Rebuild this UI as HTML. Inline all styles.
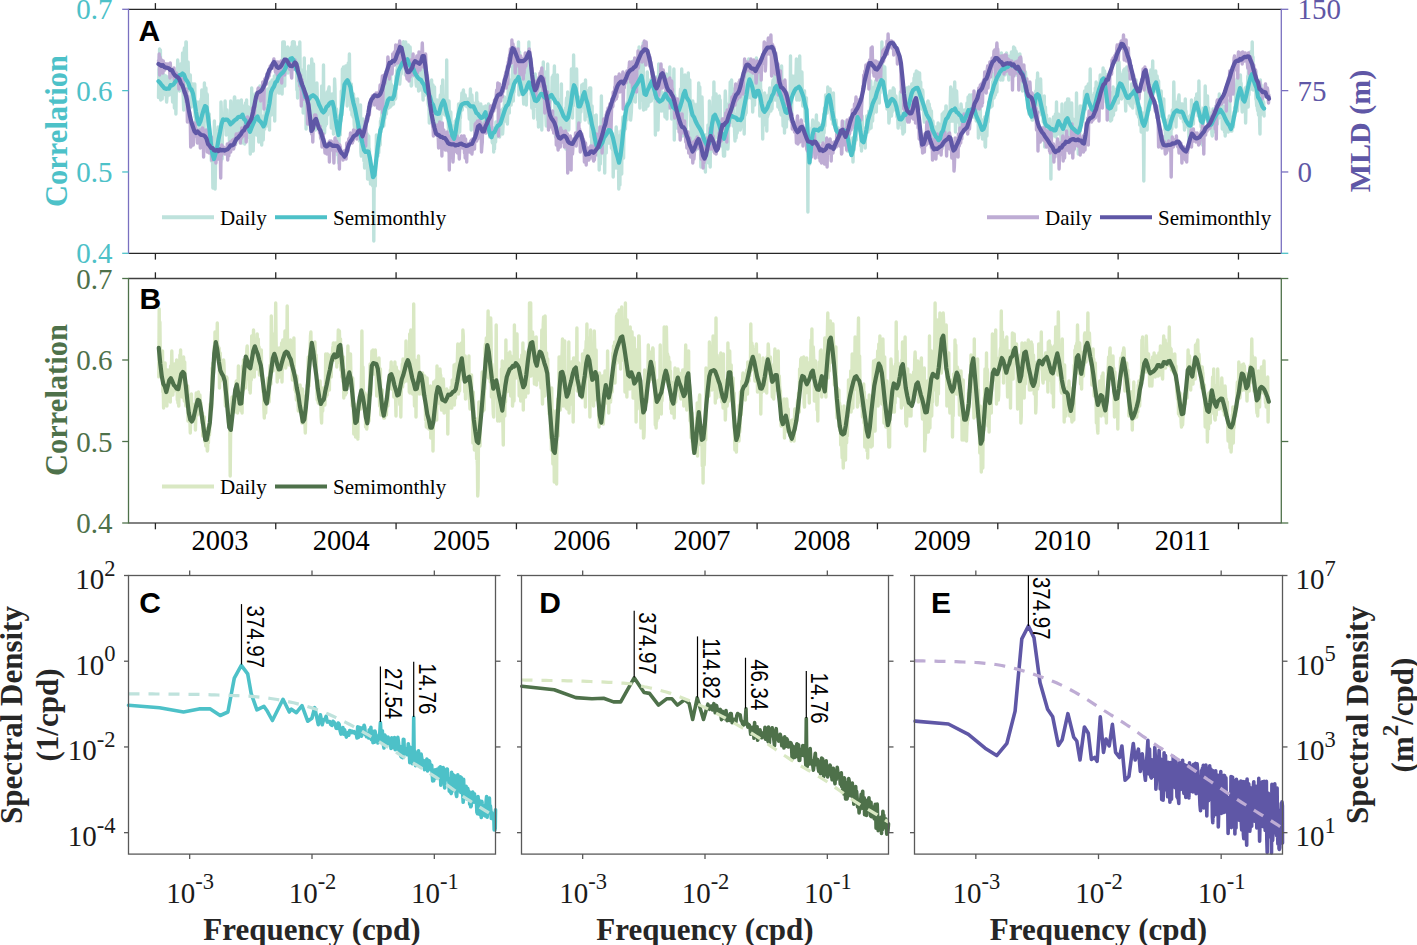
<!DOCTYPE html>
<html><head><meta charset="utf-8"><style>
html,body{margin:0;padding:0;background:#fff;width:1417px;height:945px;overflow:hidden}
svg{display:block}
</style></head><body>
<svg width="1417" height="945" viewBox="0 0 1417 945">
<rect width="1417" height="945" fill="#fff"/>
<path d="M158.5 97.6L158.9 69L159.2 72L159.6 49L160.0 90L160.4 50L160.7 100L161.1 75L161.5 86L161.8 81L162.2 99L162.6 64L162.9 80L163.3 81L163.7 81L164.1 75L164.4 84L164.8 77L165.2 87L165.5 95L165.9 76L166.3 96L166.6 102L167.0 97L167.4 85L167.8 82L168.1 77L168.5 77L168.9 84L169.2 95L169.6 80L170.0 82L170.3 78L170.7 75L171.1 76L171.5 85L171.8 70L172.2 88L172.6 102L172.9 98L173.3 83L173.7 70L174.0 71L174.4 108L174.8 86L175.2 73L175.5 84L175.9 114L176.3 86L176.6 90L177.0 85L177.4 74L177.7 60L178.1 70L178.5 73L178.9 85L179.2 90L179.6 91L180.0 81L180.3 89L180.7 64L181.1 81L181.4 83L181.8 69L182.2 80L182.6 53L182.9 90L183.3 98L183.7 110L184.0 54L184.4 48L184.8 63L185.1 59L185.5 88L185.9 42L186.3 42L186.6 68L187.0 89L187.4 82L187.7 91L188.1 62L188.5 76L188.8 84L189.2 89L189.6 87L190.0 86L190.3 75L190.7 91L191.1 90L191.4 107L191.8 96L192.2 97L192.5 87L192.9 84L193.3 102L193.7 100L194.0 95L194.4 96L194.8 84L195.1 117L195.5 103L195.9 128L196.2 123L196.6 127L197.0 102L197.4 121L197.7 133L198.1 109L198.5 118L198.8 124L199.2 102L199.6 125L199.9 135L200.3 109L200.7 124L201.1 99L201.4 114L201.8 90L202.2 128L202.5 120L202.9 111L203.3 97L203.6 125L204.0 137L204.4 83L204.8 121L205.1 113L205.5 112L205.9 88L206.2 116L206.6 100L207.0 94L207.3 95L207.7 122L208.1 130L208.5 114L208.8 131L209.2 114L209.6 142L209.9 138L210.3 138L210.7 143L211.0 149L211.4 161L211.8 160L212.2 155L212.5 156L212.9 188L213.3 163L213.6 169L214.0 154L214.4 121L214.7 168L215.1 189L215.5 165L215.9 153L216.2 149L216.6 148L217.0 143L217.3 130L217.7 135L218.1 127L218.4 142L218.8 134L219.2 138L219.6 132L219.9 147L220.3 135L220.7 162L221.0 102L221.4 114L221.8 136L222.1 159L222.5 122L222.9 121L223.3 117L223.6 118L224.0 117L224.4 127L224.7 115L225.1 101L225.5 120L225.8 125L226.2 135L226.6 119L227.0 110L227.3 125L227.7 123L228.1 123L228.4 119L228.8 135L229.2 126L229.5 146L229.9 138L230.3 131L230.7 101L231.0 127L231.4 128L231.8 133L232.1 136L232.5 118L232.9 132L233.2 115L233.6 147L234.0 106L234.4 97L234.7 97L235.1 107L235.5 104L235.8 144L236.2 118L236.6 102L236.9 131L237.3 112L237.7 101L238.1 128L238.4 127L238.8 101L239.2 135L239.5 119L239.9 137L240.3 124L240.6 137L241.0 119L241.4 100L241.8 143L242.1 111L242.5 112L242.9 106L243.2 113L243.6 119L244.0 120L244.3 127L244.7 144L245.1 120L245.5 103L245.8 104L246.2 112L246.6 100L246.9 133L247.3 120L247.7 121L248.0 126L248.4 107L248.8 114L249.2 136L249.5 138L249.9 124L250.3 154L250.6 112L251.0 114L251.4 123L251.7 88L252.1 151L252.5 133L252.9 103L253.2 151L253.6 134L254.0 128L254.3 111L254.7 119L255.1 94L255.4 127L255.8 112L256.2 118L256.6 135L256.9 121L257.3 101L257.7 121L258.0 106L258.4 129L258.8 142L259.1 132L259.5 133L259.9 86L260.3 107L260.6 100L261.0 138L261.4 122L261.7 145L262.1 116L262.5 118L262.8 127L263.2 140L263.6 129L264.0 130L264.3 128L264.7 129L265.1 109L265.4 123L265.8 110L266.2 119L266.5 126L266.9 108L267.3 113L267.7 89L268.0 116L268.4 120L268.8 95L269.1 111L269.5 130L269.9 83L270.2 85L270.6 82L271.0 89L271.4 115L271.7 93L272.1 80L272.5 97L272.8 80L273.2 102L273.6 92L273.9 106L274.3 76L274.7 121L275.1 90L275.4 94L275.8 82L276.2 71L276.5 67L276.9 77L277.3 68L277.6 82L278.0 67L278.4 86L278.8 93L279.1 68L279.5 93L279.9 75L280.2 92L280.6 83L281.0 91L281.3 62L281.7 71L282.1 94L282.5 66L282.8 42L283.2 42L283.6 42L283.9 42L284.3 42L284.7 86L285.0 64L285.4 71L285.8 65L286.2 66L286.5 57L286.9 61L287.3 69L287.6 47L288.0 73L288.4 57L288.7 58L289.1 70L289.5 50L289.9 49L290.2 59L290.6 54L291.0 50L291.3 47L291.7 49L292.1 67L292.4 42L292.8 61L293.2 42L293.6 69L293.9 68L294.3 42L294.7 65L295.0 46L295.4 65L295.8 60L296.1 68L296.5 64L296.9 90L297.3 79L297.6 98L298.0 65L298.4 47L298.7 82L299.1 88L299.5 79L299.8 42L300.2 72L300.6 89L301.0 81L301.3 83L301.7 83L302.1 75L302.4 81L302.8 70L303.2 113L303.5 70L303.9 100L304.3 58L304.7 105L305.0 71L305.4 107L305.8 98L306.1 129L306.5 82L306.9 98L307.2 104L307.6 118L308.0 95L308.4 100L308.7 66L309.1 83L309.5 104L309.8 117L310.2 96L310.6 131L310.9 130L311.3 100L311.7 59L312.1 65L312.4 82L312.8 114L313.2 104L313.5 64L313.9 91L314.3 123L314.6 94L315.0 85L315.4 130L315.8 102L316.1 92L316.5 105L316.9 83L317.2 94L317.6 120L318.0 122L318.3 118L318.7 105L319.1 123L319.5 108L319.8 115L320.2 123L320.6 123L320.9 139L321.3 120L321.7 86L322.0 91L322.4 113L322.8 109L323.2 102L323.5 65L323.9 126L324.3 107L324.6 133L325.0 105L325.4 126L325.7 121L326.1 98L326.5 124L326.9 95L327.2 92L327.6 115L328.0 96L328.3 91L328.7 89L329.1 87L329.4 112L329.8 103L330.2 101L330.6 99L330.9 107L331.3 128L331.7 117L332.0 94L332.4 112L332.8 101L333.1 100L333.5 134L333.9 103L334.3 101L334.6 79L335.0 88L335.4 121L335.7 109L336.1 130L336.5 109L336.8 114L337.2 139L337.6 155L338.0 118L338.3 154L338.7 163L339.1 139L339.4 116L339.8 124L340.2 135L340.5 117L340.9 121L341.3 91L341.7 96L342.0 115L342.4 69L342.8 80L343.1 95L343.5 67L343.9 84L344.2 76L344.6 67L345.0 80L345.4 71L345.7 66L346.1 82L346.5 66L346.8 87L347.2 106L347.6 77L347.9 83L348.3 63L348.7 90L349.1 71L349.4 54L349.8 88L350.2 88L350.5 94L350.9 110L351.3 84L351.6 92L352.0 115L352.4 109L352.8 107L353.1 117L353.5 94L353.9 110L354.2 124L354.6 129L355.0 99L355.3 106L355.7 116L356.1 110L356.5 110L356.8 126L357.2 116L357.6 99L357.9 125L358.3 120L358.7 117L359.0 107L359.4 141L359.8 106L360.2 111L360.5 105L360.9 152L361.3 156L361.6 130L362.0 140L362.4 127L362.7 156L363.1 119L363.5 146L363.9 161L364.2 150L364.6 168L365.0 143L365.3 155L365.7 161L366.1 151L366.4 167L366.8 153L367.2 134L367.6 179L367.9 156L368.3 154L368.7 136L369.0 152L369.4 149L369.8 164L370.1 165L370.5 184L370.9 169L371.3 173L371.6 174L372.0 170L372.4 171L372.7 186L373.1 186L373.5 172L373.8 241L374.2 175L374.6 185L375.0 172L375.3 186L375.7 160L376.1 163L376.4 135L376.8 148L377.2 149L377.5 154L377.9 156L378.3 145L378.7 153L379.0 145L379.4 146L379.8 130L380.1 145L380.5 121L380.9 132L381.2 118L381.6 119L382.0 109L382.4 115L382.7 122L383.1 118L383.5 104L383.8 126L384.2 117L384.6 113L384.9 118L385.3 104L385.7 89L386.1 72L386.4 114L386.8 94L387.2 109L387.5 95L387.9 103L388.3 80L388.6 108L389.0 99L389.4 107L389.8 101L390.1 107L390.5 74L390.9 106L391.2 84L391.6 87L392.0 105L392.3 100L392.7 98L393.1 98L393.5 104L393.8 93L394.2 100L394.6 86L394.9 87L395.3 99L395.7 98L396.0 76L396.4 89L396.8 70L397.2 84L397.5 57L397.9 60L398.3 66L398.6 68L399.0 83L399.4 78L399.7 84L400.1 79L400.5 64L400.9 62L401.2 74L401.6 65L402.0 62L402.3 50L402.7 57L403.1 42L403.4 56L403.8 42L404.2 68L404.6 59L404.9 59L405.3 75L405.7 42L406.0 65L406.4 48L406.8 63L407.1 67L407.5 71L407.9 57L408.3 45L408.6 67L409.0 65L409.4 66L409.7 69L410.1 47L410.5 58L410.8 55L411.2 86L411.6 85L412.0 58L412.3 71L412.7 74L413.1 76L413.4 71L413.8 62L414.2 63L414.5 66L414.9 72L415.3 69L415.7 71L416.0 82L416.4 86L416.8 63L417.1 68L417.5 66L417.9 86L418.2 76L418.6 91L419.0 74L419.4 77L419.7 65L420.1 90L420.5 77L420.8 64L421.2 73L421.6 56L421.9 79L422.3 83L422.7 86L423.1 100L423.4 83L423.8 93L424.2 90L424.5 82L424.9 68L425.3 95L425.6 85L426.0 88L426.4 76L426.8 93L427.1 94L427.5 94L427.9 93L428.2 104L428.6 106L429.0 105L429.3 123L429.7 96L430.1 96L430.5 91L430.8 105L431.2 97L431.6 80L431.9 91L432.3 105L432.7 116L433.0 85L433.4 102L433.8 108L434.2 104L434.5 87L434.9 112L435.3 115L435.6 107L436.0 127L436.4 104L436.7 126L437.1 100L437.5 119L437.9 108L438.2 103L438.6 105L439.0 111L439.3 109L439.7 124L440.1 98L440.4 95L440.8 121L441.2 111L441.6 86L441.9 106L442.3 104L442.7 80L443.0 94L443.4 100L443.8 109L444.1 114L444.5 106L444.9 115L445.3 105L445.6 98L446.0 98L446.4 114L446.7 60L447.1 118L447.5 105L447.8 112L448.2 122L448.6 131L449.0 101L449.3 113L449.7 124L450.1 121L450.4 136L450.8 112L451.2 134L451.5 138L451.9 136L452.3 146L452.7 126L453.0 146L453.4 131L453.8 145L454.1 129L454.5 145L454.9 144L455.2 121L455.6 130L456.0 130L456.4 124L456.7 119L457.1 141L457.5 126L457.8 135L458.2 113L458.6 104L458.9 113L459.3 106L459.7 132L460.1 113L460.4 118L460.8 104L461.2 101L461.5 102L461.9 93L462.3 110L462.6 101L463.0 95L463.4 90L463.8 99L464.1 104L464.5 105L464.9 101L465.2 95L465.6 102L466.0 106L466.3 101L466.7 102L467.1 100L467.5 107L467.8 99L468.2 104L468.6 107L468.9 111L469.3 119L469.7 113L470.0 111L470.4 89L470.8 110L471.2 130L471.5 100L471.9 95L472.3 103L472.6 117L473.0 114L473.4 103L473.7 107L474.1 119L474.5 115L474.9 135L475.2 123L475.6 115L476.0 117L476.3 109L476.7 93L477.1 113L477.4 118L477.8 102L478.2 109L478.6 111L478.9 117L479.3 114L479.7 115L480.0 118L480.4 126L480.8 104L481.1 129L481.5 129L481.9 118L482.3 121L482.6 117L483.0 109L483.4 107L483.7 121L484.1 117L484.5 123L484.8 115L485.2 114L485.6 106L486.0 110L486.3 112L486.7 115L487.1 124L487.4 114L487.8 128L488.2 125L488.5 104L488.9 132L489.3 118L489.7 137L490.0 126L490.4 123L490.8 124L491.1 124L491.5 131L491.9 131L492.2 142L492.6 143L493.0 136L493.4 128L493.7 152L494.1 130L494.5 149L494.8 130L495.2 142L495.6 142L495.9 122L496.3 132L496.7 137L497.1 136L497.4 127L497.8 130L498.2 123L498.5 114L498.9 134L499.3 113L499.6 137L500.0 131L500.4 113L500.8 119L501.1 117L501.5 110L501.9 123L502.2 114L502.6 134L503.0 127L503.3 108L503.7 114L504.1 112L504.5 97L504.8 121L505.2 112L505.6 121L505.9 106L506.3 119L506.7 107L507.0 116L507.4 124L507.8 108L508.2 88L508.5 74L508.9 98L509.3 113L509.6 89L510.0 80L510.4 99L510.7 101L511.1 105L511.5 85L511.9 87L512.2 101L512.6 66L513.0 71L513.3 101L513.7 89L514.1 92L514.4 81L514.8 67L515.2 64L515.6 75L515.9 78L516.3 71L516.7 82L517.0 68L517.4 79L517.8 78L518.1 68L518.5 42L518.9 95L519.3 86L519.6 52L520.0 75L520.4 88L520.7 83L521.1 94L521.5 76L521.8 90L522.2 89L522.6 79L523.0 89L523.3 95L523.7 104L524.1 87L524.4 67L524.8 93L525.2 88L525.5 95L525.9 98L526.3 105L526.7 87L527.0 58L527.4 82L527.8 89L528.1 83L528.5 82L528.9 42L529.2 87L529.6 80L530.0 66L530.4 73L530.7 75L531.1 94L531.5 96L531.8 108L532.2 101L532.6 79L532.9 77L533.3 108L533.7 118L534.1 98L534.4 107L534.8 82L535.2 74L535.5 84L535.9 96L536.3 85L536.6 97L537.0 94L537.4 101L537.8 120L538.1 101L538.5 127L538.9 88L539.2 87L539.6 99L540.0 89L540.3 93L540.7 79L541.1 100L541.5 96L541.8 130L542.2 89L542.6 89L542.9 95L543.3 62L543.7 100L544.0 102L544.4 98L544.8 75L545.2 72L545.5 92L545.9 117L546.3 126L546.6 89L547.0 83L547.4 94L547.7 64L548.1 87L548.5 111L548.9 113L549.2 98L549.6 124L550.0 104L550.3 101L550.7 94L551.1 99L551.4 92L551.8 93L552.2 77L552.6 98L552.9 96L553.3 75L553.7 91L554.0 84L554.4 66L554.8 102L555.1 122L555.5 137L555.9 109L556.3 90L556.6 113L557.0 120L557.4 75L557.7 114L558.1 115L558.5 100L558.8 110L559.2 108L559.6 133L560.0 100L560.3 105L560.7 109L561.1 115L561.4 84L561.8 132L562.2 119L562.5 124L562.9 119L563.3 114L563.7 111L564.0 114L564.4 121L564.8 137L565.1 120L565.5 108L565.9 149L566.2 103L566.6 98L567.0 123L567.4 116L567.7 92L568.1 109L568.5 104L568.8 130L569.2 104L569.6 106L569.9 113L570.3 105L570.7 104L571.1 108L571.4 69L571.8 99L572.2 90L572.5 118L572.9 85L573.3 106L573.6 55L574.0 86L574.4 91L574.8 84L575.1 87L575.5 87L575.9 85L576.2 93L576.6 69L577.0 92L577.3 133L577.7 106L578.1 110L578.5 101L578.8 111L579.2 115L579.6 108L579.9 122L580.3 97L580.7 104L581.0 112L581.4 101L581.8 85L582.2 107L582.5 86L582.9 91L583.3 84L583.6 93L584.0 88L584.4 86L584.7 103L585.1 120L585.5 80L585.9 103L586.2 93L586.6 100L587.0 116L587.3 104L587.7 91L588.1 93L588.4 96L588.8 107L589.2 123L589.6 88L589.9 90L590.3 98L590.7 88L591.0 137L591.4 122L591.8 152L592.1 106L592.5 146L592.9 120L593.3 124L593.6 118L594.0 120L594.4 116L594.7 141L595.1 122L595.5 137L595.8 144L596.2 115L596.6 149L597.0 152L597.3 155L597.7 144L598.1 153L598.4 132L598.8 132L599.2 170L599.5 147L599.9 133L600.3 164L600.7 142L601.0 125L601.4 96L601.8 136L602.1 124L602.5 129L602.9 148L603.2 134L603.6 137L604.0 133L604.4 154L604.7 173L605.1 130L605.5 143L605.8 152L606.2 153L606.6 124L606.9 125L607.3 122L607.7 117L608.1 120L608.4 133L608.8 121L609.2 143L609.5 122L609.9 125L610.3 143L610.6 137L611.0 135L611.4 148L611.8 144L612.1 134L612.5 150L612.9 143L613.2 177L613.6 161L614.0 162L614.3 166L614.7 149L615.1 168L615.5 151L615.8 137L616.2 127L616.6 161L616.9 131L617.3 158L617.7 147L618.0 169L618.4 149L618.8 189L619.2 176L619.5 142L619.9 185L620.3 135L620.6 143L621.0 131L621.4 159L621.7 174L622.1 138L622.5 124L622.9 117L623.2 155L623.6 158L624.0 123L624.3 131L624.7 121L625.1 116L625.4 129L625.8 120L626.2 108L626.6 104L626.9 120L627.3 102L627.7 105L628.0 107L628.4 83L628.8 94L629.1 94L629.5 100L629.9 80L630.3 76L630.6 120L631.0 116L631.4 111L631.7 101L632.1 102L632.5 91L632.8 99L633.2 61L633.6 69L634.0 99L634.3 89L634.7 67L635.1 95L635.4 102L635.8 73L636.2 85L636.5 70L636.9 83L637.3 89L637.7 76L638.0 88L638.4 86L638.8 86L639.1 47L639.5 93L639.9 108L640.2 75L640.6 55L641.0 86L641.4 72L641.7 64L642.1 100L642.5 63L642.8 95L643.2 43L643.6 110L643.9 101L644.3 89L644.7 96L645.1 105L645.4 109L645.8 109L646.2 104L646.5 87L646.9 103L647.3 72L647.6 104L648.0 106L648.4 98L648.8 82L649.1 91L649.5 102L649.9 93L650.2 80L650.6 91L651.0 87L651.3 101L651.7 77L652.1 89L652.5 90L652.8 98L653.2 87L653.6 90L653.9 87L654.3 90L654.7 91L655.0 87L655.4 135L655.8 86L656.2 77L656.5 83L656.9 86L657.3 99L657.6 123L658.0 130L658.4 109L658.7 64L659.1 104L659.5 82L659.9 92L660.2 82L660.6 106L661.0 91L661.3 111L661.7 108L662.1 96L662.4 99L662.8 105L663.2 93L663.6 111L663.9 98L664.3 101L664.7 109L665.0 117L665.4 106L665.8 97L666.1 107L666.5 74L666.9 119L667.3 79L667.6 109L668.0 87L668.4 105L668.7 98L669.1 103L669.5 89L669.8 67L670.2 103L670.6 91L671.0 92L671.3 91L671.7 119L672.1 98L672.4 108L672.8 89L673.2 105L673.5 100L673.9 69L674.3 140L674.7 95L675.0 126L675.4 121L675.8 120L676.1 107L676.5 112L676.9 128L677.2 107L677.6 106L678.0 125L678.4 112L678.7 102L679.1 129L679.5 114L679.8 105L680.2 94L680.6 89L680.9 116L681.3 118L681.7 69L682.1 87L682.4 112L682.8 136L683.2 134L683.5 114L683.9 119L684.3 88L684.6 105L685.0 75L685.4 83L685.8 85L686.1 129L686.5 110L686.9 89L687.2 95L687.6 78L688.0 105L688.3 73L688.7 103L689.1 89L689.5 103L689.8 80L690.2 110L690.6 126L690.9 123L691.3 141L691.7 118L692.0 119L692.4 121L692.8 101L693.2 147L693.5 134L693.9 115L694.3 104L694.6 127L695.0 134L695.4 124L695.7 125L696.1 120L696.5 123L696.9 145L697.2 149L697.6 104L698.0 126L698.3 108L698.7 83L699.1 135L699.4 116L699.8 87L700.2 137L700.6 153L700.9 167L701.3 131L701.7 157L702.0 97L702.4 116L702.8 144L703.1 147L703.5 161L703.9 158L704.3 142L704.6 164L705.0 156L705.4 172L705.7 135L706.1 149L706.5 139L706.8 158L707.2 144L707.6 141L708.0 125L708.3 149L708.7 163L709.1 161L709.4 101L709.8 109L710.2 167L710.5 135L710.9 130L711.3 147L711.7 132L712.0 114L712.4 118L712.8 151L713.1 97L713.5 137L713.9 82L714.2 110L714.6 144L715.0 108L715.4 129L715.7 107L716.1 94L716.5 113L716.8 137L717.2 119L717.6 130L717.9 126L718.3 125L718.7 118L719.1 128L719.4 96L719.8 118L720.2 100L720.5 132L720.9 136L721.3 121L721.6 146L722.0 143L722.4 142L722.8 132L723.1 145L723.5 156L723.9 130L724.2 125L724.6 156L725.0 101L725.3 91L725.7 101L726.1 133L726.5 134L726.8 138L727.2 129L727.6 149L727.9 149L728.3 142L728.7 104L729.0 123L729.4 105L729.8 108L730.2 82L730.5 113L730.9 122L731.3 117L731.6 80L732.0 91L732.4 102L732.7 103L733.1 126L733.5 89L733.9 113L734.2 114L734.6 132L735.0 141L735.3 126L735.7 116L736.1 138L736.4 127L736.8 115L737.2 133L737.6 106L737.9 87L738.3 127L738.7 125L739.0 88L739.4 89L739.8 119L740.1 130L740.5 129L740.9 103L741.3 103L741.6 127L742.0 86L742.4 115L742.7 117L743.1 125L743.5 81L743.8 109L744.2 134L744.6 100L745.0 99L745.3 115L745.7 90L746.1 113L746.4 105L746.8 73L747.2 91L747.5 69L747.9 98L748.3 65L748.7 59L749.0 66L749.4 69L749.8 97L750.1 84L750.5 81L750.9 98L751.2 77L751.6 78L752.0 61L752.4 97L752.7 112L753.1 97L753.5 85L753.8 87L754.2 81L754.6 105L754.9 83L755.3 90L755.7 79L756.1 67L756.4 58L756.8 76L757.2 90L757.5 84L757.9 83L758.3 74L758.6 76L759.0 76L759.4 84L759.8 116L760.1 95L760.5 80L760.9 112L761.2 90L761.6 108L762.0 100L762.3 106L762.7 139L763.1 103L763.5 102L763.8 112L764.2 113L764.6 93L764.9 104L765.3 118L765.7 125L766.0 103L766.4 98L766.8 131L767.2 96L767.5 117L767.9 115L768.3 96L768.6 114L769.0 95L769.4 93L769.7 88L770.1 110L770.5 96L770.9 111L771.2 92L771.6 103L772.0 109L772.3 95L772.7 83L773.1 80L773.4 100L773.8 95L774.2 84L774.6 70L774.9 90L775.3 100L775.7 100L776.0 89L776.4 82L776.8 77L777.1 69L777.5 69L777.9 107L778.3 89L778.6 98L779.0 92L779.4 75L779.7 110L780.1 87L780.5 90L780.8 113L781.2 115L781.6 66L782.0 99L782.3 91L782.7 109L783.1 126L783.4 103L783.8 125L784.2 99L784.5 133L784.9 104L785.3 106L785.7 113L786.0 98L786.4 127L786.8 102L787.1 117L787.5 98L787.9 111L788.2 104L788.6 106L789.0 112L789.4 97L789.7 119L790.1 108L790.5 56L790.8 120L791.2 107L791.6 115L791.9 98L792.3 76L792.7 90L793.1 83L793.4 92L793.8 88L794.2 93L794.5 76L794.9 82L795.3 86L795.6 94L796.0 75L796.4 59L796.8 100L797.1 79L797.5 92L797.9 98L798.2 88L798.6 94L799.0 95L799.3 100L799.7 56L800.1 86L800.5 94L800.8 83L801.2 89L801.6 85L801.9 72L802.3 93L802.7 106L803.0 92L803.4 96L803.8 93L804.2 92L804.5 91L804.9 109L805.3 121L805.6 101L806.0 101L806.4 98L806.7 121L807.1 123L807.5 123L807.9 212L808.2 136L808.6 160L809.0 159L809.3 151L809.7 164L810.1 158L810.4 149L810.8 153L811.2 139L811.6 148L811.9 128L812.3 127L812.7 120L813.0 125L813.4 122L813.8 125L814.1 128L814.5 133L814.9 129L815.3 130L815.6 143L816.0 127L816.4 115L816.7 135L817.1 146L817.5 132L817.8 136L818.2 123L818.6 127L819.0 134L819.3 132L819.7 125L820.1 142L820.4 132L820.8 136L821.2 132L821.5 135L821.9 136L822.3 126L822.7 133L823.0 142L823.4 140L823.8 114L824.1 133L824.5 108L824.9 126L825.2 114L825.6 95L826.0 106L826.4 111L826.7 95L827.1 113L827.5 109L827.8 87L828.2 102L828.6 95L828.9 90L829.3 93L829.7 93L830.1 89L830.4 95L830.8 106L831.2 115L831.5 119L831.9 106L832.3 110L832.6 107L833.0 124L833.4 93L833.8 109L834.1 117L834.5 126L834.9 124L835.2 128L835.6 130L836.0 120L836.3 124L836.7 129L837.1 137L837.5 136L837.8 142L838.2 128L838.6 140L838.9 142L839.3 133L839.7 135L840.0 134L840.4 136L840.8 135L841.2 143L841.5 136L841.9 138L842.3 134L842.6 122L843.0 132L843.4 128L843.7 124L844.1 122L844.5 128L844.9 124L845.2 145L845.6 144L846.0 130L846.3 138L846.7 140L847.1 135L847.4 151L847.8 147L848.2 140L848.6 127L848.9 135L849.3 149L849.7 146L850.0 151L850.4 146L850.8 155L851.1 151L851.5 141L851.9 151L852.3 148L852.6 138L853.0 162L853.4 149L853.7 143L854.1 150L854.5 140L854.8 144L855.2 121L855.6 120L856.0 131L856.3 140L856.7 125L857.1 124L857.4 112L857.8 117L858.2 112L858.5 119L858.9 130L859.3 108L859.7 129L860.0 123L860.4 100L860.8 146L861.1 124L861.5 151L861.9 126L862.2 116L862.6 143L863.0 142L863.4 142L863.7 140L864.1 134L864.5 133L864.8 128L865.2 148L865.6 132L865.9 132L866.3 128L866.7 116L867.1 130L867.4 129L867.8 132L868.2 120L868.5 116L868.9 111L869.3 129L869.6 125L870.0 114L870.4 117L870.8 81L871.1 128L871.5 96L871.9 103L872.2 101L872.6 121L873.0 106L873.3 114L873.7 101L874.1 87L874.5 105L874.8 92L875.2 83L875.6 81L875.9 101L876.3 112L876.7 80L877.0 69L877.4 97L877.8 93L878.2 63L878.5 90L878.9 66L879.3 103L879.6 63L880.0 93L880.4 77L880.7 75L881.1 83L881.5 70L881.9 42L882.2 85L882.6 65L883.0 68L883.3 83L883.7 84L884.1 75L884.4 75L884.8 67L885.2 87L885.6 95L885.9 101L886.3 97L886.7 96L887.0 109L887.4 101L887.8 99L888.1 103L888.5 98L888.9 123L889.3 119L889.6 95L890.0 91L890.4 99L890.7 104L891.1 99L891.5 116L891.8 109L892.2 112L892.6 95L893.0 90L893.3 88L893.7 97L894.1 89L894.4 95L894.8 98L895.2 110L895.5 102L895.9 96L896.3 104L896.7 107L897.0 117L897.4 107L897.8 120L898.1 128L898.5 123L898.9 121L899.2 116L899.6 114L900.0 101L900.4 92L900.7 117L901.1 121L901.5 125L901.8 113L902.2 129L902.6 121L902.9 134L903.3 121L903.7 121L904.1 115L904.4 132L904.8 95L905.2 108L905.5 110L905.9 97L906.3 102L906.6 88L907.0 110L907.4 95L907.8 110L908.1 105L908.5 97L908.9 87L909.2 94L909.6 97L910.0 89L910.3 105L910.7 89L911.1 111L911.5 93L911.8 84L912.2 104L912.6 105L912.9 88L913.3 83L913.7 96L914.0 78L914.4 96L914.8 74L915.2 84L915.5 87L915.9 99L916.3 71L916.6 89L917.0 88L917.4 90L917.7 72L918.1 77L918.5 86L918.9 90L919.2 109L919.6 73L920.0 96L920.3 103L920.7 82L921.1 104L921.4 108L921.8 109L922.2 99L922.6 90L922.9 92L923.3 105L923.7 110L924.0 118L924.4 122L924.8 118L925.1 110L925.5 112L925.9 108L926.3 122L926.6 116L927.0 116L927.4 102L927.7 102L928.1 101L928.5 130L928.8 130L929.2 104L929.6 119L930.0 108L930.3 120L930.7 130L931.1 116L931.4 111L931.8 129L932.2 132L932.5 130L932.9 121L933.3 127L933.7 135L934.0 132L934.4 153L934.8 139L935.1 134L935.5 140L935.9 127L936.2 139L936.6 151L937.0 131L937.4 134L937.7 144L938.1 123L938.5 150L938.8 130L939.2 134L939.6 141L939.9 135L940.3 145L940.7 139L941.1 124L941.4 136L941.8 148L942.2 114L942.5 133L942.9 127L943.3 118L943.6 117L944.0 112L944.4 130L944.8 113L945.1 119L945.5 123L945.9 106L946.2 106L946.6 146L947.0 112L947.3 126L947.7 113L948.1 121L948.5 113L948.8 137L949.2 112L949.6 122L949.9 120L950.3 100L950.7 87L951.0 115L951.4 121L951.8 105L952.2 102L952.5 120L952.9 121L953.3 121L953.6 113L954.0 89L954.4 93L954.7 82L955.1 106L955.5 132L955.9 117L956.2 110L956.6 91L957.0 101L957.3 111L957.7 109L958.1 122L958.4 113L958.8 122L959.2 115L959.6 114L959.9 130L960.3 111L960.7 114L961.0 104L961.4 108L961.8 130L962.1 127L962.5 117L962.9 130L963.3 126L963.6 127L964.0 123L964.4 110L964.7 122L965.1 126L965.5 110L965.8 117L966.2 125L966.6 113L967.0 103L967.3 113L967.7 126L968.1 97L968.4 110L968.8 104L969.2 107L969.5 95L969.9 120L970.3 97L970.7 103L971.0 101L971.4 98L971.8 95L972.1 100L972.5 106L972.9 108L973.2 117L973.6 102L974.0 101L974.4 102L974.7 111L975.1 110L975.5 118L975.8 106L976.2 121L976.6 119L976.9 115L977.3 112L977.7 120L978.1 113L978.4 138L978.8 126L979.2 131L979.5 115L979.9 111L980.3 104L980.6 134L981.0 123L981.4 125L981.8 124L982.1 132L982.5 139L982.9 120L983.2 134L983.6 124L984.0 125L984.3 127L984.7 117L985.1 146L985.5 147L985.8 132L986.2 128L986.6 113L986.9 136L987.3 118L987.7 114L988.0 122L988.4 113L988.8 102L989.2 104L989.5 101L989.9 102L990.3 104L990.6 103L991.0 107L991.4 96L991.7 100L992.1 106L992.5 82L992.9 94L993.2 80L993.6 74L994.0 98L994.3 96L994.7 90L995.1 80L995.4 95L995.8 72L996.2 81L996.6 85L996.9 92L997.3 67L997.7 56L998.0 76L998.4 79L998.8 78L999.1 68L999.5 73L999.9 61L1000.3 75L1000.6 80L1001.0 66L1001.4 53L1001.7 67L1002.1 68L1002.5 68L1002.8 80L1003.2 70L1003.6 61L1004.0 72L1004.3 59L1004.7 75L1005.1 66L1005.4 62L1005.8 68L1006.2 67L1006.5 53L1006.9 57L1007.3 74L1007.7 67L1008.0 70L1008.4 73L1008.8 80L1009.1 61L1009.5 58L1009.9 56L1010.2 59L1010.6 56L1011.0 63L1011.4 52L1011.7 69L1012.1 55L1012.5 58L1012.8 66L1013.2 70L1013.6 47L1013.9 58L1014.3 62L1014.7 48L1015.1 67L1015.4 74L1015.8 51L1016.2 52L1016.5 71L1016.9 75L1017.3 54L1017.6 57L1018.0 71L1018.4 65L1018.8 62L1019.1 79L1019.5 71L1019.9 54L1020.2 69L1020.6 58L1021.0 75L1021.3 79L1021.7 76L1022.1 81L1022.5 91L1022.8 83L1023.2 73L1023.6 68L1023.9 81L1024.3 73L1024.7 71L1025.0 81L1025.4 72L1025.8 77L1026.2 96L1026.5 92L1026.9 95L1027.3 100L1027.6 86L1028.0 106L1028.4 108L1028.7 109L1029.1 114L1029.5 92L1029.9 112L1030.2 115L1030.6 105L1031.0 116L1031.3 103L1031.7 114L1032.1 120L1032.4 100L1032.8 120L1033.2 113L1033.6 113L1033.9 112L1034.3 111L1034.7 116L1035.0 112L1035.4 106L1035.8 91L1036.1 100L1036.5 91L1036.9 80L1037.3 93L1037.6 73L1038.0 105L1038.4 95L1038.7 96L1039.1 85L1039.5 94L1039.8 95L1040.2 112L1040.6 79L1041.0 93L1041.3 103L1041.7 115L1042.1 113L1042.4 100L1042.8 103L1043.2 122L1043.5 121L1043.9 112L1044.3 96L1044.7 147L1045.0 138L1045.4 107L1045.8 117L1046.1 130L1046.5 115L1046.9 135L1047.2 143L1047.6 128L1048.0 124L1048.4 125L1048.7 135L1049.1 142L1049.5 137L1049.8 119L1050.2 134L1050.6 124L1050.9 179L1051.3 134L1051.7 138L1052.1 130L1052.4 129L1052.8 133L1053.2 129L1053.5 117L1053.9 120L1054.3 134L1054.6 125L1055.0 136L1055.4 114L1055.8 137L1056.1 126L1056.5 102L1056.9 131L1057.2 124L1057.6 127L1058.0 134L1058.3 114L1058.7 115L1059.1 123L1059.5 129L1059.8 118L1060.2 117L1060.6 132L1060.9 136L1061.3 141L1061.7 126L1062.0 104L1062.4 131L1062.8 136L1063.2 115L1063.5 128L1063.9 130L1064.3 129L1064.6 120L1065.0 119L1065.4 127L1065.7 103L1066.1 126L1066.5 115L1066.9 124L1067.2 110L1067.6 99L1068.0 127L1068.3 135L1068.7 99L1069.1 104L1069.4 119L1069.8 110L1070.2 128L1070.6 115L1070.9 117L1071.3 125L1071.7 103L1072.0 120L1072.4 145L1072.8 135L1073.1 119L1073.5 138L1073.9 150L1074.3 144L1074.6 126L1075.0 124L1075.4 127L1075.7 121L1076.1 131L1076.5 93L1076.8 123L1077.2 135L1077.6 127L1078.0 130L1078.3 154L1078.7 137L1079.1 140L1079.4 135L1079.8 135L1080.2 106L1080.5 119L1080.9 121L1081.3 117L1081.7 118L1082.0 120L1082.4 106L1082.8 121L1083.1 110L1083.5 119L1083.9 108L1084.2 99L1084.6 91L1085.0 93L1085.4 97L1085.7 109L1086.1 87L1086.5 103L1086.8 96L1087.2 90L1087.6 86L1087.9 102L1088.3 84L1088.7 96L1089.1 97L1089.4 103L1089.8 99L1090.2 69L1090.5 110L1090.9 100L1091.3 110L1091.6 116L1092.0 109L1092.4 96L1092.8 113L1093.1 109L1093.5 109L1093.9 108L1094.2 93L1094.6 94L1095.0 108L1095.3 88L1095.7 111L1096.1 82L1096.5 99L1096.8 102L1097.2 93L1097.6 104L1097.9 84L1098.3 99L1098.7 93L1099.0 88L1099.4 96L1099.8 92L1100.2 75L1100.5 95L1100.9 92L1101.3 83L1101.6 81L1102.0 90L1102.4 94L1102.7 84L1103.1 68L1103.5 76L1103.9 85L1104.2 74L1104.6 71L1105.0 83L1105.3 87L1105.7 92L1106.1 102L1106.4 75L1106.8 96L1107.2 98L1107.6 103L1107.9 108L1108.3 119L1108.7 111L1109.0 110L1109.4 102L1109.8 111L1110.1 109L1110.5 121L1110.9 93L1111.3 94L1111.6 120L1112.0 113L1112.4 112L1112.7 116L1113.1 87L1113.5 115L1113.8 92L1114.2 91L1114.6 109L1115.0 90L1115.3 103L1115.7 110L1116.1 92L1116.4 89L1116.8 100L1117.2 102L1117.5 95L1117.9 48L1118.3 103L1118.7 96L1119.0 62L1119.4 74L1119.8 72L1120.1 74L1120.5 85L1120.9 75L1121.2 97L1121.6 99L1122.0 88L1122.4 75L1122.7 85L1123.1 91L1123.5 97L1123.8 70L1124.2 91L1124.6 69L1124.9 87L1125.3 97L1125.7 111L1126.1 93L1126.4 92L1126.8 67L1127.2 72L1127.5 91L1127.9 102L1128.3 96L1128.6 98L1129.0 102L1129.4 99L1129.8 104L1130.1 101L1130.5 104L1130.9 106L1131.2 99L1131.6 84L1132.0 97L1132.3 96L1132.7 108L1133.1 100L1133.5 84L1133.8 86L1134.2 100L1134.6 92L1134.9 83L1135.3 96L1135.7 99L1136.0 80L1136.4 104L1136.8 98L1137.2 114L1137.5 94L1137.9 109L1138.3 113L1138.6 117L1139.0 109L1139.4 107L1139.7 125L1140.1 120L1140.5 108L1140.9 118L1141.2 132L1141.6 122L1142.0 117L1142.3 130L1142.7 113L1143.1 130L1143.4 134L1143.8 181L1144.2 128L1144.6 127L1144.9 121L1145.3 117L1145.7 92L1146.0 88L1146.4 116L1146.8 109L1147.1 130L1147.5 114L1147.9 107L1148.3 106L1148.6 100L1149.0 90L1149.4 110L1149.7 102L1150.1 94L1150.5 88L1150.8 70L1151.2 85L1151.6 95L1152.0 77L1152.3 80L1152.7 61L1153.1 88L1153.4 86L1153.8 82L1154.2 81L1154.5 85L1154.9 75L1155.3 85L1155.7 71L1156.0 84L1156.4 79L1156.8 92L1157.1 76L1157.5 82L1157.9 80L1158.2 96L1158.6 81L1159.0 99L1159.4 99L1159.7 101L1160.1 94L1160.5 104L1160.8 116L1161.2 91L1161.6 108L1161.9 101L1162.3 102L1162.7 105L1163.1 118L1163.4 116L1163.8 99L1164.2 122L1164.5 119L1164.9 130L1165.3 120L1165.6 143L1166.0 121L1166.4 134L1166.8 122L1167.1 130L1167.5 120L1167.9 138L1168.2 130L1168.6 140L1169.0 129L1169.3 116L1169.7 120L1170.1 122L1170.5 135L1170.8 145L1171.2 123L1171.6 123L1171.9 129L1172.3 110L1172.7 114L1173.0 121L1173.4 118L1173.8 82L1174.2 105L1174.5 112L1174.9 117L1175.3 105L1175.6 111L1176.0 127L1176.4 110L1176.7 115L1177.1 102L1177.5 104L1177.9 106L1178.2 102L1178.6 98L1179.0 95L1179.3 106L1179.7 116L1180.1 115L1180.4 116L1180.8 118L1181.2 104L1181.6 104L1181.9 108L1182.3 104L1182.7 114L1183.0 108L1183.4 122L1183.8 108L1184.1 119L1184.5 130L1184.9 109L1185.3 99L1185.6 113L1186.0 111L1186.4 122L1186.7 126L1187.1 117L1187.5 119L1187.8 126L1188.2 128L1188.6 117L1189.0 144L1189.3 126L1189.7 127L1190.1 122L1190.4 115L1190.8 117L1191.2 135L1191.5 100L1191.9 118L1192.3 108L1192.7 106L1193.0 118L1193.4 124L1193.8 105L1194.1 109L1194.5 107L1194.9 104L1195.2 110L1195.6 98L1196.0 105L1196.4 101L1196.7 94L1197.1 96L1197.5 111L1197.8 103L1198.2 116L1198.6 111L1198.9 81L1199.3 105L1199.7 107L1200.1 121L1200.4 119L1200.8 121L1201.2 127L1201.5 127L1201.9 122L1202.3 144L1202.6 145L1203.0 126L1203.4 108L1203.8 109L1204.1 120L1204.5 110L1204.9 111L1205.2 86L1205.6 110L1206.0 118L1206.3 102L1206.7 108L1207.1 111L1207.5 96L1207.8 111L1208.2 110L1208.6 108L1208.9 113L1209.3 124L1209.7 127L1210.0 128L1210.4 122L1210.8 120L1211.2 127L1211.5 113L1211.9 134L1212.3 136L1212.6 122L1213.0 109L1213.4 123L1213.7 116L1214.1 128L1214.5 127L1214.9 110L1215.2 127L1215.6 132L1216.0 122L1216.3 122L1216.7 103L1217.1 106L1217.4 124L1217.8 116L1218.2 112L1218.6 111L1218.9 118L1219.3 94L1219.7 106L1220.0 107L1220.4 108L1220.8 106L1221.1 111L1221.5 107L1221.9 107L1222.3 129L1222.6 114L1223.0 129L1223.4 106L1223.7 121L1224.1 116L1224.5 132L1224.8 114L1225.2 136L1225.6 115L1226.0 119L1226.3 109L1226.7 120L1227.1 120L1227.4 111L1227.8 101L1228.2 132L1228.5 131L1228.9 119L1229.3 125L1229.7 101L1230.0 124L1230.4 129L1230.8 131L1231.1 122L1231.5 124L1231.9 131L1232.2 118L1232.6 117L1233.0 123L1233.4 127L1233.7 116L1234.1 112L1234.5 117L1234.8 107L1235.2 113L1235.6 96L1235.9 88L1236.3 109L1236.7 85L1237.1 79L1237.4 111L1237.8 104L1238.2 87L1238.5 94L1238.9 76L1239.3 77L1239.6 88L1240.0 98L1240.4 75L1240.8 91L1241.1 83L1241.5 93L1241.9 105L1242.2 112L1242.6 102L1243.0 99L1243.3 103L1243.7 106L1244.1 93L1244.5 94L1244.8 90L1245.2 88L1245.6 123L1245.9 110L1246.3 87L1246.7 94L1247.0 97L1247.4 90L1247.8 76L1248.2 107L1248.5 61L1248.9 95L1249.3 85L1249.6 65L1250.0 77L1250.4 52L1250.7 80L1251.1 89L1251.5 70L1251.9 80L1252.2 42L1252.6 66L1253.0 57L1253.3 90L1253.7 84L1254.1 80L1254.4 78L1254.8 79L1255.2 83L1255.6 71L1255.9 99L1256.3 100L1256.7 106L1257.0 88L1257.4 109L1257.8 111L1258.1 104L1258.5 115L1258.9 83L1259.3 99L1259.6 121L1260.0 134L1260.4 80L1260.7 115L1261.1 85L1261.5 105L1261.8 95L1262.2 103L1262.6 96L1263.0 111L1263.3 104L1263.7 102L1264.1 116" fill="none" stroke="#bee2dc" stroke-width="3.4" stroke-linejoin="round" stroke-linecap="round"/><path d="M158.5 60.6L158.9 64L159.2 54L159.6 75L160.0 57L160.4 60L160.7 65L161.1 60L161.5 60L161.8 61L162.2 66L162.6 73L162.9 73L163.3 61L163.7 67L164.1 64L164.4 65L164.8 70L165.2 64L165.5 66L165.9 64L166.3 66L166.6 68L167.0 64L167.4 66L167.8 67L168.1 66L168.5 67L168.9 64L169.2 68L169.6 69L170.0 78L170.3 63L170.7 70L171.1 72L171.5 76L171.8 74L172.2 70L172.6 76L172.9 75L173.3 73L173.7 77L174.0 68L174.4 80L174.8 81L175.2 75L175.5 78L175.9 82L176.3 73L176.6 77L177.0 81L177.4 77L177.7 77L178.1 78L178.5 81L178.9 89L179.2 78L179.6 86L180.0 82L180.3 76L180.7 81L181.1 83L181.4 84L181.8 86L182.2 79L182.6 86L182.9 85L183.3 82L183.7 91L184.0 93L184.4 89L184.8 95L185.1 92L185.5 95L185.9 92L186.3 102L186.6 89L187.0 99L187.4 122L187.7 96L188.1 104L188.5 107L188.8 112L189.2 116L189.6 112L190.0 117L190.3 121L190.7 147L191.1 146L191.4 135L191.8 125L192.2 128L192.5 128L192.9 134L193.3 145L193.7 133L194.0 132L194.4 130L194.8 136L195.1 123L195.5 136L195.9 134L196.2 129L196.6 134L197.0 132L197.4 143L197.7 142L198.1 136L198.5 131L198.8 131L199.2 132L199.6 131L199.9 130L200.3 148L200.7 133L201.1 132L201.4 131L201.8 130L202.2 147L202.5 128L202.9 129L203.3 137L203.6 157L204.0 137L204.4 140L204.8 142L205.1 141L205.5 132L205.9 141L206.2 130L206.6 137L207.0 136L207.3 152L207.7 142L208.1 140L208.5 146L208.8 136L209.2 153L209.6 147L209.9 146L210.3 152L210.7 145L211.0 140L211.4 137L211.8 160L212.2 155L212.5 158L212.9 148L213.3 153L213.6 153L214.0 153L214.4 150L214.7 158L215.1 151L215.5 152L215.9 163L216.2 155L216.6 150L217.0 157L217.3 150L217.7 158L218.1 154L218.4 159L218.8 150L219.2 151L219.6 153L219.9 152L220.3 153L220.7 178L221.0 154L221.4 156L221.8 145L222.1 151L222.5 153L222.9 149L223.3 147L223.6 151L224.0 149L224.4 149L224.7 153L225.1 154L225.5 151L225.8 148L226.2 150L226.6 151L227.0 151L227.3 144L227.7 160L228.1 149L228.4 154L228.8 156L229.2 150L229.5 143L229.9 144L230.3 142L230.7 152L231.0 147L231.4 147L231.8 149L232.1 144L232.5 140L232.9 142L233.2 143L233.6 149L234.0 147L234.4 139L234.7 144L235.1 145L235.5 138L235.8 140L236.2 134L236.6 140L236.9 138L237.3 134L237.7 139L238.1 139L238.4 135L238.8 138L239.2 139L239.5 133L239.9 134L240.3 143L240.6 136L241.0 139L241.4 133L241.8 128L242.1 137L242.5 134L242.9 136L243.2 135L243.6 132L244.0 134L244.3 131L244.7 127L245.1 125L245.5 126L245.8 118L246.2 142L246.6 121L246.9 131L247.3 120L247.7 117L248.0 123L248.4 123L248.8 123L249.2 125L249.5 120L249.9 123L250.3 124L250.6 119L251.0 118L251.4 121L251.7 119L252.1 118L252.5 108L252.9 114L253.2 114L253.6 111L254.0 111L254.3 115L254.7 108L255.1 107L255.4 100L255.8 98L256.2 97L256.6 94L256.9 95L257.3 92L257.7 94L258.0 89L258.4 88L258.8 91L259.1 98L259.5 90L259.9 90L260.3 91L260.6 101L261.0 99L261.4 94L261.7 90L262.1 95L262.5 85L262.8 82L263.2 88L263.6 87L264.0 109L264.3 85L264.7 79L265.1 80L265.4 85L265.8 84L266.2 77L266.5 84L266.9 74L267.3 74L267.7 76L268.0 78L268.4 73L268.8 71L269.1 76L269.5 73L269.9 72L270.2 66L270.6 66L271.0 68L271.4 66L271.7 68L272.1 67L272.5 68L272.8 63L273.2 67L273.6 60L273.9 59L274.3 65L274.7 62L275.1 62L275.4 72L275.8 64L276.2 67L276.5 62L276.9 65L277.3 75L277.6 69L278.0 62L278.4 72L278.8 70L279.1 73L279.5 69L279.9 66L280.2 71L280.6 69L281.0 61L281.3 68L281.7 83L282.1 68L282.5 63L282.8 66L283.2 63L283.6 64L283.9 62L284.3 60L284.7 75L285.0 62L285.4 67L285.8 64L286.2 61L286.5 61L286.9 66L287.3 61L287.6 63L288.0 60L288.4 64L288.7 68L289.1 65L289.5 69L289.9 62L290.2 61L290.6 67L291.0 63L291.3 75L291.7 78L292.1 63L292.4 65L292.8 63L293.2 66L293.6 64L293.9 67L294.3 69L294.7 63L295.0 60L295.4 64L295.8 62L296.1 67L296.5 64L296.9 68L297.3 68L297.6 67L298.0 67L298.4 73L298.7 81L299.1 77L299.5 75L299.8 86L300.2 79L300.6 75L301.0 82L301.3 106L301.7 82L302.1 80L302.4 86L302.8 92L303.2 91L303.5 94L303.9 99L304.3 96L304.7 94L305.0 92L305.4 94L305.8 94L306.1 98L306.5 94L306.9 102L307.2 100L307.6 124L308.0 104L308.4 105L308.7 104L309.1 113L309.5 115L309.8 115L310.2 125L310.6 121L310.9 127L311.3 126L311.7 134L312.1 131L312.4 130L312.8 142L313.2 122L313.5 123L313.9 126L314.3 119L314.6 115L315.0 118L315.4 120L315.8 115L316.1 117L316.5 120L316.9 120L317.2 122L317.6 126L318.0 124L318.3 124L318.7 128L319.1 127L319.5 133L319.8 126L320.2 127L320.6 138L320.9 134L321.3 136L321.7 142L322.0 147L322.4 140L322.8 144L323.2 134L323.5 141L323.9 139L324.3 143L324.6 146L325.0 153L325.4 146L325.7 146L326.1 148L326.5 148L326.9 154L327.2 144L327.6 144L328.0 147L328.3 144L328.7 144L329.1 142L329.4 162L329.8 141L330.2 151L330.6 144L330.9 142L331.3 141L331.7 147L332.0 149L332.4 143L332.8 146L333.1 145L333.5 146L333.9 163L334.3 148L334.6 149L335.0 138L335.4 146L335.7 146L336.1 148L336.5 141L336.8 143L337.2 151L337.6 143L338.0 148L338.3 146L338.7 147L339.1 145L339.4 169L339.8 145L340.2 147L340.5 148L340.9 155L341.3 154L341.7 156L342.0 154L342.4 155L342.8 156L343.1 160L343.5 157L343.9 151L344.2 159L344.6 157L345.0 152L345.4 153L345.7 150L346.1 159L346.5 151L346.8 143L347.2 150L347.6 145L347.9 151L348.3 146L348.7 139L349.1 141L349.4 138L349.8 138L350.2 138L350.5 133L350.9 139L351.3 136L351.6 135L352.0 140L352.4 143L352.8 135L353.1 141L353.5 130L353.9 136L354.2 133L354.6 134L355.0 131L355.3 131L355.7 132L356.1 131L356.5 133L356.8 139L357.2 130L357.6 130L357.9 125L358.3 122L358.7 133L359.0 128L359.4 127L359.8 131L360.2 135L360.5 134L360.9 140L361.3 135L361.6 130L362.0 136L362.4 137L362.7 134L363.1 145L363.5 132L363.9 138L364.2 130L364.6 126L365.0 129L365.3 121L365.7 146L366.1 124L366.4 119L366.8 117L367.2 116L367.6 121L367.9 116L368.3 112L368.7 107L369.0 108L369.4 115L369.8 104L370.1 106L370.5 103L370.9 106L371.3 103L371.6 100L372.0 100L372.4 96L372.7 101L373.1 99L373.5 96L373.8 97L374.2 95L374.6 105L375.0 103L375.3 98L375.7 98L376.1 93L376.4 96L376.8 95L377.2 97L377.5 108L377.9 98L378.3 98L378.7 93L379.0 92L379.4 109L379.8 90L380.1 85L380.5 93L380.9 90L381.2 88L381.6 86L382.0 81L382.4 76L382.7 113L383.1 86L383.5 85L383.8 81L384.2 75L384.6 77L384.9 83L385.3 78L385.7 77L386.1 72L386.4 71L386.8 73L387.2 71L387.5 67L387.9 57L388.3 61L388.6 68L389.0 70L389.4 79L389.8 62L390.1 63L390.5 66L390.9 66L391.2 64L391.6 67L392.0 74L392.3 69L392.7 54L393.1 63L393.5 59L393.8 59L394.2 52L394.6 65L394.9 55L395.3 58L395.7 45L396.0 52L396.4 54L396.8 49L397.2 56L397.5 63L397.9 47L398.3 45L398.6 57L399.0 52L399.4 47L399.7 41L400.1 50L400.5 48L400.9 56L401.2 67L401.6 49L402.0 49L402.3 51L402.7 59L403.1 60L403.4 54L403.8 58L404.2 59L404.6 66L404.9 63L405.3 59L405.7 64L406.0 67L406.4 74L406.8 77L407.1 79L407.5 75L407.9 71L408.3 76L408.6 72L409.0 81L409.4 74L409.7 75L410.1 77L410.5 67L410.8 60L411.2 72L411.6 63L412.0 73L412.3 61L412.7 62L413.1 54L413.4 75L413.8 62L414.2 63L414.5 59L414.9 70L415.3 66L415.7 63L416.0 62L416.4 69L416.8 56L417.1 69L417.5 73L417.9 57L418.2 65L418.6 69L419.0 52L419.4 59L419.7 68L420.1 70L420.5 63L420.8 58L421.2 58L421.6 56L421.9 54L422.3 43L422.7 54L423.1 55L423.4 67L423.8 60L424.2 56L424.5 59L424.9 65L425.3 65L425.6 54L426.0 64L426.4 71L426.8 76L427.1 75L427.5 77L427.9 83L428.2 88L428.6 94L429.0 93L429.3 99L429.7 94L430.1 106L430.5 105L430.8 110L431.2 108L431.6 113L431.9 109L432.3 121L432.7 127L433.0 124L433.4 136L433.8 128L434.2 132L434.5 126L434.9 128L435.3 127L435.6 133L436.0 132L436.4 135L436.7 133L437.1 125L437.5 125L437.9 130L438.2 136L438.6 148L439.0 141L439.3 131L439.7 122L440.1 137L440.4 135L440.8 128L441.2 140L441.6 136L441.9 156L442.3 123L442.7 140L443.0 137L443.4 135L443.8 130L444.1 134L444.5 144L444.9 141L445.3 150L445.6 146L446.0 142L446.4 145L446.7 141L447.1 132L447.5 137L447.8 143L448.2 151L448.6 139L449.0 136L449.3 170L449.7 137L450.1 138L450.4 139L450.8 151L451.2 153L451.5 153L451.9 150L452.3 142L452.7 155L453.0 162L453.4 154L453.8 147L454.1 139L454.5 144L454.9 138L455.2 132L455.6 148L456.0 150L456.4 147L456.7 152L457.1 136L457.5 153L457.8 139L458.2 147L458.6 153L458.9 151L459.3 159L459.7 148L460.1 143L460.4 138L460.8 145L461.2 139L461.5 136L461.9 142L462.3 148L462.6 143L463.0 139L463.4 145L463.8 138L464.1 136L464.5 153L464.9 148L465.2 158L465.6 139L466.0 152L466.3 146L466.7 162L467.1 147L467.5 144L467.8 149L468.2 148L468.6 144L468.9 151L469.3 151L469.7 152L470.0 149L470.4 142L470.8 141L471.2 149L471.5 140L471.9 154L472.3 150L472.6 139L473.0 149L473.4 143L473.7 149L474.1 143L474.5 149L474.9 137L475.2 124L475.6 125L476.0 123L476.3 135L476.7 141L477.1 132L477.4 121L477.8 139L478.2 128L478.6 123L478.9 127L479.3 126L479.7 120L480.0 130L480.4 126L480.8 123L481.1 127L481.5 152L481.9 146L482.3 142L482.6 129L483.0 126L483.4 133L483.7 130L484.1 131L484.5 124L484.8 124L485.2 122L485.6 132L486.0 133L486.3 123L486.7 128L487.1 128L487.4 120L487.8 122L488.2 126L488.5 115L488.9 126L489.3 118L489.7 118L490.0 115L490.4 106L490.8 116L491.1 114L491.5 137L491.9 118L492.2 113L492.6 109L493.0 105L493.4 109L493.7 111L494.1 106L494.5 100L494.8 108L495.2 101L495.6 104L495.9 100L496.3 94L496.7 90L497.1 96L497.4 95L497.8 83L498.2 96L498.5 136L498.9 100L499.3 88L499.6 84L500.0 95L500.4 96L500.8 101L501.1 97L501.5 89L501.9 90L502.2 97L502.6 90L503.0 92L503.3 91L503.7 86L504.1 80L504.5 79L504.8 88L505.2 75L505.6 79L505.9 72L506.3 88L506.7 72L507.0 76L507.4 66L507.8 84L508.2 62L508.5 68L508.9 58L509.3 67L509.6 55L510.0 57L510.4 49L510.7 60L511.1 55L511.5 63L511.9 40L512.2 52L512.6 49L513.0 44L513.3 51L513.7 51L514.1 50L514.4 51L514.8 48L515.2 73L515.6 57L515.9 50L516.3 52L516.7 62L517.0 59L517.4 60L517.8 58L518.1 49L518.5 63L518.9 66L519.3 67L519.6 63L520.0 75L520.4 61L520.7 56L521.1 60L521.5 60L521.8 67L522.2 67L522.6 60L523.0 59L523.3 79L523.7 62L524.1 73L524.4 59L524.8 68L525.2 53L525.5 54L525.9 66L526.3 60L526.7 56L527.0 58L527.4 53L527.8 54L528.1 54L528.5 54L528.9 57L529.2 49L529.6 54L530.0 52L530.4 62L530.7 62L531.1 67L531.5 70L531.8 68L532.2 71L532.6 76L532.9 83L533.3 88L533.7 86L534.1 85L534.4 91L534.8 90L535.2 93L535.5 95L535.9 99L536.3 81L536.6 84L537.0 91L537.4 89L537.8 88L538.1 83L538.5 86L538.9 78L539.2 77L539.6 80L540.0 73L540.3 86L540.7 75L541.1 71L541.5 78L541.8 68L542.2 76L542.6 79L542.9 88L543.3 98L543.7 86L544.0 78L544.4 88L544.8 113L545.2 86L545.5 94L545.9 103L546.3 100L546.6 94L547.0 96L547.4 92L547.7 110L548.1 102L548.5 130L548.9 101L549.2 101L549.6 113L550.0 117L550.3 127L550.7 117L551.1 120L551.4 122L551.8 120L552.2 122L552.6 111L552.9 130L553.3 121L553.7 133L554.0 118L554.4 119L554.8 128L555.1 122L555.5 122L555.9 118L556.3 145L556.6 134L557.0 144L557.4 133L557.7 144L558.1 150L558.5 147L558.8 145L559.2 144L559.6 138L560.0 140L560.3 147L560.7 128L561.1 141L561.4 130L561.8 131L562.2 140L562.5 142L562.9 136L563.3 142L563.7 132L564.0 137L564.4 147L564.8 138L565.1 136L565.5 131L565.9 140L566.2 147L566.6 137L567.0 139L567.4 134L567.7 173L568.1 136L568.5 142L568.8 150L569.2 146L569.6 140L569.9 147L570.3 136L570.7 149L571.1 170L571.4 140L571.8 143L572.2 140L572.5 154L572.9 148L573.3 139L573.6 139L574.0 143L574.4 139L574.8 142L575.1 142L575.5 133L575.9 141L576.2 146L576.6 139L577.0 139L577.3 133L577.7 132L578.1 135L578.5 128L578.8 123L579.2 135L579.6 129L579.9 132L580.3 152L580.7 133L581.0 136L581.4 137L581.8 134L582.2 142L582.5 137L582.9 142L583.3 139L583.6 144L584.0 141L584.4 162L584.7 153L585.1 148L585.5 143L585.9 149L586.2 165L586.6 151L587.0 160L587.3 154L587.7 153L588.1 148L588.4 155L588.8 160L589.2 159L589.6 157L589.9 148L590.3 153L590.7 146L591.0 147L591.4 154L591.8 146L592.1 154L592.5 150L592.9 159L593.3 151L593.6 161L594.0 157L594.4 160L594.7 155L595.1 143L595.5 155L595.8 141L596.2 144L596.6 134L597.0 145L597.3 143L597.7 145L598.1 140L598.4 143L598.8 147L599.2 141L599.5 146L599.9 127L600.3 137L600.7 136L601.0 127L601.4 131L601.8 141L602.1 153L602.5 128L602.9 134L603.2 131L603.6 119L604.0 123L604.4 137L604.7 123L605.1 124L605.5 121L605.8 120L606.2 115L606.6 114L606.9 112L607.3 117L607.7 113L608.1 108L608.4 128L608.8 125L609.2 109L609.5 115L609.9 104L610.3 106L610.6 110L611.0 132L611.4 115L611.8 99L612.1 100L612.5 107L612.9 106L613.2 92L613.6 95L614.0 100L614.3 101L614.7 87L615.1 93L615.5 77L615.8 98L616.2 99L616.6 82L616.9 97L617.3 77L617.7 81L618.0 87L618.4 87L618.8 86L619.2 74L619.5 76L619.9 92L620.3 84L620.6 79L621.0 82L621.4 78L621.7 82L622.1 77L622.5 77L622.9 72L623.2 109L623.6 87L624.0 86L624.3 88L624.7 81L625.1 74L625.4 82L625.8 83L626.2 82L626.6 75L626.9 71L627.3 79L627.7 77L628.0 74L628.4 71L628.8 71L629.1 68L629.5 62L629.9 69L630.3 67L630.6 82L631.0 68L631.4 71L631.7 62L632.1 71L632.5 88L632.8 76L633.2 72L633.6 73L634.0 70L634.3 69L634.7 58L635.1 61L635.4 88L635.8 68L636.2 67L636.5 92L636.9 58L637.3 68L637.7 66L638.0 51L638.4 68L638.8 61L639.1 55L639.5 53L639.9 59L640.2 54L640.6 55L641.0 52L641.4 53L641.7 53L642.1 62L642.5 53L642.8 46L643.2 50L643.6 50L643.9 61L644.3 41L644.7 56L645.1 48L645.4 59L645.8 65L646.2 42L646.5 50L646.9 54L647.3 53L647.6 54L648.0 53L648.4 59L648.8 57L649.1 55L649.5 66L649.9 57L650.2 60L650.6 62L651.0 66L651.3 69L651.7 69L652.1 75L652.5 73L652.8 72L653.2 86L653.6 88L653.9 88L654.3 85L654.7 88L655.0 95L655.4 78L655.8 94L656.2 90L656.5 94L656.9 86L657.3 98L657.6 101L658.0 81L658.4 85L658.7 95L659.1 91L659.5 90L659.9 79L660.2 88L660.6 75L661.0 64L661.3 73L661.7 70L662.1 78L662.4 88L662.8 78L663.2 70L663.6 72L663.9 84L664.3 80L664.7 85L665.0 78L665.4 87L665.8 81L666.1 94L666.5 93L666.9 82L667.3 80L667.6 96L668.0 95L668.4 88L668.7 91L669.1 99L669.5 90L669.8 78L670.2 108L670.6 86L671.0 91L671.3 81L671.7 81L672.1 97L672.4 89L672.8 101L673.2 98L673.5 103L673.9 107L674.3 107L674.7 118L675.0 98L675.4 101L675.8 111L676.1 114L676.5 108L676.9 105L677.2 113L677.6 99L678.0 105L678.4 124L678.7 112L679.1 132L679.5 124L679.8 125L680.2 140L680.6 132L680.9 124L681.3 129L681.7 122L682.1 114L682.4 128L682.8 128L683.2 124L683.5 133L683.9 125L684.3 128L684.6 121L685.0 128L685.4 132L685.8 142L686.1 131L686.5 140L686.9 148L687.2 140L687.6 139L688.0 132L688.3 137L688.7 153L689.1 144L689.5 144L689.8 138L690.2 147L690.6 157L690.9 145L691.3 143L691.7 148L692.0 147L692.4 147L692.8 163L693.2 156L693.5 142L693.9 159L694.3 154L694.6 147L695.0 151L695.4 140L695.7 147L696.1 143L696.5 145L696.9 141L697.2 137L697.6 143L698.0 142L698.3 143L698.7 148L699.1 144L699.4 140L699.8 141L700.2 141L700.6 145L700.9 154L701.3 159L701.7 158L702.0 155L702.4 138L702.8 149L703.1 168L703.5 151L703.9 163L704.3 154L704.6 159L705.0 160L705.4 157L705.7 146L706.1 151L706.5 147L706.8 144L707.2 138L707.6 151L708.0 138L708.3 146L708.7 140L709.1 142L709.4 138L709.8 136L710.2 128L710.5 149L710.9 142L711.3 142L711.7 123L712.0 131L712.4 149L712.8 139L713.1 136L713.5 145L713.9 144L714.2 150L714.6 153L715.0 144L715.4 144L715.7 144L716.1 154L716.5 151L716.8 149L717.2 142L717.6 150L717.9 147L718.3 146L718.7 141L719.1 133L719.4 146L719.8 138L720.2 137L720.5 129L720.9 138L721.3 141L721.6 134L722.0 121L722.4 119L722.8 128L723.1 122L723.5 119L723.9 128L724.2 122L724.6 123L725.0 120L725.3 123L725.7 113L726.1 116L726.5 125L726.8 142L727.2 110L727.6 120L727.9 117L728.3 123L728.7 110L729.0 126L729.4 118L729.8 105L730.2 106L730.5 115L730.9 108L731.3 112L731.6 107L732.0 97L732.4 104L732.7 107L733.1 99L733.5 106L733.9 94L734.2 98L734.6 102L735.0 105L735.3 90L735.7 84L736.1 101L736.4 93L736.8 91L737.2 92L737.6 99L737.9 89L738.3 92L738.7 95L739.0 82L739.4 89L739.8 80L740.1 97L740.5 82L740.9 82L741.3 87L741.6 84L742.0 86L742.4 87L742.7 77L743.1 94L743.5 73L743.8 72L744.2 77L744.6 59L745.0 72L745.3 67L745.7 72L746.1 64L746.4 70L746.8 62L747.2 70L747.5 70L747.9 63L748.3 63L748.7 64L749.0 63L749.4 62L749.8 71L750.1 68L750.5 68L750.9 59L751.2 66L751.6 72L752.0 69L752.4 66L752.7 68L753.1 73L753.5 69L753.8 60L754.2 67L754.6 71L754.9 64L755.3 71L755.7 74L756.1 83L756.4 79L756.8 73L757.2 61L757.5 70L757.9 62L758.3 62L758.6 72L759.0 63L759.4 68L759.8 66L760.1 68L760.5 62L760.9 61L761.2 80L761.6 63L762.0 64L762.3 57L762.7 58L763.1 54L763.5 57L763.8 52L764.2 42L764.6 43L764.9 45L765.3 71L765.7 64L766.0 47L766.4 44L766.8 45L767.2 51L767.5 54L767.9 44L768.3 38L768.6 43L769.0 39L769.4 54L769.7 46L770.1 47L770.5 46L770.9 35L771.2 46L771.6 76L772.0 44L772.3 73L772.7 45L773.1 47L773.4 53L773.8 47L774.2 53L774.6 53L774.9 54L775.3 74L775.7 53L776.0 59L776.4 69L776.8 68L777.1 75L777.5 71L777.9 64L778.3 95L778.6 78L779.0 87L779.4 87L779.7 90L780.1 89L780.5 71L780.8 91L781.2 90L781.6 93L782.0 95L782.3 92L782.7 94L783.1 82L783.4 90L783.8 94L784.2 94L784.5 99L784.9 80L785.3 87L785.7 92L786.0 95L786.4 104L786.8 104L787.1 93L787.5 102L787.9 98L788.2 106L788.6 99L789.0 112L789.4 104L789.7 106L790.1 104L790.5 116L790.8 114L791.2 118L791.6 122L791.9 114L792.3 129L792.7 127L793.1 125L793.4 125L793.8 124L794.2 123L794.5 132L794.9 130L795.3 129L795.6 126L796.0 131L796.4 143L796.8 135L797.1 120L797.5 116L797.9 144L798.2 124L798.6 132L799.0 135L799.3 135L799.7 142L800.1 128L800.5 130L800.8 125L801.2 120L801.6 122L801.9 135L802.3 137L802.7 125L803.0 146L803.4 130L803.8 136L804.2 128L804.5 135L804.9 135L805.3 131L805.6 133L806.0 134L806.4 138L806.7 149L807.1 150L807.5 151L807.9 146L808.2 148L808.6 137L809.0 142L809.3 149L809.7 145L810.1 156L810.4 145L810.8 144L811.2 145L811.6 157L811.9 145L812.3 141L812.7 137L813.0 141L813.4 145L813.8 150L814.1 149L814.5 134L814.9 148L815.3 158L815.6 146L816.0 151L816.4 154L816.7 150L817.1 145L817.5 143L817.8 148L818.2 149L818.6 144L819.0 158L819.3 158L819.7 155L820.1 161L820.4 156L820.8 149L821.2 156L821.5 163L821.9 151L822.3 145L822.7 157L823.0 143L823.4 145L823.8 153L824.1 149L824.5 164L824.9 152L825.2 154L825.6 156L826.0 150L826.4 151L826.7 138L827.1 167L827.5 149L827.8 154L828.2 143L828.6 147L828.9 143L829.3 147L829.7 152L830.1 139L830.4 143L830.8 142L831.2 161L831.5 148L831.9 145L832.3 150L832.6 144L833.0 153L833.4 146L833.8 149L834.1 142L834.5 145L834.9 145L835.2 147L835.6 143L836.0 143L836.3 147L836.7 135L837.1 132L837.5 130L837.8 139L838.2 135L838.6 131L838.9 137L839.3 145L839.7 146L840.0 142L840.4 140L840.8 140L841.2 133L841.5 154L841.9 153L842.3 121L842.6 130L843.0 132L843.4 145L843.7 130L844.1 137L844.5 133L844.9 135L845.2 129L845.6 141L846.0 143L846.3 142L846.7 150L847.1 120L847.4 129L847.8 136L848.2 134L848.6 126L848.9 121L849.3 134L849.7 133L850.0 118L850.4 120L850.8 119L851.1 130L851.5 123L851.9 123L852.3 110L852.6 120L853.0 118L853.4 113L853.7 114L854.1 111L854.5 104L854.8 128L855.2 104L855.6 104L856.0 97L856.3 109L856.7 109L857.1 104L857.4 102L857.8 107L858.2 105L858.5 100L858.9 117L859.3 110L859.7 107L860.0 108L860.4 104L860.8 110L861.1 120L861.5 110L861.9 102L862.2 97L862.6 90L863.0 86L863.4 86L863.7 75L864.1 79L864.5 79L864.8 71L865.2 72L865.6 70L865.9 65L866.3 72L866.7 73L867.1 72L867.4 75L867.8 67L868.2 63L868.5 65L868.9 89L869.3 74L869.6 60L870.0 64L870.4 61L870.8 65L871.1 48L871.5 59L871.9 51L872.2 47L872.6 65L873.0 60L873.3 73L873.7 73L874.1 76L874.5 74L874.8 66L875.2 71L875.6 61L875.9 62L876.3 72L876.7 80L877.0 71L877.4 62L877.8 67L878.2 72L878.5 74L878.9 69L879.3 77L879.6 73L880.0 68L880.4 63L880.7 78L881.1 62L881.5 62L881.9 57L882.2 62L882.6 51L883.0 62L883.3 50L883.7 61L884.1 50L884.4 49L884.8 50L885.2 55L885.6 52L885.9 47L886.3 50L886.7 54L887.0 41L887.4 54L887.8 48L888.1 34L888.5 45L888.9 44L889.3 44L889.6 42L890.0 41L890.4 46L890.7 43L891.1 45L891.5 41L891.8 48L892.2 42L892.6 45L893.0 42L893.3 42L893.7 55L894.1 48L894.4 46L894.8 46L895.2 45L895.5 50L895.9 49L896.3 52L896.7 49L897.0 48L897.4 64L897.8 49L898.1 53L898.5 56L898.9 60L899.2 55L899.6 57L900.0 60L900.4 58L900.7 63L901.1 81L901.5 92L901.8 80L902.2 77L902.6 82L902.9 85L903.3 85L903.7 109L904.1 102L904.4 98L904.8 98L905.2 113L905.5 105L905.9 116L906.3 113L906.6 104L907.0 110L907.4 120L907.8 122L908.1 112L908.5 117L908.9 117L909.2 122L909.6 115L910.0 115L910.3 118L910.7 115L911.1 113L911.5 116L911.8 108L912.2 105L912.6 107L912.9 111L913.3 119L913.7 100L914.0 101L914.4 104L914.8 104L915.2 98L915.5 123L915.9 111L916.3 99L916.6 99L917.0 109L917.4 112L917.7 109L918.1 128L918.5 121L918.9 123L919.2 139L919.6 130L920.0 127L920.3 130L920.7 134L921.1 141L921.4 147L921.8 136L922.2 144L922.6 153L922.9 147L923.3 146L923.7 151L924.0 139L924.4 152L924.8 134L925.1 140L925.5 145L925.9 143L926.3 145L926.6 126L927.0 122L927.4 132L927.7 123L928.1 141L928.5 140L928.8 143L929.2 133L929.6 135L930.0 138L930.3 132L930.7 133L931.1 143L931.4 148L931.8 145L932.2 139L932.5 160L932.9 156L933.3 152L933.7 152L934.0 154L934.4 155L934.8 151L935.1 145L935.5 138L935.9 159L936.2 153L936.6 147L937.0 144L937.4 134L937.7 153L938.1 148L938.5 149L938.8 146L939.2 146L939.6 149L939.9 138L940.3 141L940.7 148L941.1 155L941.4 148L941.8 149L942.2 139L942.5 142L942.9 145L943.3 144L943.6 142L944.0 143L944.4 133L944.8 132L945.1 145L945.5 142L945.9 137L946.2 142L946.6 156L947.0 138L947.3 142L947.7 139L948.1 136L948.5 134L948.8 145L949.2 137L949.6 133L949.9 149L950.3 136L950.7 146L951.0 145L951.4 144L951.8 158L952.2 144L952.5 151L952.9 154L953.3 143L953.6 147L954.0 171L954.4 166L954.7 157L955.1 138L955.5 156L955.9 140L956.2 142L956.6 147L957.0 147L957.3 144L957.7 142L958.1 157L958.4 134L958.8 142L959.2 146L959.6 143L959.9 128L960.3 143L960.7 143L961.0 129L961.4 128L961.8 139L962.1 132L962.5 124L962.9 131L963.3 124L963.6 121L964.0 114L964.4 128L964.7 122L965.1 120L965.5 123L965.8 130L966.2 125L966.6 131L967.0 125L967.3 131L967.7 134L968.1 124L968.4 122L968.8 111L969.2 116L969.5 129L969.9 123L970.3 120L970.7 109L971.0 115L971.4 114L971.8 113L972.1 112L972.5 113L972.9 110L973.2 105L973.6 109L974.0 91L974.4 99L974.7 103L975.1 107L975.5 107L975.8 110L976.2 109L976.6 102L976.9 100L977.3 102L977.7 101L978.1 103L978.4 97L978.8 88L979.2 94L979.5 109L979.9 101L980.3 85L980.6 86L981.0 97L981.4 86L981.8 106L982.1 83L982.5 103L982.9 85L983.2 82L983.6 80L984.0 91L984.3 85L984.7 72L985.1 91L985.5 73L985.8 81L986.2 93L986.6 76L986.9 73L987.3 69L987.7 66L988.0 88L988.4 81L988.8 80L989.2 68L989.5 67L989.9 62L990.3 72L990.6 77L991.0 64L991.4 65L991.7 72L992.1 58L992.5 66L992.9 59L993.2 65L993.6 58L994.0 51L994.3 59L994.7 50L995.1 60L995.4 68L995.8 77L996.2 51L996.6 48L996.9 43L997.3 50L997.7 49L998.0 52L998.4 69L998.8 62L999.1 61L999.5 56L999.9 61L1000.3 64L1000.6 63L1001.0 67L1001.4 69L1001.7 59L1002.1 56L1002.5 71L1002.8 56L1003.2 65L1003.6 66L1004.0 74L1004.3 61L1004.7 55L1005.1 72L1005.4 60L1005.8 58L1006.2 55L1006.5 63L1006.9 71L1007.3 67L1007.7 64L1008.0 59L1008.4 64L1008.8 68L1009.1 60L1009.5 65L1009.9 74L1010.2 64L1010.6 63L1011.0 63L1011.4 65L1011.7 61L1012.1 69L1012.5 90L1012.8 69L1013.2 63L1013.6 70L1013.9 76L1014.3 66L1014.7 64L1015.1 65L1015.4 62L1015.8 64L1016.2 73L1016.5 69L1016.9 65L1017.3 64L1017.6 61L1018.0 72L1018.4 63L1018.8 90L1019.1 72L1019.5 58L1019.9 66L1020.2 72L1020.6 57L1021.0 61L1021.3 70L1021.7 70L1022.1 75L1022.5 81L1022.8 75L1023.2 77L1023.6 78L1023.9 65L1024.3 77L1024.7 79L1025.0 88L1025.4 82L1025.8 89L1026.2 91L1026.5 81L1026.9 79L1027.3 97L1027.6 89L1028.0 100L1028.4 96L1028.7 100L1029.1 85L1029.5 107L1029.9 82L1030.2 87L1030.6 97L1031.0 105L1031.3 102L1031.7 103L1032.1 93L1032.4 102L1032.8 110L1033.2 95L1033.6 97L1033.9 107L1034.3 117L1034.7 115L1035.0 110L1035.4 110L1035.8 113L1036.1 108L1036.5 130L1036.9 118L1037.3 118L1037.6 112L1038.0 151L1038.4 125L1038.7 134L1039.1 134L1039.5 128L1039.8 133L1040.2 142L1040.6 128L1041.0 129L1041.3 137L1041.7 130L1042.1 136L1042.4 128L1042.8 139L1043.2 140L1043.5 132L1043.9 128L1044.3 137L1044.7 137L1045.0 129L1045.4 142L1045.8 134L1046.1 146L1046.5 147L1046.9 142L1047.2 143L1047.6 131L1048.0 139L1048.4 144L1048.7 134L1049.1 132L1049.5 151L1049.8 146L1050.2 153L1050.6 151L1050.9 130L1051.3 138L1051.7 145L1052.1 147L1052.4 149L1052.8 145L1053.2 148L1053.5 144L1053.9 162L1054.3 146L1054.6 148L1055.0 157L1055.4 149L1055.8 152L1056.1 146L1056.5 150L1056.9 153L1057.2 142L1057.6 139L1058.0 142L1058.3 154L1058.7 153L1059.1 169L1059.5 158L1059.8 147L1060.2 143L1060.6 146L1060.9 149L1061.3 154L1061.7 148L1062.0 150L1062.4 143L1062.8 136L1063.2 161L1063.5 147L1063.9 143L1064.3 145L1064.6 158L1065.0 143L1065.4 146L1065.7 139L1066.1 141L1066.5 131L1066.9 150L1067.2 144L1067.6 137L1068.0 149L1068.3 141L1068.7 151L1069.1 142L1069.4 153L1069.8 143L1070.2 145L1070.6 138L1070.9 137L1071.3 142L1071.7 129L1072.0 124L1072.4 138L1072.8 158L1073.1 147L1073.5 140L1073.9 147L1074.3 149L1074.6 141L1075.0 136L1075.4 134L1075.7 138L1076.1 131L1076.5 140L1076.8 144L1077.2 136L1077.6 146L1078.0 146L1078.3 139L1078.7 140L1079.1 128L1079.4 137L1079.8 145L1080.2 155L1080.5 149L1080.9 138L1081.3 151L1081.7 152L1082.0 145L1082.4 143L1082.8 148L1083.1 136L1083.5 152L1083.9 144L1084.2 135L1084.6 144L1085.0 150L1085.4 138L1085.7 135L1086.1 123L1086.5 127L1086.8 132L1087.2 127L1087.6 122L1087.9 118L1088.3 145L1088.7 119L1089.1 111L1089.4 120L1089.8 117L1090.2 116L1090.5 114L1090.9 113L1091.3 111L1091.6 122L1092.0 112L1092.4 112L1092.8 117L1093.1 120L1093.5 118L1093.9 114L1094.2 111L1094.6 114L1095.0 118L1095.3 118L1095.7 116L1096.1 110L1096.5 113L1096.8 105L1097.2 104L1097.6 104L1097.9 105L1098.3 96L1098.7 95L1099.0 121L1099.4 100L1099.8 93L1100.2 86L1100.5 90L1100.9 97L1101.3 105L1101.6 86L1102.0 90L1102.4 108L1102.7 92L1103.1 89L1103.5 87L1103.9 88L1104.2 83L1104.6 85L1105.0 87L1105.3 82L1105.7 89L1106.1 86L1106.4 79L1106.8 77L1107.2 120L1107.6 80L1107.9 79L1108.3 77L1108.7 75L1109.0 83L1109.4 106L1109.8 76L1110.1 75L1110.5 74L1110.9 75L1111.3 72L1111.6 74L1112.0 60L1112.4 63L1112.7 63L1113.1 58L1113.5 62L1113.8 60L1114.2 58L1114.6 56L1115.0 62L1115.3 55L1115.7 60L1116.1 53L1116.4 56L1116.8 48L1117.2 45L1117.5 53L1117.9 51L1118.3 60L1118.7 52L1119.0 50L1119.4 48L1119.8 44L1120.1 49L1120.5 43L1120.9 46L1121.2 41L1121.6 48L1122.0 43L1122.4 42L1122.7 45L1123.1 43L1123.5 35L1123.8 42L1124.2 60L1124.6 42L1124.9 49L1125.3 50L1125.7 50L1126.1 40L1126.4 61L1126.8 59L1127.2 53L1127.5 50L1127.9 49L1128.3 48L1128.6 55L1129.0 63L1129.4 71L1129.8 60L1130.1 79L1130.5 69L1130.9 68L1131.2 66L1131.6 77L1132.0 75L1132.3 76L1132.7 79L1133.1 75L1133.5 75L1133.8 76L1134.2 86L1134.6 85L1134.9 80L1135.3 81L1135.7 87L1136.0 84L1136.4 94L1136.8 91L1137.2 92L1137.5 97L1137.9 99L1138.3 93L1138.6 94L1139.0 99L1139.4 93L1139.7 91L1140.1 92L1140.5 88L1140.9 85L1141.2 88L1141.6 80L1142.0 79L1142.3 79L1142.7 80L1143.1 69L1143.4 78L1143.8 76L1144.2 90L1144.6 73L1144.9 67L1145.3 76L1145.7 72L1146.0 74L1146.4 70L1146.8 75L1147.1 75L1147.5 80L1147.9 78L1148.3 84L1148.6 92L1149.0 87L1149.4 92L1149.7 89L1150.1 94L1150.5 89L1150.8 97L1151.2 94L1151.6 93L1152.0 94L1152.3 95L1152.7 100L1153.1 100L1153.4 103L1153.8 103L1154.2 101L1154.5 102L1154.9 108L1155.3 111L1155.7 111L1156.0 112L1156.4 108L1156.8 106L1157.1 118L1157.5 117L1157.9 116L1158.2 121L1158.6 147L1159.0 132L1159.4 126L1159.7 140L1160.1 136L1160.5 137L1160.8 130L1161.2 140L1161.6 140L1161.9 148L1162.3 136L1162.7 142L1163.1 142L1163.4 143L1163.8 141L1164.2 144L1164.5 142L1164.9 147L1165.3 154L1165.6 147L1166.0 145L1166.4 153L1166.8 147L1167.1 145L1167.5 148L1167.9 143L1168.2 145L1168.6 141L1169.0 147L1169.3 143L1169.7 143L1170.1 151L1170.5 148L1170.8 144L1171.2 177L1171.6 146L1171.9 148L1172.3 137L1172.7 146L1173.0 147L1173.4 147L1173.8 145L1174.2 140L1174.5 144L1174.9 143L1175.3 143L1175.6 141L1176.0 141L1176.4 136L1176.7 142L1177.1 144L1177.5 146L1177.9 147L1178.2 147L1178.6 142L1179.0 153L1179.3 142L1179.7 148L1180.1 144L1180.4 150L1180.8 143L1181.2 147L1181.6 148L1181.9 163L1182.3 155L1182.7 147L1183.0 153L1183.4 149L1183.8 147L1184.1 148L1184.5 154L1184.9 151L1185.3 159L1185.6 160L1186.0 155L1186.4 152L1186.7 162L1187.1 149L1187.5 153L1187.8 150L1188.2 147L1188.6 144L1189.0 145L1189.3 143L1189.7 142L1190.1 139L1190.4 143L1190.8 132L1191.2 130L1191.5 147L1191.9 136L1192.3 131L1192.7 137L1193.0 136L1193.4 129L1193.8 141L1194.1 136L1194.5 136L1194.9 136L1195.2 133L1195.6 136L1196.0 142L1196.4 137L1196.7 139L1197.1 133L1197.5 138L1197.8 137L1198.2 138L1198.6 145L1198.9 136L1199.3 144L1199.7 143L1200.1 140L1200.4 135L1200.8 136L1201.2 132L1201.5 131L1201.9 132L1202.3 136L1202.6 125L1203.0 129L1203.4 133L1203.8 154L1204.1 131L1204.5 128L1204.9 131L1205.2 132L1205.6 135L1206.0 130L1206.3 128L1206.7 129L1207.1 131L1207.5 127L1207.8 127L1208.2 122L1208.6 129L1208.9 125L1209.3 118L1209.7 124L1210.0 128L1210.4 121L1210.8 126L1211.2 121L1211.5 122L1211.9 116L1212.3 119L1212.6 118L1213.0 118L1213.4 112L1213.7 111L1214.1 117L1214.5 119L1214.9 115L1215.2 129L1215.6 110L1216.0 106L1216.3 139L1216.7 109L1217.1 101L1217.4 100L1217.8 100L1218.2 101L1218.6 107L1218.9 103L1219.3 101L1219.7 105L1220.0 103L1220.4 102L1220.8 100L1221.1 100L1221.5 104L1221.9 101L1222.3 100L1222.6 100L1223.0 100L1223.4 96L1223.7 102L1224.1 98L1224.5 97L1224.8 96L1225.2 92L1225.6 88L1226.0 89L1226.3 111L1226.7 85L1227.1 93L1227.4 85L1227.8 84L1228.2 82L1228.5 78L1228.9 95L1229.3 80L1229.7 71L1230.0 76L1230.4 101L1230.8 73L1231.1 78L1231.5 71L1231.9 77L1232.2 70L1232.6 77L1233.0 94L1233.4 90L1233.7 64L1234.1 58L1234.5 56L1234.8 70L1235.2 64L1235.6 61L1235.9 68L1236.3 65L1236.7 66L1237.1 60L1237.4 59L1237.8 78L1238.2 55L1238.5 52L1238.9 60L1239.3 59L1239.6 58L1240.0 56L1240.4 61L1240.8 53L1241.1 54L1241.5 58L1241.9 55L1242.2 64L1242.6 52L1243.0 54L1243.3 59L1243.7 55L1244.1 61L1244.5 61L1244.8 53L1245.2 53L1245.6 56L1245.9 56L1246.3 56L1246.7 58L1247.0 61L1247.4 64L1247.8 68L1248.2 54L1248.5 53L1248.9 62L1249.3 74L1249.6 61L1250.0 61L1250.4 60L1250.7 57L1251.1 61L1251.5 60L1251.9 62L1252.2 72L1252.6 64L1253.0 75L1253.3 68L1253.7 65L1254.1 72L1254.4 73L1254.8 77L1255.2 77L1255.6 70L1255.9 76L1256.3 80L1256.7 79L1257.0 86L1257.4 89L1257.8 82L1258.1 84L1258.5 83L1258.9 91L1259.3 93L1259.6 82L1260.0 84L1260.4 93L1260.7 89L1261.1 91L1261.5 93L1261.8 89L1262.2 99L1262.6 96L1263.0 91L1263.3 96L1263.7 90L1264.1 95L1264.4 96L1264.8 93L1265.2 85L1265.5 84L1265.9 95L1266.3 96L1266.7 97L1267.0 95L1267.4 88L1267.8 91L1268.1 96L1268.5 103L1268.9 95" fill="none" stroke="#beacd4" stroke-width="3.4" stroke-linejoin="round" stroke-linecap="round"/><path d="M158.5 81.3L160.0 82.8L161.5 84.9L163.0 86.5L164.5 88.3L166.0 88.9L167.5 88.5L169.0 88.7L170.5 85.1L172.0 85.3L173.5 84.5L175.0 82.1L176.5 80.5L178.0 77.6L179.5 75.0L181.0 74.9L182.5 73.5L184.0 74.6L185.5 79.0L187.0 81.0L188.5 83.5L190.0 88.4L191.5 89.5L193.0 93.6L194.5 102.0L196.0 111.8L197.5 120.1L199.0 124.3L200.5 121.3L202.0 115.4L203.5 110.3L205.0 106.1L206.5 107.0L208.0 117.0L209.5 129.8L211.0 144.1L212.5 154.2L214.0 159.0L215.5 153.6L217.0 148.7L218.5 139.3L220.0 132.2L221.5 124.2L223.0 119.3L224.5 120.0L226.0 119.5L227.5 119.9L229.0 121.5L230.5 124.3L232.0 122.9L233.5 121.4L235.0 120.0L236.5 119.1L238.0 117.3L239.5 116.8L241.0 116.8L242.5 114.6L244.0 119.2L245.5 120.4L247.0 124.8L248.5 128.3L250.0 131.9L251.5 127.8L253.0 124.1L254.5 120.8L256.0 118.1L257.5 116.4L259.0 120.5L260.5 121.5L262.0 123.7L263.5 126.4L265.0 123.8L266.5 116.1L268.0 110.7L269.5 103.3L271.0 92.4L272.5 88.7L274.0 86.5L275.5 82.2L277.0 81.3L278.5 77.1L280.0 75.1L281.5 73.5L283.0 72.3L284.5 70.1L286.0 66.8L287.5 62.2L289.0 60.9L290.5 58.7L292.0 58.1L293.5 60.3L295.0 65.7L296.5 69.8L298.0 72.2L299.5 76.6L301.0 83.4L302.5 86.5L304.0 91.3L305.5 97.1L307.0 97.0L308.5 99.5L310.0 97.6L311.5 96.1L313.0 95.2L314.5 96.3L316.0 97.6L317.5 100.1L319.0 104.5L320.5 107.5L322.0 111.0L323.5 112.4L325.0 110.7L326.5 106.9L328.0 105.8L329.5 103.4L331.0 102.3L332.5 102.0L334.0 108.0L335.5 118.6L337.0 127.6L338.5 135.0L340.0 123.2L341.5 111.9L343.0 98.4L344.5 84.6L346.0 81.9L347.5 80.2L349.0 83.5L350.5 87.3L352.0 96.3L353.5 103.2L355.0 108.8L356.5 116.4L358.0 123.6L359.5 131.7L361.0 136.7L362.5 143.9L364.0 149.9L365.5 151.9L367.0 151.4L368.5 151.6L370.0 158.5L371.5 168.0L373.0 177.2L374.5 175.0L376.0 161.9L377.5 148.8L379.0 138.1L380.5 129.8L382.0 125.9L383.5 117.5L385.0 109.5L386.5 105.4L388.0 100.1L389.5 98.4L391.0 98.6L392.5 98.8L394.0 95.8L395.5 87.5L397.0 78.6L398.5 70.9L400.0 67.8L401.5 64.6L403.0 62.0L404.5 62.2L406.0 61.0L407.5 59.3L409.0 64.0L410.5 66.2L412.0 67.3L413.5 69.1L415.0 73.2L416.5 75.7L418.0 77.8L419.5 79.2L421.0 79.9L422.5 82.7L424.0 84.8L425.5 90.8L427.0 92.1L428.5 94.2L430.0 96.8L431.5 102.6L433.0 104.7L434.5 109.7L436.0 113.3L437.5 113.9L439.0 113.7L440.5 107.4L442.0 103.2L443.5 100.5L445.0 104.5L446.5 111.6L448.0 116.8L449.5 123.0L451.0 130.3L452.5 136.1L454.0 138.8L455.5 132.9L457.0 122.4L458.5 114.6L460.0 108.8L461.5 104.7L463.0 103.8L464.5 103.1L466.0 103.2L467.5 102.8L469.0 104.8L470.5 106.3L472.0 106.4L473.5 106.4L475.0 109.5L476.5 113.1L478.0 114.1L479.5 116.2L481.0 117.9L482.5 117.5L484.0 115.1L485.5 112.3L487.0 119.7L488.5 128.0L490.0 134.6L491.5 137.2L493.0 132.9L494.5 132.3L496.0 128.6L497.5 125.9L499.0 125.1L500.5 123.4L502.0 118.6L503.5 114.0L505.0 109.3L506.5 105.8L508.0 104.6L509.5 100.1L511.0 94.2L512.5 89.8L514.0 84.1L515.5 81.1L517.0 79.7L518.5 77.0L520.0 83.0L521.5 89.8L523.0 94.0L524.5 92.2L526.0 90.1L527.5 85.5L529.0 82.4L530.5 87.5L532.0 90.7L533.5 95.7L535.0 100.6L536.5 101.1L538.0 99.6L539.5 96.2L541.0 93.9L542.5 94.0L544.0 96.6L545.5 97.9L547.0 99.8L548.5 98.0L550.0 96.0L551.5 94.9L553.0 97.6L554.5 99.9L556.0 102.7L557.5 103.2L559.0 105.8L560.5 108.5L562.0 112.2L563.5 116.0L565.0 118.1L566.5 119.7L568.0 117.8L569.5 111.2L571.0 103.7L572.5 91.9L574.0 85.2L575.5 88.3L577.0 96.8L578.5 106.4L580.0 106.3L581.5 102.4L583.0 95.6L584.5 92.1L586.0 98.9L587.5 103.5L589.0 110.5L590.5 116.7L592.0 125.0L593.5 130.8L595.0 139.3L596.5 145.4L598.0 146.0L599.5 147.0L601.0 144.7L602.5 142.5L604.0 137.5L605.5 135.6L607.0 133.3L608.5 130.2L610.0 130.3L611.5 133.0L613.0 138.1L614.5 144.9L616.0 152.2L617.5 156.8L619.0 162.7L620.5 155.9L622.0 143.6L623.5 129.4L625.0 116.4L626.5 107.3L628.0 104.4L629.5 102.0L631.0 97.6L632.5 93.2L634.0 88.5L635.5 86.3L637.0 84.3L638.5 81.5L640.0 78.9L641.5 75.8L643.0 83.9L644.5 94.0L646.0 94.8L647.5 90.4L649.0 87.4L650.5 83.9L652.0 81.1L653.5 86.9L655.0 92.2L656.5 98.0L658.0 99.6L659.5 101.5L661.0 100.8L662.5 99.8L664.0 96.2L665.5 94.0L667.0 97.2L668.5 99.5L670.0 100.7L671.5 103.5L673.0 107.1L674.5 108.3L676.0 109.9L677.5 111.6L679.0 110.0L680.5 105.5L682.0 100.6L683.5 94.1L685.0 90.9L686.5 97.2L688.0 99.6L689.5 101.9L691.0 108.7L692.5 115.0L694.0 117.1L695.5 121.0L697.0 124.0L698.5 126.7L700.0 129.0L701.5 132.0L703.0 135.8L704.5 140.4L706.0 143.4L707.5 145.9L709.0 143.5L710.5 135.0L712.0 124.5L713.5 116.5L715.0 114.8L716.5 118.5L718.0 121.4L719.5 125.8L721.0 132.1L722.5 135.2L724.0 138.7L725.5 133.3L727.0 128.4L728.5 122.2L730.0 116.4L731.5 115.8L733.0 116.8L734.5 117.4L736.0 117.7L737.5 119.9L739.0 119.5L740.5 120.2L742.0 118.1L743.5 109.8L745.0 102.4L746.5 94.8L748.0 84.9L749.5 79.3L751.0 82.8L752.5 87.8L754.0 96.2L755.5 96.6L757.0 91.1L758.5 90.9L760.0 95.4L761.5 103.4L763.0 109.7L764.5 111.9L766.0 109.8L767.5 107.4L769.0 102.9L770.5 100.6L772.0 95.9L773.5 93.5L775.0 87.8L776.5 86.0L778.0 89.3L779.5 92.5L781.0 96.5L782.5 101.5L784.0 106.4L785.5 112.0L787.0 112.9L788.5 108.6L790.0 104.0L791.5 98.5L793.0 94.1L794.5 90.8L796.0 88.6L797.5 87.9L799.0 86.8L800.5 89.0L802.0 92.9L803.5 97.2L805.0 104.7L806.5 109.7L808.0 137.5L809.5 162.5L811.0 147.7L812.5 134.8L814.0 129.6L815.5 129.9L817.0 129.9L818.5 130.5L820.0 128.4L821.5 129.2L823.0 124.8L824.5 115.5L826.0 106.1L827.5 97.1L829.0 95.2L830.5 101.3L832.0 110.6L833.5 118.6L835.0 125.7L836.5 130.8L838.0 132.4L839.5 134.7L841.0 131.4L842.5 132.2L844.0 130.3L845.5 131.5L847.0 133.8L848.5 141.9L850.0 150.2L851.5 155.1L853.0 149.6L854.5 139.3L856.0 128.3L857.5 117.2L859.0 120.3L860.5 132.2L862.0 140.9L863.5 142.3L865.0 137.2L866.5 129.3L868.0 120.1L869.5 115.2L871.0 110.1L872.5 104.2L874.0 100.7L875.5 97.6L877.0 92.0L878.5 88.1L880.0 83.3L881.5 80.1L883.0 81.7L884.5 90.6L886.0 100.1L887.5 106.2L889.0 104.1L890.5 100.5L892.0 98.9L893.5 100.1L895.0 102.4L896.5 107.1L898.0 114.0L899.5 119.1L901.0 119.5L902.5 117.8L904.0 113.8L905.5 114.8L907.0 110.6L908.5 105.9L910.0 100.1L911.5 93.9L913.0 90.2L914.5 89.1L916.0 88.1L917.5 87.9L919.0 91.4L920.5 95.9L922.0 100.3L923.5 104.7L925.0 109.7L926.5 114.2L928.0 116.8L929.5 119.2L931.0 123.4L932.5 129.8L934.0 132.7L935.5 136.3L937.0 137.7L938.5 140.1L940.0 138.7L941.5 132.7L943.0 130.6L944.5 124.6L946.0 119.3L947.5 117.8L949.0 114.7L950.5 111.6L952.0 110.2L953.5 110.0L955.0 108.6L956.5 112.1L958.0 112.9L959.5 114.9L961.0 116.2L962.5 120.8L964.0 120.9L965.5 117.6L967.0 114.1L968.5 110.2L970.0 110.8L971.5 109.7L973.0 109.0L974.5 109.9L976.0 114.9L977.5 118.8L979.0 121.8L980.5 125.5L982.0 129.9L983.5 128.9L985.0 124.9L986.5 117.5L988.0 110.0L989.5 102.2L991.0 95.1L992.5 90.6L994.0 85.2L995.5 81.6L997.0 77.6L998.5 75.0L1000.0 71.9L1001.5 70.3L1003.0 68.8L1004.5 68.9L1006.0 66.4L1007.5 67.2L1009.0 65.5L1010.5 64.3L1012.0 65.1L1013.5 66.0L1015.0 66.7L1016.5 67.1L1018.0 68.1L1019.5 71.3L1021.0 72.0L1022.5 73.6L1024.0 78.7L1025.5 86.4L1027.0 96.2L1028.5 108.1L1030.0 113.4L1031.5 116.7L1033.0 109.6L1034.5 105.0L1036.0 95.6L1037.5 94.3L1039.0 95.6L1040.5 102.1L1042.0 109.0L1043.5 115.4L1045.0 122.9L1046.5 125.8L1048.0 126.3L1049.5 127.6L1051.0 129.2L1052.5 129.0L1054.0 130.4L1055.5 130.4L1057.0 125.8L1058.5 121.1L1060.0 124.1L1061.5 125.9L1063.0 128.9L1064.5 125.1L1066.0 119.9L1067.5 118.3L1069.0 122.4L1070.5 125.3L1072.0 127.6L1073.5 128.9L1075.0 130.3L1076.5 131.9L1078.0 132.5L1079.5 130.6L1081.0 124.9L1082.5 115.7L1084.0 108.3L1085.5 100.3L1087.0 94.8L1088.5 101.5L1090.0 104.7L1091.5 108.9L1093.0 110.0L1094.5 106.8L1096.0 100.9L1097.5 94.8L1099.0 89.6L1100.5 85.7L1102.0 80.0L1103.5 78.4L1105.0 85.0L1106.5 96.4L1108.0 107.2L1109.5 108.5L1111.0 107.6L1112.5 104.4L1114.0 101.2L1115.5 97.5L1117.0 95.5L1118.5 87.4L1120.0 83.5L1121.5 84.4L1123.0 87.9L1124.5 91.3L1126.0 95.4L1127.5 98.0L1129.0 97.7L1130.5 95.0L1132.0 94.1L1133.5 91.8L1135.0 90.0L1136.5 97.0L1138.0 103.3L1139.5 109.8L1141.0 116.6L1142.5 122.8L1144.0 125.7L1145.5 121.5L1147.0 115.8L1148.5 108.3L1150.0 102.4L1151.5 98.1L1153.0 90.9L1154.5 85.2L1156.0 82.4L1157.5 88.0L1159.0 95.1L1160.5 102.3L1162.0 110.4L1163.5 118.1L1165.0 123.6L1166.5 128.5L1168.0 129.1L1169.5 127.8L1171.0 121.3L1172.5 117.0L1174.0 113.0L1175.5 111.4L1177.0 110.3L1178.5 111.5L1180.0 111.8L1181.5 111.5L1183.0 113.1L1184.5 117.4L1186.0 120.8L1187.5 123.2L1189.0 125.4L1190.5 125.6L1192.0 118.2L1193.5 111.5L1195.0 104.8L1196.5 102.8L1198.0 108.9L1199.5 114.3L1201.0 121.0L1202.5 122.6L1204.0 115.4L1205.5 107.9L1207.0 114.8L1208.5 121.3L1210.0 125.1L1211.5 124.2L1213.0 120.7L1214.5 117.7L1216.0 115.2L1217.5 112.9L1219.0 112.1L1220.5 109.8L1222.0 112.2L1223.5 114.5L1225.0 118.0L1226.5 121.2L1228.0 123.7L1229.5 125.6L1231.0 129.1L1232.5 124.6L1234.0 116.8L1235.5 109.4L1237.0 100.5L1238.5 93.8L1240.0 88.1L1241.5 92.4L1243.0 99.5L1244.5 101.5L1246.0 96.4L1247.5 89.9L1249.0 83.0L1250.5 77.2L1252.0 74.3L1253.5 79.8L1255.0 84.2L1256.5 88.0L1258.0 97.0L1259.5 99.2L1261.0 102.8L1262.5 106.7L1264.0 108.6L1264.2 108.6" fill="none" stroke="#4dc1c8" stroke-width="4.2" stroke-linejoin="round" stroke-linecap="round" /><path d="M158.5 64.0L160.0 65.0L161.5 65.9L163.0 65.2L164.5 67.1L166.0 67.7L167.5 67.9L169.0 68.5L170.5 70.2L172.0 70.1L173.5 73.5L175.0 75.3L176.5 76.6L178.0 77.6L179.5 79.6L181.0 83.6L182.5 85.6L184.0 90.2L185.5 94.2L187.0 99.9L188.5 108.5L190.0 116.3L191.5 122.5L193.0 127.0L194.5 131.4L196.0 133.0L197.5 131.4L199.0 133.1L200.5 134.6L202.0 135.0L203.5 135.3L205.0 136.4L206.5 138.6L208.0 144.0L209.5 145.6L211.0 148.0L212.5 148.0L214.0 150.2L215.5 150.6L217.0 149.9L218.5 151.1L220.0 149.4L221.5 150.5L223.0 149.8L224.5 150.6L226.0 149.9L227.5 149.3L229.0 147.6L230.5 145.3L232.0 145.4L233.5 144.7L235.0 141.7L236.5 138.7L238.0 137.7L239.5 135.8L241.0 134.1L242.5 131.3L244.0 130.4L245.5 127.0L247.0 126.5L248.5 123.7L250.0 121.3L251.5 118.5L253.0 112.2L254.5 105.0L256.0 97.3L257.5 92.9L259.0 92.2L260.5 91.3L262.0 89.8L263.5 86.8L265.0 83.5L266.5 78.9L268.0 73.6L269.5 69.5L271.0 68.1L272.5 64.2L274.0 62.0L275.5 64.2L277.0 66.9L278.5 67.9L280.0 67.2L281.5 65.4L283.0 62.4L284.5 59.7L286.0 59.5L287.5 61.3L289.0 64.4L290.5 65.9L292.0 66.1L293.5 64.7L295.0 62.4L296.5 64.2L298.0 71.1L299.5 75.8L301.0 81.1L302.5 85.5L304.0 89.3L305.5 93.9L307.0 98.2L308.5 105.0L310.0 117.2L311.5 130.9L313.0 128.5L314.5 120.8L316.0 118.9L317.5 123.5L319.0 128.6L320.5 130.6L322.0 135.9L323.5 140.5L325.0 145.4L326.5 146.4L328.0 145.4L329.5 143.4L331.0 144.6L332.5 145.8L334.0 145.6L335.5 146.0L337.0 145.9L338.5 147.3L340.0 150.6L341.5 153.1L343.0 154.3L344.5 156.7L346.0 154.4L347.5 148.9L349.0 144.2L350.5 141.3L352.0 139.3L353.5 136.5L355.0 135.4L356.5 134.7L358.0 131.7L359.5 130.4L361.0 132.5L362.5 136.3L364.0 131.8L365.5 125.5L367.0 119.8L368.5 112.6L370.0 103.2L371.5 99.3L373.0 97.6L374.5 95.4L376.0 95.6L377.5 96.2L379.0 95.5L380.5 93.6L382.0 89.8L383.5 83.9L385.0 77.4L386.5 72.4L388.0 67.7L389.5 62.9L391.0 63.0L392.5 60.9L394.0 61.3L395.5 59.1L397.0 54.6L398.5 51.1L400.0 47.0L401.5 47.9L403.0 54.9L404.5 61.8L406.0 67.9L407.5 72.1L409.0 72.1L410.5 70.2L412.0 68.0L413.5 63.5L415.0 61.1L416.5 62.1L418.0 62.7L419.5 63.7L421.0 61.8L422.5 56.1L424.0 56.2L425.5 67.1L427.0 79.4L428.5 90.7L430.0 103.7L431.5 114.1L433.0 121.5L434.5 127.8L436.0 133.4L437.5 134.7L439.0 135.3L440.5 136.9L442.0 136.9L443.5 138.0L445.0 138.2L446.5 140.3L448.0 142.9L449.5 143.9L451.0 144.3L452.5 144.4L454.0 144.3L455.5 145.5L457.0 144.9L458.5 144.8L460.0 143.8L461.5 143.7L463.0 144.8L464.5 145.1L466.0 145.9L467.5 145.7L469.0 144.9L470.5 144.3L472.0 144.0L473.5 140.5L475.0 137.6L476.5 133.0L478.0 126.6L479.5 125.3L481.0 128.2L482.5 131.4L484.0 131.3L485.5 126.4L487.0 123.4L488.5 119.6L490.0 117.2L491.5 112.2L493.0 108.6L494.5 103.7L496.0 99.3L497.5 95.7L499.0 94.4L500.5 94.5L502.0 91.1L503.5 86.0L505.0 79.7L506.5 74.8L508.0 67.7L509.5 62.8L511.0 53.9L512.5 48.2L514.0 49.5L515.5 53.1L517.0 56.9L518.5 61.1L520.0 60.9L521.5 61.2L523.0 61.1L524.5 60.2L526.0 58.8L527.5 55.4L529.0 52.3L530.5 59.2L532.0 74.2L533.5 85.2L535.0 90.2L536.5 88.0L538.0 82.8L539.5 79.1L541.0 76.9L542.5 78.8L544.0 85.4L545.5 92.8L547.0 99.7L548.5 108.3L550.0 115.1L551.5 118.5L553.0 120.4L554.5 123.1L556.0 127.6L557.5 134.8L559.0 137.9L560.5 138.5L562.0 137.0L563.5 135.9L565.0 136.1L566.5 137.8L568.0 141.4L569.5 142.9L571.0 143.6L572.5 143.9L574.0 141.1L575.5 138.5L577.0 136.1L578.5 133.7L580.0 132.1L581.5 136.5L583.0 142.0L584.5 149.9L586.0 154.6L587.5 154.1L589.0 153.9L590.5 151.6L592.0 151.3L593.5 152.7L595.0 151.2L596.5 149.3L598.0 147.3L599.5 143.0L601.0 138.8L602.5 133.9L604.0 127.9L605.5 123.7L607.0 116.1L608.5 111.4L610.0 108.0L611.5 103.2L613.0 98.6L614.5 94.7L616.0 90.3L617.5 86.0L619.0 83.4L620.5 81.9L622.0 81.7L623.5 83.4L625.0 80.5L626.5 77.1L628.0 73.2L629.5 71.1L631.0 69.7L632.5 69.2L634.0 67.4L635.5 66.5L637.0 63.4L638.5 59.3L640.0 56.0L641.5 52.7L643.0 51.4L644.5 49.3L646.0 49.6L647.5 50.9L649.0 57.0L650.5 63.3L652.0 70.9L653.5 78.0L655.0 85.5L656.5 88.4L658.0 85.8L659.5 79.5L661.0 74.8L662.5 73.2L664.0 76.7L665.5 82.2L667.0 87.3L668.5 90.6L670.0 91.3L671.5 94.1L673.0 96.5L674.5 101.7L676.0 107.8L677.5 113.9L679.0 118.9L680.5 123.6L682.0 127.0L683.5 127.4L685.0 129.7L686.5 135.0L688.0 138.7L689.5 144.3L691.0 147.6L692.5 151.5L694.0 149.4L695.5 145.5L697.0 141.4L698.5 139.0L700.0 142.9L701.5 148.2L703.0 155.5L704.5 158.5L706.0 155.3L707.5 147.6L709.0 140.6L710.5 136.1L712.0 138.6L713.5 142.2L715.0 147.3L716.5 150.7L718.0 148.3L719.5 139.2L721.0 130.7L722.5 124.9L724.0 125.1L725.5 122.9L727.0 121.5L728.5 116.5L730.0 112.6L731.5 108.7L733.0 103.2L734.5 98.8L736.0 95.1L737.5 93.6L739.0 91.0L740.5 86.1L742.0 79.6L743.5 73.4L745.0 68.8L746.5 65.0L748.0 64.5L749.5 65.8L751.0 68.1L752.5 68.7L754.0 68.9L755.5 71.1L757.0 68.1L758.5 65.3L760.0 62.7L761.5 59.2L763.0 55.1L764.5 52.1L766.0 49.7L767.5 47.5L769.0 47.5L770.5 47.4L772.0 46.8L773.5 49.3L775.0 54.5L776.5 62.9L778.0 72.8L779.5 82.2L781.0 87.1L782.5 88.0L784.0 89.8L785.5 92.1L787.0 96.2L788.5 102.9L790.0 110.3L791.5 117.2L793.0 122.5L794.5 126.6L796.0 129.9L797.5 132.2L799.0 131.0L800.5 127.4L802.0 126.8L803.5 129.8L805.0 134.1L806.5 137.9L808.0 141.5L809.5 141.8L811.0 142.1L812.5 143.7L814.0 141.6L815.5 141.9L817.0 144.4L818.5 146.8L820.0 150.3L821.5 149.4L823.0 151.0L824.5 150.2L826.0 148.8L827.5 145.5L829.0 145.3L830.5 147.3L832.0 147.2L833.5 149.0L835.0 145.1L836.5 141.6L838.0 138.5L839.5 135.2L841.0 130.6L842.5 129.8L844.0 133.7L845.5 136.9L847.0 132.9L848.5 128.3L850.0 122.5L851.5 117.9L853.0 114.1L854.5 113.2L856.0 110.2L857.5 108.0L859.0 104.7L860.5 101.2L862.0 95.6L863.5 88.5L865.0 79.2L866.5 73.2L868.0 67.3L869.5 63.0L871.0 63.2L872.5 65.2L874.0 66.8L875.5 69.1L877.0 69.6L878.5 67.6L880.0 65.0L881.5 62.0L883.0 58.8L884.5 56.6L886.0 52.7L887.5 48.9L889.0 44.6L890.5 43.0L892.0 42.7L893.5 43.7L895.0 46.7L896.5 48.0L898.0 52.1L899.5 55.9L901.0 63.5L902.5 77.9L904.0 93.5L905.5 105.7L907.0 110.4L908.5 112.0L910.0 113.5L911.5 113.1L913.0 108.8L914.5 101.5L916.0 98.2L917.5 106.3L919.0 118.8L920.5 132.8L922.0 144.6L923.5 144.0L925.0 139.8L926.5 133.0L928.0 132.4L929.5 138.1L931.0 142.6L932.5 146.5L934.0 149.4L935.5 148.5L937.0 149.0L938.5 147.9L940.0 146.7L941.5 145.8L943.0 143.4L944.5 141.3L946.0 140.0L947.5 139.1L949.0 137.0L950.5 138.1L952.0 145.3L953.5 150.5L955.0 149.0L956.5 145.4L958.0 142.5L959.5 138.7L961.0 134.6L962.5 132.6L964.0 130.1L965.5 128.8L967.0 127.4L968.5 123.0L970.0 118.9L971.5 114.0L973.0 110.2L974.5 103.8L976.0 101.1L977.5 98.0L979.0 91.5L980.5 90.3L982.0 88.3L983.5 84.0L985.0 79.9L986.5 78.6L988.0 74.5L989.5 69.6L991.0 65.4L992.5 61.9L994.0 60.7L995.5 58.0L997.0 58.1L998.5 59.5L1000.0 61.6L1001.5 62.2L1003.0 65.0L1004.5 64.4L1006.0 63.6L1007.5 63.2L1009.0 63.6L1010.5 63.3L1012.0 65.3L1013.5 64.4L1015.0 67.0L1016.5 68.6L1018.0 66.8L1019.5 69.7L1021.0 73.1L1022.5 74.8L1024.0 80.1L1025.5 85.3L1027.0 92.3L1028.5 96.0L1030.0 96.5L1031.5 97.8L1033.0 102.0L1034.5 109.4L1036.0 116.1L1037.5 122.3L1039.0 126.7L1040.5 129.6L1042.0 132.1L1043.5 133.8L1045.0 136.5L1046.5 138.5L1048.0 140.6L1049.5 143.1L1051.0 145.4L1052.5 147.2L1054.0 150.7L1055.5 152.1L1057.0 150.5L1058.5 150.7L1060.0 147.8L1061.5 147.6L1063.0 145.1L1064.5 144.1L1066.0 141.7L1067.5 142.0L1069.0 141.7L1070.5 140.0L1072.0 139.4L1073.5 139.0L1075.0 140.2L1076.5 140.1L1078.0 139.4L1079.5 140.4L1081.0 140.6L1082.5 142.9L1084.0 143.5L1085.5 135.0L1087.0 124.2L1088.5 120.2L1090.0 118.2L1091.5 117.6L1093.0 116.4L1094.5 112.7L1096.0 109.4L1097.5 103.8L1099.0 99.5L1100.5 93.5L1102.0 88.6L1103.5 84.6L1105.0 83.4L1106.5 79.5L1108.0 79.6L1109.5 74.0L1111.0 69.9L1112.5 65.6L1114.0 61.6L1115.5 58.9L1117.0 54.1L1118.5 50.7L1120.0 47.6L1121.5 43.8L1123.0 44.2L1124.5 47.2L1126.0 50.1L1127.5 55.2L1129.0 59.3L1130.5 66.1L1132.0 71.8L1133.5 78.9L1135.0 84.2L1136.5 88.3L1138.0 91.3L1139.5 90.9L1141.0 84.7L1142.5 79.8L1144.0 72.4L1145.5 70.1L1147.0 76.7L1148.5 85.3L1150.0 91.3L1151.5 95.7L1153.0 98.7L1154.5 102.2L1156.0 108.6L1157.5 116.1L1159.0 124.5L1160.5 132.8L1162.0 140.6L1163.5 144.9L1165.0 145.3L1166.5 145.4L1168.0 144.9L1169.5 144.9L1171.0 144.7L1172.5 143.3L1174.0 143.6L1175.5 143.1L1177.0 141.5L1178.5 141.7L1180.0 144.2L1181.5 147.2L1183.0 149.0L1184.5 150.6L1186.0 151.6L1187.5 148.3L1189.0 142.8L1190.5 137.2L1192.0 133.6L1193.5 135.4L1195.0 137.9L1196.5 138.5L1198.0 138.0L1199.5 137.2L1201.0 135.1L1202.5 133.2L1204.0 131.6L1205.5 128.2L1207.0 126.6L1208.5 125.3L1210.0 123.3L1211.5 120.3L1213.0 116.6L1214.5 113.6L1216.0 109.8L1217.5 106.0L1219.0 103.3L1220.5 99.7L1222.0 97.8L1223.5 95.2L1225.0 91.6L1226.5 86.6L1228.0 82.2L1229.5 78.1L1231.0 72.9L1232.5 68.3L1234.0 64.4L1235.5 61.6L1237.0 60.7L1238.5 60.9L1240.0 59.0L1241.5 59.7L1243.0 58.0L1244.5 56.8L1246.0 57.1L1247.5 56.3L1249.0 56.6L1250.5 60.2L1252.0 63.8L1253.5 69.4L1255.0 74.7L1256.5 79.5L1258.0 82.5L1259.5 88.9L1261.0 90.1L1262.5 92.1L1264.0 91.8L1265.5 92.5L1267.0 96.9L1268.5 97.0L1269.0 98.8" fill="none" stroke="#5f57a6" stroke-width="4.2" stroke-linejoin="round" stroke-linecap="round" />
<path d="M158.8 376.9L159.2 309L159.5 360L159.9 322L160.3 358L160.7 363L161.0 370L161.4 367L161.8 376L162.1 370L162.5 351L162.9 392L163.2 385L163.6 408L164.0 390L164.4 383L164.7 382L165.1 363L165.5 399L165.8 378L166.2 374L166.6 385L166.9 406L167.3 384L167.7 370L168.1 373L168.4 389L168.8 371L169.2 370L169.5 374L169.9 386L170.3 402L170.6 366L171.0 370L171.4 369L171.8 351L172.1 368L172.5 369L172.9 395L173.2 384L173.6 364L174.0 391L174.3 382L174.7 364L175.1 377L175.5 379L175.8 376L176.2 387L176.6 360L176.9 378L177.3 400L177.7 400L178.0 403L178.4 401L178.8 406L179.2 369L179.5 391L179.9 355L180.3 365L180.6 350L181.0 387L181.4 394L181.7 373L182.1 397L182.5 366L182.9 373L183.2 374L183.6 357L184.0 376L184.3 401L184.7 362L185.1 390L185.4 381L185.8 406L186.2 395L186.6 400L186.9 404L187.3 402L187.7 386L188.0 421L188.4 395L188.8 412L189.1 420L189.5 407L189.9 419L190.3 433L190.6 423L191.0 413L191.4 394L191.7 409L192.1 414L192.5 415L192.8 410L193.2 421L193.6 411L194.0 414L194.3 420L194.7 404L195.1 407L195.4 430L195.8 418L196.2 393L196.5 402L196.9 408L197.3 415L197.7 404L198.0 396L198.4 392L198.8 405L199.1 404L199.5 398L199.9 395L200.2 402L200.6 414L201.0 403L201.4 416L201.7 412L202.1 423L202.5 413L202.8 436L203.2 421L203.6 433L203.9 426L204.3 417L204.7 437L205.1 442L205.4 428L205.8 446L206.2 437L206.5 435L206.9 439L207.3 451L207.6 450L208.0 435L208.4 443L208.8 430L209.1 424L209.5 435L209.9 420L210.2 404L210.6 406L211.0 409L211.3 404L211.7 409L212.1 368L212.5 390L212.8 363L213.2 370L213.6 373L213.9 366L214.3 346L214.7 354L215.0 332L215.4 340L215.8 343L216.2 348L216.5 339L216.9 346L217.3 323L217.6 359L218.0 346L218.4 355L218.7 356L219.1 348L219.5 388L219.9 369L220.2 353L220.6 381L221.0 360L221.3 372L221.7 379L222.1 365L222.4 367L222.8 367L223.2 366L223.6 360L223.9 363L224.3 375L224.7 390L225.0 391L225.4 406L225.8 382L226.1 392L226.5 377L226.9 378L227.3 397L227.6 400L228.0 416L228.4 423L228.7 415L229.1 416L229.5 410L229.8 421L230.2 476L230.6 435L231.0 420L231.3 426L231.7 404L232.1 397L232.4 412L232.8 410L233.2 412L233.5 408L233.9 410L234.3 410L234.7 412L235.0 408L235.4 392L235.8 392L236.1 382L236.5 381L236.9 408L237.2 388L237.6 413L238.0 393L238.4 366L238.7 410L239.1 401L239.5 406L239.8 402L240.2 401L240.6 395L240.9 389L241.3 411L241.7 394L242.1 413L242.4 366L242.8 385L243.2 390L243.5 360L243.9 382L244.3 379L244.6 362L245.0 368L245.4 388L245.8 364L246.1 363L246.5 355L246.9 349L247.2 346L247.6 357L248.0 377L248.3 379L248.7 374L249.1 380L249.5 390L249.8 377L250.2 393L250.6 382L250.9 368L251.3 380L251.7 336L252.0 348L252.4 359L252.8 345L253.2 351L253.5 330L253.9 342L254.3 377L254.6 357L255.0 347L255.4 362L255.7 346L256.1 358L256.5 354L256.9 369L257.2 334L257.6 358L258.0 354L258.3 339L258.7 365L259.1 347L259.4 375L259.8 363L260.2 369L260.6 364L260.9 374L261.3 350L261.7 371L262.0 368L262.4 381L262.8 381L263.1 392L263.5 380L263.9 409L264.3 418L264.6 395L265.0 396L265.4 401L265.7 413L266.1 397L266.5 394L266.8 392L267.2 388L267.6 385L268.0 378L268.3 395L268.7 380L269.1 402L269.4 395L269.8 371L270.2 365L270.5 366L270.9 384L271.3 316L271.7 348L272.0 360L272.4 342L272.8 334L273.1 371L273.5 353L273.9 359L274.2 347L274.6 355L275.0 355L275.4 330L275.7 303L276.1 342L276.5 359L276.8 348L277.2 382L277.6 370L277.9 376L278.3 378L278.7 358L279.1 348L279.4 365L279.8 365L280.2 371L280.5 376L280.9 377L281.3 353L281.6 343L282.0 382L282.4 358L282.8 340L283.1 354L283.5 352L283.9 352L284.2 346L284.6 354L285.0 331L285.3 359L285.7 368L286.1 365L286.5 337L286.8 353L287.2 306L287.6 352L287.9 352L288.3 343L288.7 356L289.0 356L289.4 365L289.8 359L290.2 360L290.5 340L290.9 347L291.3 356L291.6 365L292.0 364L292.4 380L292.7 360L293.1 366L293.5 366L293.9 338L294.2 378L294.6 370L295.0 390L295.3 378L295.7 392L296.1 384L296.4 400L296.8 376L297.2 395L297.6 390L297.9 398L298.3 411L298.7 392L299.0 391L299.4 396L299.8 410L300.1 385L300.5 412L300.9 403L301.3 405L301.6 414L302.0 423L302.4 389L302.7 416L303.1 421L303.5 420L303.8 396L304.2 408L304.6 417L305.0 425L305.3 433L305.7 418L306.1 407L306.4 391L306.8 396L307.2 385L307.5 399L307.9 374L308.3 357L308.7 380L309.0 386L309.4 366L309.8 350L310.1 347L310.5 336L310.9 332L311.2 355L311.6 355L312.0 353L312.4 358L312.7 344L313.1 352L313.5 346L313.8 351L314.2 366L314.6 358L314.9 342L315.3 360L315.7 360L316.1 355L316.4 366L316.8 387L317.2 400L317.5 383L317.9 399L318.3 403L318.6 385L319.0 396L319.4 400L319.8 404L320.1 381L320.5 399L320.9 405L321.2 417L321.6 423L322.0 402L322.3 397L322.7 411L323.1 388L323.5 405L323.8 395L324.2 401L324.6 394L324.9 405L325.3 395L325.7 354L326.0 397L326.4 389L326.8 380L327.2 395L327.5 354L327.9 372L328.3 371L328.6 361L329.0 367L329.4 390L329.7 363L330.1 368L330.5 355L330.9 357L331.2 377L331.6 355L332.0 354L332.3 357L332.7 348L333.1 346L333.4 343L333.8 343L334.2 356L334.6 360L334.9 360L335.3 354L335.7 343L336.0 355L336.4 349L336.8 367L337.1 350L337.5 363L337.9 349L338.3 330L338.6 355L339.0 359L339.4 331L339.7 343L340.1 358L340.5 339L340.8 370L341.2 354L341.6 348L342.0 377L342.3 372L342.7 364L343.1 382L343.4 357L343.8 398L344.2 376L344.5 389L344.9 385L345.3 395L345.7 385L346.0 379L346.4 393L346.8 370L347.1 374L347.5 377L347.9 346L348.2 367L348.6 385L349.0 359L349.4 385L349.7 377L350.1 362L350.5 354L350.8 370L351.2 386L351.6 388L351.9 381L352.3 406L352.7 378L353.1 385L353.4 405L353.8 434L354.2 419L354.5 404L354.9 424L355.3 430L355.6 437L356.0 418L356.4 409L356.8 418L357.1 421L357.5 434L357.9 439L358.2 404L358.6 401L359.0 404L359.3 400L359.7 406L360.1 404L360.5 399L360.8 409L361.2 391L361.6 366L361.9 331L362.3 383L362.7 386L363.0 367L363.4 392L363.8 407L364.2 403L364.5 399L364.9 393L365.3 402L365.6 427L366.0 395L366.4 418L366.7 429L367.1 425L367.5 419L367.9 415L368.2 401L368.6 414L369.0 421L369.3 389L369.7 384L370.1 364L370.4 395L370.8 395L371.2 384L371.6 363L371.9 351L372.3 365L372.7 368L373.0 350L373.4 362L373.8 366L374.1 374L374.5 351L374.9 367L375.3 350L375.6 358L376.0 363L376.4 381L376.7 396L377.1 366L377.5 376L377.8 383L378.2 361L378.6 386L379.0 358L379.3 395L379.7 406L380.1 399L380.4 369L380.8 415L381.2 405L381.5 405L381.9 412L382.3 390L382.7 413L383.0 407L383.4 414L383.8 418L384.1 405L384.5 418L384.9 414L385.2 409L385.6 402L386.0 413L386.4 415L386.7 404L387.1 405L387.5 406L387.8 406L388.2 390L388.6 382L388.9 377L389.3 379L389.7 383L390.1 386L390.4 370L390.8 375L391.2 362L391.5 389L391.9 372L392.3 380L392.6 367L393.0 372L393.4 369L393.8 397L394.1 390L394.5 383L394.9 362L395.2 377L395.6 397L396.0 416L396.3 367L396.7 378L397.1 390L397.5 386L397.8 371L398.2 380L398.6 398L398.9 372L399.3 389L399.7 404L400.0 405L400.4 381L400.8 417L401.2 391L401.5 372L401.9 379L402.3 364L402.6 387L403.0 359L403.4 383L403.7 364L404.1 382L404.5 381L404.9 374L405.2 368L405.6 381L406.0 341L406.3 368L406.7 370L407.1 363L407.4 375L407.8 381L408.2 367L408.6 376L408.9 368L409.3 392L409.7 334L410.0 393L410.4 360L410.8 330L411.1 349L411.5 369L411.9 367L412.3 378L412.6 394L413.0 376L413.4 383L413.7 304L414.1 384L414.5 406L414.8 384L415.2 360L415.6 368L416.0 417L416.3 385L416.7 379L417.1 374L417.4 387L417.8 376L418.2 368L418.5 356L418.9 375L419.3 394L419.7 376L420.0 385L420.4 378L420.8 376L421.1 377L421.5 377L421.9 394L422.2 389L422.6 373L423.0 385L423.4 385L423.7 396L424.1 394L424.5 400L424.8 376L425.2 402L425.6 420L425.9 386L426.3 427L426.7 415L427.1 378L427.4 391L427.8 428L428.2 395L428.5 412L428.9 429L429.3 411L429.6 407L430.0 409L430.4 386L430.8 438L431.1 438L431.5 438L431.9 394L432.2 428L432.6 413L433.0 451L433.3 425L433.7 382L434.1 394L434.5 415L434.8 388L435.2 396L435.6 407L435.9 380L436.3 410L436.7 420L437.0 366L437.4 404L437.8 375L438.2 370L438.5 390L438.9 393L439.3 373L439.6 403L440.0 369L440.4 377L440.7 375L441.1 406L441.5 410L441.9 410L442.2 381L442.6 401L443.0 385L443.3 379L443.7 389L444.1 413L444.4 406L444.8 409L445.2 412L445.6 409L445.9 403L446.3 396L446.7 389L447.0 396L447.4 394L447.8 434L448.1 406L448.5 398L448.9 393L449.3 391L449.6 392L450.0 404L450.4 396L450.7 408L451.1 387L451.5 394L451.8 408L452.2 380L452.6 396L453.0 398L453.3 390L453.7 386L454.1 365L454.4 405L454.8 380L455.2 373L455.5 398L455.9 364L456.3 373L456.7 392L457.0 392L457.4 359L457.8 344L458.1 346L458.5 394L458.9 367L459.2 362L459.6 391L460.0 359L460.4 344L460.7 359L461.1 358L461.5 343L461.8 351L462.2 379L462.6 377L462.9 330L463.3 336L463.7 374L464.1 374L464.4 372L464.8 392L465.2 356L465.5 399L465.9 385L466.3 389L466.6 384L467.0 383L467.4 374L467.8 367L468.1 390L468.5 382L468.9 356L469.2 399L469.6 401L470.0 409L470.3 387L470.7 393L471.1 384L471.5 375L471.8 398L472.2 406L472.6 396L472.9 443L473.3 392L473.7 404L474.0 411L474.4 450L474.8 430L475.2 431L475.5 424L475.9 427L476.3 419L476.6 459L477.0 457L477.4 465L477.7 496L478.1 488L478.5 431L478.9 402L479.2 419L479.6 437L480.0 446L480.3 412L480.7 412L481.1 417L481.4 402L481.8 395L482.2 372L482.6 401L482.9 411L483.3 406L483.7 403L484.0 410L484.4 380L484.8 389L485.1 348L485.5 344L485.9 361L486.3 338L486.6 361L487.0 376L487.4 358L487.7 335L488.1 311L488.5 378L488.8 340L489.2 356L489.6 352L490.0 359L490.3 382L490.7 318L491.1 337L491.4 397L491.8 364L492.2 369L492.5 384L492.9 403L493.3 414L493.7 417L494.0 383L494.4 378L494.8 392L495.1 388L495.5 394L495.9 368L496.2 325L496.6 384L497.0 398L497.4 399L497.7 421L498.1 409L498.5 385L498.8 412L499.2 395L499.6 421L499.9 400L500.3 409L500.7 395L501.1 404L501.4 369L501.8 404L502.2 361L502.5 412L502.9 424L503.3 445L503.6 392L504.0 384L504.4 362L504.8 416L505.1 365L505.5 402L505.9 340L506.2 376L506.6 392L507.0 372L507.3 375L507.7 357L508.1 354L508.5 391L508.8 382L509.2 356L509.6 375L509.9 352L510.3 388L510.7 396L511.0 356L511.4 369L511.8 388L512.2 357L512.5 406L512.9 401L513.3 364L513.6 385L514.0 401L514.4 325L514.7 375L515.1 363L515.5 341L515.9 378L516.2 357L516.6 336L517.0 334L517.3 362L517.7 378L518.1 367L518.4 365L518.8 368L519.2 396L519.6 385L519.9 360L520.3 368L520.7 401L521.0 370L521.4 372L521.8 355L522.1 362L522.5 400L522.9 343L523.3 410L523.6 380L524.0 361L524.4 391L524.7 352L525.1 391L525.5 397L525.8 369L526.2 368L526.6 392L527.0 359L527.3 366L527.7 371L528.1 393L528.4 350L528.8 354L529.2 374L529.5 303L529.9 337L530.3 306L530.7 303L531.0 376L531.4 350L531.8 374L532.1 343L532.5 332L532.9 340L533.2 337L533.6 347L534.0 354L534.4 384L534.7 354L535.1 348L535.5 341L535.8 364L536.2 337L536.6 385L536.9 358L537.3 364L537.7 358L538.1 380L538.4 370L538.8 356L539.2 355L539.5 359L539.9 368L540.3 364L540.6 379L541.0 388L541.4 370L541.8 330L542.1 389L542.5 404L542.9 355L543.2 325L543.6 317L544.0 371L544.3 341L544.7 396L545.1 316L545.5 361L545.8 380L546.2 353L546.6 353L546.9 375L547.3 364L547.7 359L548.0 382L548.4 378L548.8 388L549.2 414L549.5 389L549.9 413L550.3 401L550.6 438L551.0 403L551.4 450L551.7 388L552.1 419L552.5 410L552.9 464L553.2 457L553.6 427L554.0 442L554.3 482L554.7 454L555.1 461L555.4 418L555.8 411L556.2 446L556.6 484L556.9 425L557.3 436L557.7 399L558.0 436L558.4 400L558.8 391L559.1 357L559.5 379L559.9 389L560.3 410L560.6 357L561.0 390L561.4 366L561.7 357L562.1 354L562.5 339L562.8 347L563.2 406L563.6 356L564.0 367L564.3 400L564.7 341L565.1 388L565.4 376L565.8 391L566.2 408L566.5 392L566.9 391L567.3 409L567.7 409L568.0 380L568.4 388L568.8 342L569.1 413L569.5 366L569.9 373L570.2 404L570.6 401L571.0 376L571.4 363L571.7 362L572.1 389L572.5 381L572.8 372L573.2 422L573.6 358L573.9 358L574.3 359L574.7 371L575.1 373L575.4 363L575.8 384L576.2 385L576.5 370L576.9 328L577.3 391L577.6 364L578.0 370L578.4 382L578.8 363L579.1 371L579.5 391L579.9 383L580.2 384L580.6 380L581.0 392L581.3 375L581.7 387L582.1 398L582.5 354L582.8 361L583.2 381L583.6 388L583.9 388L584.3 381L584.7 368L585.0 350L585.4 407L585.8 352L586.2 341L586.5 358L586.9 324L587.3 376L587.6 362L588.0 365L588.4 338L588.7 346L589.1 375L589.5 380L589.9 417L590.2 391L590.6 330L591.0 366L591.3 363L591.7 394L592.1 375L592.4 387L592.8 374L593.2 389L593.6 406L593.9 365L594.3 331L594.7 347L595.0 400L595.4 378L595.8 357L596.1 350L596.5 393L596.9 387L597.3 382L597.6 378L598.0 385L598.4 391L598.7 413L599.1 427L599.5 373L599.8 381L600.2 412L600.6 423L601.0 392L601.3 404L601.7 408L602.1 405L602.4 376L602.8 384L603.2 424L603.5 420L603.9 413L604.3 403L604.7 379L605.0 371L605.4 398L605.8 389L606.1 403L606.5 395L606.9 381L607.2 401L607.6 351L608.0 382L608.4 382L608.7 413L609.1 386L609.5 398L609.8 384L610.2 398L610.6 402L610.9 382L611.3 384L611.7 383L612.1 392L612.4 369L612.8 353L613.2 360L613.5 346L613.9 364L614.3 367L614.6 342L615.0 383L615.4 342L615.8 364L616.1 358L616.5 316L616.9 326L617.2 314L617.6 338L618.0 353L618.3 360L618.7 357L619.1 310L619.5 327L619.8 363L620.2 341L620.6 369L620.9 324L621.3 323L621.7 307L622.0 325L622.4 360L622.8 322L623.2 354L623.5 329L623.9 354L624.3 338L624.6 347L625.0 392L625.4 303L625.7 355L626.1 389L626.5 373L626.9 397L627.2 320L627.6 357L628.0 347L628.3 353L628.7 371L629.1 383L629.4 347L629.8 389L630.2 327L630.6 373L630.9 369L631.3 338L631.7 333L632.0 332L632.4 348L632.8 372L633.1 398L633.5 393L633.9 358L634.3 338L634.6 373L635.0 356L635.4 375L635.7 367L636.1 422L636.5 350L636.8 378L637.2 409L637.6 370L638.0 358L638.3 373L638.7 336L639.1 336L639.4 347L639.8 382L640.2 396L640.5 385L640.9 428L641.3 394L641.7 397L642.0 393L642.4 423L642.8 405L643.1 402L643.5 438L643.9 437L644.2 430L644.6 370L645.0 388L645.4 398L645.7 397L646.1 393L646.5 392L646.8 402L647.2 374L647.6 387L647.9 375L648.3 345L648.7 369L649.1 382L649.4 374L649.8 356L650.2 368L650.5 365L650.9 367L651.3 352L651.6 379L652.0 374L652.4 351L652.8 348L653.1 349L653.5 379L653.9 362L654.2 366L654.6 371L655.0 404L655.3 425L655.7 394L656.1 428L656.5 410L656.8 421L657.2 398L657.6 381L657.9 405L658.3 418L658.7 380L659.0 397L659.4 401L659.8 391L660.2 345L660.5 385L660.9 405L661.3 414L661.6 383L662.0 401L662.4 389L662.7 389L663.1 376L663.5 374L663.9 369L664.2 327L664.6 344L665.0 377L665.3 381L665.7 364L666.1 379L666.4 327L666.8 350L667.2 369L667.6 354L667.9 383L668.3 384L668.7 357L669.0 372L669.4 366L669.8 362L670.1 385L670.5 371L670.9 409L671.3 390L671.6 413L672.0 400L672.4 407L672.7 392L673.1 399L673.5 389L673.8 382L674.2 418L674.6 390L675.0 368L675.3 397L675.7 402L676.1 387L676.4 379L676.8 374L677.2 379L677.5 381L677.9 369L678.3 374L678.7 390L679.0 382L679.4 373L679.8 388L680.1 396L680.5 397L680.9 399L681.2 384L681.6 394L682.0 398L682.4 397L682.7 370L683.1 383L683.5 391L683.8 406L684.2 396L684.6 401L684.9 369L685.3 368L685.7 345L686.1 379L686.4 386L686.8 410L687.2 365L687.5 385L687.9 366L688.3 372L688.6 351L689.0 401L689.4 384L689.8 387L690.1 421L690.5 412L690.9 422L691.2 438L691.6 421L692.0 413L692.3 442L692.7 436L693.1 450L693.5 450L693.8 437L694.2 443L694.6 444L694.9 442L695.3 443L695.7 428L696.0 442L696.4 418L696.8 440L697.2 403L697.5 456L697.9 413L698.3 416L698.6 435L699.0 413L699.4 397L699.7 395L700.1 427L700.5 435L700.9 445L701.2 438L701.6 428L702.0 445L702.3 466L702.7 431L703.1 483L703.4 435L703.8 456L704.2 465L704.6 447L704.9 432L705.3 434L705.7 440L706.0 368L706.4 410L706.8 395L707.1 384L707.5 394L707.9 392L708.3 395L708.6 373L709.0 396L709.4 342L709.7 351L710.1 347L710.5 369L710.8 360L711.2 377L711.6 355L712.0 390L712.3 383L712.7 359L713.1 336L713.4 344L713.8 339L714.2 388L714.5 385L714.9 351L715.3 403L715.7 371L716.0 318L716.4 389L716.8 398L717.1 355L717.5 360L717.9 389L718.2 372L718.6 378L719.0 389L719.4 388L719.7 376L720.1 367L720.5 397L720.8 353L721.2 392L721.6 396L721.9 402L722.3 389L722.7 398L723.1 408L723.4 354L723.8 397L724.2 405L724.5 381L724.9 380L725.3 420L725.6 413L726.0 382L726.4 399L726.8 394L727.1 406L727.5 401L727.9 343L728.2 369L728.6 396L729.0 401L729.3 366L729.7 351L730.1 372L730.5 365L730.8 376L731.2 365L731.6 394L731.9 398L732.3 400L732.7 383L733.0 378L733.4 388L733.8 418L734.2 393L734.5 430L734.9 450L735.3 424L735.6 430L736.0 448L736.4 452L736.7 434L737.1 435L737.5 437L737.9 430L738.2 437L738.6 433L739.0 441L739.3 405L739.7 432L740.1 427L740.4 392L740.8 412L741.2 415L741.6 404L741.9 381L742.3 394L742.7 376L743.0 373L743.4 376L743.8 377L744.1 387L744.5 393L744.9 387L745.3 400L745.6 383L746.0 375L746.4 373L746.7 370L747.1 376L747.5 394L747.8 362L748.2 380L748.6 374L749.0 381L749.3 366L749.7 376L750.1 362L750.4 372L750.8 324L751.2 366L751.5 370L751.9 343L752.3 367L752.7 346L753.0 367L753.4 360L753.8 368L754.1 367L754.5 350L754.9 381L755.2 381L755.6 358L756.0 376L756.4 344L756.7 367L757.1 365L757.5 392L757.8 378L758.2 391L758.6 388L758.9 383L759.3 355L759.7 392L760.1 376L760.4 378L760.8 414L761.2 384L761.5 393L761.9 380L762.3 388L762.6 391L763.0 358L763.4 374L763.8 389L764.1 391L764.5 383L764.9 366L765.2 377L765.6 367L766.0 361L766.3 367L766.7 393L767.1 357L767.5 374L767.8 364L768.2 344L768.6 350L768.9 360L769.3 359L769.7 368L770.0 357L770.4 357L770.8 381L771.2 374L771.5 366L771.9 376L772.3 397L772.6 377L773.0 365L773.4 387L773.7 399L774.1 392L774.5 363L774.9 349L775.2 385L775.6 373L776.0 378L776.3 371L776.7 390L777.1 379L777.4 377L777.8 380L778.2 351L778.6 391L778.9 393L779.3 376L779.7 387L780.0 390L780.4 391L780.8 413L781.1 426L781.5 422L781.9 406L782.3 404L782.6 409L783.0 419L783.4 420L783.7 408L784.1 399L784.5 438L784.8 414L785.2 414L785.6 405L786.0 431L786.3 417L786.7 399L787.1 405L787.4 423L787.8 415L788.2 409L788.5 432L788.9 423L789.3 425L789.7 424L790.0 436L790.4 421L790.8 428L791.1 441L791.5 431L791.9 430L792.2 420L792.6 437L793.0 431L793.4 435L793.7 423L794.1 441L794.5 418L794.8 409L795.2 430L795.6 409L795.9 410L796.3 416L796.7 421L797.1 408L797.4 403L797.8 400L798.2 407L798.5 393L798.9 399L799.3 412L799.6 369L800.0 382L800.4 371L800.8 359L801.1 360L801.5 358L801.9 363L802.2 377L802.6 381L803.0 369L803.3 366L803.7 357L804.1 403L804.5 407L804.8 380L805.2 385L805.6 383L805.9 393L806.3 374L806.7 358L807.0 392L807.4 364L807.8 383L808.2 364L808.5 363L808.9 385L809.3 403L809.6 372L810.0 367L810.4 377L810.7 363L811.1 340L811.5 367L811.9 329L812.2 373L812.6 362L813.0 349L813.3 347L813.7 358L814.1 384L814.4 401L814.8 396L815.2 389L815.6 361L815.9 391L816.3 387L816.7 380L817.0 410L817.4 377L817.8 421L818.1 382L818.5 376L818.9 381L819.3 362L819.6 374L820.0 385L820.4 351L820.7 355L821.1 350L821.5 366L821.8 397L822.2 368L822.6 374L823.0 385L823.3 363L823.7 354L824.1 377L824.4 374L824.8 338L825.2 355L825.5 383L825.9 397L826.3 363L826.7 363L827.0 349L827.4 331L827.8 313L828.1 378L828.5 329L828.9 337L829.2 371L829.6 322L830.0 331L830.4 321L830.7 328L831.1 338L831.5 333L831.8 362L832.2 356L832.6 325L832.9 324L833.3 340L833.7 346L834.1 348L834.4 385L834.8 360L835.2 363L835.5 384L835.9 347L836.3 396L836.6 408L837.0 418L837.4 388L837.8 397L838.1 414L838.5 407L838.9 390L839.2 427L839.6 403L840.0 431L840.3 406L840.7 445L841.1 424L841.5 417L841.8 447L842.2 458L842.6 411L842.9 452L843.3 468L843.7 442L844.0 406L844.4 422L844.8 455L845.2 413L845.5 460L845.9 425L846.3 421L846.6 443L847.0 425L847.4 436L847.7 415L848.1 417L848.5 380L848.9 408L849.2 411L849.6 407L850.0 390L850.3 410L850.7 371L851.1 412L851.4 401L851.8 385L852.2 354L852.6 381L852.9 408L853.3 386L853.7 389L854.0 378L854.4 371L854.8 362L855.1 337L855.5 376L855.9 375L856.3 374L856.6 390L857.0 358L857.4 407L857.7 341L858.1 341L858.5 318L858.8 372L859.2 402L859.6 356L860.0 383L860.3 387L860.7 390L861.1 393L861.4 406L861.8 404L862.2 404L862.5 417L862.9 407L863.3 398L863.7 384L864.0 423L864.4 392L864.8 447L865.1 413L865.5 400L865.9 445L866.2 416L866.6 401L867.0 451L867.4 407L867.7 458L868.1 420L868.5 440L868.8 436L869.2 395L869.6 411L869.9 416L870.3 423L870.7 429L871.1 447L871.4 412L871.8 407L872.2 446L872.5 420L872.9 414L873.3 368L873.6 361L874.0 374L874.4 380L874.8 392L875.1 431L875.5 360L875.9 367L876.2 386L876.6 375L877.0 386L877.3 367L877.7 351L878.1 406L878.5 379L878.8 344L879.2 356L879.6 363L879.9 336L880.3 378L880.7 371L881.0 356L881.4 351L881.8 404L882.2 377L882.5 363L882.9 339L883.3 359L883.6 391L884.0 423L884.4 376L884.7 357L885.1 400L885.5 406L885.9 427L886.2 400L886.6 416L887.0 381L887.3 392L887.7 409L888.1 409L888.4 434L888.8 447L889.2 393L889.6 447L889.9 402L890.3 401L890.7 408L891.0 359L891.4 367L891.8 377L892.1 375L892.5 412L892.9 411L893.3 367L893.6 396L894.0 375L894.4 412L894.7 374L895.1 403L895.5 364L895.8 396L896.2 322L896.6 383L897.0 351L897.3 378L897.7 368L898.1 363L898.4 385L898.8 396L899.2 382L899.5 382L899.9 389L900.3 397L900.7 393L901.0 379L901.4 408L901.8 360L902.1 380L902.5 342L902.9 405L903.2 359L903.6 372L904.0 399L904.4 373L904.7 360L905.1 337L905.5 373L905.8 424L906.2 390L906.6 426L906.9 414L907.3 390L907.7 369L908.1 392L908.4 412L908.8 399L909.2 406L909.5 416L909.9 399L910.3 375L910.6 395L911.0 416L911.4 390L911.8 383L912.1 382L912.5 396L912.9 398L913.2 398L913.6 372L914.0 393L914.3 381L914.7 360L915.1 352L915.5 364L915.8 374L916.2 376L916.6 394L916.9 387L917.3 389L917.7 361L918.0 378L918.4 402L918.8 401L919.2 379L919.5 385L919.9 380L920.3 364L920.6 383L921.0 363L921.4 358L921.7 405L922.1 411L922.5 419L922.9 396L923.2 404L923.6 417L924.0 401L924.3 368L924.7 451L925.1 440L925.4 440L925.8 417L926.2 398L926.6 412L926.9 416L927.3 381L927.7 394L928.0 403L928.4 432L928.8 414L929.1 390L929.5 336L929.9 428L930.3 393L930.6 400L931.0 383L931.4 351L931.7 416L932.1 393L932.5 402L932.8 362L933.2 374L933.6 387L934.0 372L934.3 361L934.7 352L935.1 303L935.4 390L935.8 377L936.2 341L936.5 404L936.9 405L937.3 401L937.7 320L938.0 371L938.4 394L938.8 347L939.1 344L939.5 351L939.9 313L940.2 333L940.6 367L941.0 360L941.4 373L941.7 343L942.1 335L942.5 328L942.8 318L943.2 313L943.6 321L943.9 338L944.3 334L944.7 349L945.1 354L945.4 369L945.8 352L946.2 325L946.5 348L946.9 406L947.3 392L947.6 371L948.0 375L948.4 379L948.8 353L949.1 387L949.5 399L949.9 413L950.2 385L950.6 384L951.0 384L951.3 391L951.7 413L952.1 380L952.5 437L952.8 404L953.2 416L953.6 374L953.9 378L954.3 374L954.7 382L955.0 340L955.4 385L955.8 345L956.2 380L956.5 394L956.9 373L957.3 367L957.6 369L958.0 370L958.4 382L958.7 390L959.1 391L959.5 415L959.9 392L960.2 380L960.6 383L961.0 371L961.3 390L961.7 390L962.1 440L962.4 423L962.8 425L963.2 380L963.6 419L963.9 440L964.3 431L964.7 414L965.0 417L965.4 426L965.8 413L966.1 429L966.5 441L966.9 426L967.3 423L967.6 405L968.0 420L968.4 393L968.7 411L969.1 390L969.5 407L969.8 375L970.2 378L970.6 374L971.0 355L971.3 391L971.7 379L972.1 369L972.4 389L972.8 358L973.2 360L973.5 386L973.9 418L974.3 339L974.7 405L975.0 383L975.4 365L975.8 394L976.1 416L976.5 399L976.9 410L977.2 384L977.6 359L978.0 393L978.4 390L978.7 410L979.1 415L979.5 434L979.8 453L980.2 406L980.6 434L980.9 440L981.3 472L981.7 447L982.1 424L982.4 424L982.8 468L983.2 416L983.5 427L983.9 430L984.3 398L984.6 397L985.0 369L985.4 379L985.8 410L986.1 399L986.5 353L986.9 417L987.2 369L987.6 373L988.0 426L988.3 403L988.7 399L989.1 432L989.5 387L989.8 413L990.2 393L990.6 396L990.9 393L991.3 413L991.7 377L992.0 378L992.4 334L992.8 335L993.2 380L993.5 355L993.9 360L994.3 379L994.6 363L995.0 371L995.4 365L995.7 330L996.1 380L996.5 404L996.9 358L997.2 377L997.6 378L998.0 379L998.3 400L998.7 395L999.1 363L999.4 362L999.8 360L1000.2 351L1000.6 348L1000.9 356L1001.3 311L1001.7 360L1002.0 336L1002.4 332L1002.8 352L1003.1 343L1003.5 383L1003.9 342L1004.3 362L1004.6 371L1005.0 349L1005.4 340L1005.7 373L1006.1 362L1006.5 349L1006.8 337L1007.2 376L1007.6 397L1008.0 358L1008.3 366L1008.7 386L1009.1 384L1009.4 351L1009.8 366L1010.2 372L1010.5 408L1010.9 365L1011.3 376L1011.7 372L1012.0 367L1012.4 333L1012.8 354L1013.1 379L1013.5 345L1013.9 353L1014.2 334L1014.6 353L1015.0 356L1015.4 363L1015.7 344L1016.1 344L1016.5 344L1016.8 363L1017.2 366L1017.6 409L1017.9 360L1018.3 382L1018.7 363L1019.1 365L1019.4 397L1019.8 390L1020.2 393L1020.5 355L1020.9 423L1021.3 416L1021.6 362L1022.0 343L1022.4 350L1022.8 366L1023.1 344L1023.5 361L1023.9 345L1024.2 398L1024.6 351L1025.0 343L1025.3 384L1025.7 362L1026.1 355L1026.5 349L1026.8 366L1027.2 352L1027.6 362L1027.9 354L1028.3 340L1028.7 359L1029.0 371L1029.4 390L1029.8 380L1030.2 370L1030.5 379L1030.9 390L1031.3 342L1031.6 371L1032.0 344L1032.4 350L1032.7 369L1033.1 382L1033.5 355L1033.9 371L1034.2 394L1034.6 392L1035.0 383L1035.3 375L1035.7 413L1036.1 404L1036.4 368L1036.8 362L1037.2 384L1037.6 389L1037.9 364L1038.3 386L1038.7 344L1039.0 358L1039.4 355L1039.8 355L1040.1 366L1040.5 364L1040.9 360L1041.3 332L1041.6 357L1042.0 369L1042.4 371L1042.7 380L1043.1 383L1043.5 360L1043.8 359L1044.2 373L1044.6 379L1045.0 363L1045.3 356L1045.7 353L1046.1 379L1046.4 358L1046.8 365L1047.2 359L1047.5 358L1047.9 392L1048.3 342L1048.7 374L1049.0 345L1049.4 341L1049.8 380L1050.1 345L1050.5 349L1050.9 347L1051.2 358L1051.6 375L1052.0 393L1052.4 364L1052.7 389L1053.1 353L1053.5 407L1053.8 365L1054.2 346L1054.6 369L1054.9 365L1055.3 358L1055.7 327L1056.1 370L1056.4 342L1056.8 348L1057.2 330L1057.5 355L1057.9 375L1058.3 312L1058.6 333L1059.0 352L1059.4 345L1059.8 354L1060.1 362L1060.5 381L1060.9 385L1061.2 391L1061.6 393L1062.0 368L1062.3 339L1062.7 383L1063.1 392L1063.5 394L1063.8 378L1064.2 422L1064.6 365L1064.9 393L1065.3 403L1065.7 407L1066.0 416L1066.4 402L1066.8 398L1067.2 388L1067.5 403L1067.9 402L1068.3 409L1068.6 386L1069.0 381L1069.4 387L1069.7 416L1070.1 388L1070.5 394L1070.9 405L1071.2 416L1071.6 416L1072.0 422L1072.3 404L1072.7 407L1073.1 415L1073.4 393L1073.8 420L1074.2 365L1074.6 376L1074.9 350L1075.3 369L1075.7 346L1076.0 355L1076.4 365L1076.8 343L1077.1 357L1077.5 325L1077.9 344L1078.3 373L1078.6 361L1079.0 367L1079.4 349L1079.7 343L1080.1 352L1080.5 384L1080.8 384L1081.2 374L1081.6 389L1082.0 366L1082.3 373L1082.7 376L1083.1 352L1083.4 376L1083.8 362L1084.2 365L1084.5 335L1084.9 333L1085.3 342L1085.7 354L1086.0 362L1086.4 350L1086.8 341L1087.1 350L1087.5 341L1087.9 313L1088.2 351L1088.6 340L1089.0 352L1089.4 333L1089.7 341L1090.1 361L1090.5 351L1090.8 364L1091.2 365L1091.6 363L1091.9 385L1092.3 378L1092.7 366L1093.1 349L1093.4 379L1093.8 359L1094.2 396L1094.5 387L1094.9 369L1095.3 363L1095.6 378L1096.0 395L1096.4 423L1096.8 403L1097.1 409L1097.5 429L1097.9 433L1098.2 393L1098.6 413L1099.0 392L1099.3 395L1099.7 381L1100.1 404L1100.5 387L1100.8 386L1101.2 416L1101.6 405L1101.9 376L1102.3 376L1102.7 399L1103.0 373L1103.4 388L1103.8 409L1104.2 414L1104.5 408L1104.9 416L1105.3 411L1105.6 400L1106.0 408L1106.4 423L1106.7 401L1107.1 399L1107.5 396L1107.9 370L1108.2 368L1108.6 357L1109.0 360L1109.3 367L1109.7 352L1110.1 348L1110.4 372L1110.8 379L1111.2 376L1111.6 373L1111.9 380L1112.3 378L1112.7 385L1113.0 356L1113.4 375L1113.8 368L1114.1 396L1114.5 417L1114.9 372L1115.3 383L1115.6 390L1116.0 413L1116.4 395L1116.7 393L1117.1 390L1117.5 400L1117.8 429L1118.2 387L1118.6 393L1119.0 381L1119.3 384L1119.7 385L1120.1 380L1120.4 362L1120.8 358L1121.2 376L1121.5 369L1121.9 366L1122.3 356L1122.7 353L1123.0 371L1123.4 351L1123.8 348L1124.1 350L1124.5 360L1124.9 391L1125.2 369L1125.6 372L1126.0 388L1126.4 372L1126.7 363L1127.1 373L1127.5 379L1127.8 370L1128.2 386L1128.6 379L1128.9 416L1129.3 410L1129.7 396L1130.1 401L1130.4 400L1130.8 392L1131.2 409L1131.5 392L1131.9 411L1132.3 430L1132.6 413L1133.0 419L1133.4 407L1133.8 382L1134.1 416L1134.5 413L1134.9 418L1135.2 414L1135.6 417L1136.0 405L1136.3 413L1136.7 417L1137.1 402L1137.5 400L1137.8 412L1138.2 385L1138.6 397L1138.9 381L1139.3 390L1139.7 406L1140.0 386L1140.4 385L1140.8 376L1141.2 380L1141.5 379L1141.9 340L1142.3 361L1142.6 337L1143.0 379L1143.4 371L1143.7 358L1144.1 362L1144.5 367L1144.9 372L1145.2 363L1145.6 356L1146.0 364L1146.3 336L1146.7 350L1147.1 372L1147.4 365L1147.8 362L1148.2 358L1148.6 354L1148.9 368L1149.3 369L1149.7 386L1150.0 365L1150.4 361L1150.8 368L1151.1 362L1151.5 380L1151.9 386L1152.3 374L1152.6 357L1153.0 372L1153.4 374L1153.7 364L1154.1 353L1154.5 361L1154.8 356L1155.2 377L1155.6 362L1156.0 362L1156.3 376L1156.7 356L1157.1 361L1157.4 360L1157.8 376L1158.2 376L1158.5 367L1158.9 353L1159.3 375L1159.7 361L1160.0 367L1160.4 346L1160.8 360L1161.1 368L1161.5 360L1161.9 369L1162.2 376L1162.6 379L1163.0 358L1163.4 346L1163.7 336L1164.1 355L1164.5 344L1164.8 363L1165.2 340L1165.6 368L1165.9 360L1166.3 344L1166.7 360L1167.1 364L1167.4 361L1167.8 344L1168.2 365L1168.5 364L1168.9 356L1169.3 327L1169.6 347L1170.0 366L1170.4 348L1170.8 358L1171.1 349L1171.5 370L1171.9 365L1172.2 354L1172.6 366L1173.0 363L1173.3 372L1173.7 368L1174.1 367L1174.5 367L1174.8 354L1175.2 374L1175.6 380L1175.9 366L1176.3 381L1176.7 392L1177.0 392L1177.4 399L1177.8 397L1178.2 387L1178.5 414L1178.9 399L1179.3 394L1179.6 416L1180.0 393L1180.4 416L1180.7 403L1181.1 422L1181.5 427L1181.9 411L1182.2 421L1182.6 425L1183.0 416L1183.3 415L1183.7 409L1184.1 401L1184.4 394L1184.8 403L1185.2 404L1185.6 396L1185.9 398L1186.3 396L1186.7 383L1187.0 398L1187.4 371L1187.8 368L1188.1 350L1188.5 363L1188.9 387L1189.3 375L1189.6 356L1190.0 371L1190.4 365L1190.7 390L1191.1 366L1191.5 375L1191.8 371L1192.2 369L1192.6 381L1193.0 384L1193.3 367L1193.7 367L1194.1 359L1194.4 370L1194.8 359L1195.2 379L1195.5 345L1195.9 365L1196.3 347L1196.7 348L1197.0 343L1197.4 346L1197.8 340L1198.1 358L1198.5 354L1198.9 354L1199.2 358L1199.6 365L1200.0 367L1200.4 376L1200.7 375L1201.1 376L1201.5 388L1201.8 370L1202.2 367L1202.6 372L1202.9 373L1203.3 388L1203.7 387L1204.1 392L1204.4 385L1204.8 403L1205.2 427L1205.5 413L1205.9 414L1206.3 408L1206.6 423L1207.0 409L1207.4 442L1207.8 420L1208.1 418L1208.5 429L1208.9 393L1209.2 398L1209.6 400L1210.0 403L1210.3 423L1210.7 392L1211.1 414L1211.5 406L1211.8 408L1212.2 395L1212.6 377L1212.9 380L1213.3 408L1213.7 369L1214.0 402L1214.4 404L1214.8 419L1215.2 420L1215.5 395L1215.9 406L1216.3 415L1216.6 389L1217.0 385L1217.4 387L1217.7 369L1218.1 382L1218.5 409L1218.9 398L1219.2 409L1219.6 397L1220.0 396L1220.3 393L1220.7 408L1221.1 407L1221.4 395L1221.8 378L1222.2 388L1222.6 390L1222.9 386L1223.3 411L1223.7 391L1224.0 388L1224.4 415L1224.8 406L1225.1 386L1225.5 394L1225.9 402L1226.3 399L1226.6 412L1227.0 402L1227.4 402L1227.7 427L1228.1 441L1228.5 440L1228.8 422L1229.2 431L1229.6 425L1230.0 448L1230.3 435L1230.7 425L1231.1 452L1231.4 446L1231.8 431L1232.2 415L1232.5 421L1232.9 407L1233.3 443L1233.7 421L1234.0 428L1234.4 421L1234.8 407L1235.1 416L1235.5 416L1235.9 408L1236.2 406L1236.6 408L1237.0 390L1237.4 382L1237.7 391L1238.1 384L1238.5 392L1238.8 362L1239.2 368L1239.6 376L1239.9 398L1240.3 387L1240.7 370L1241.1 391L1241.4 375L1241.8 365L1242.2 370L1242.5 390L1242.9 386L1243.3 368L1243.6 364L1244.0 384L1244.4 366L1244.8 374L1245.1 390L1245.5 373L1245.9 376L1246.2 385L1246.6 386L1247.0 401L1247.3 388L1247.7 391L1248.1 390L1248.5 374L1248.8 387L1249.2 391L1249.6 373L1249.9 366L1250.3 367L1250.7 372L1251.0 368L1251.4 360L1251.8 339L1252.2 368L1252.5 356L1252.9 383L1253.3 368L1253.6 363L1254.0 391L1254.4 388L1254.7 391L1255.1 358L1255.5 388L1255.9 397L1256.2 397L1256.6 408L1257.0 413L1257.3 401L1257.7 416L1258.1 395L1258.4 371L1258.8 400L1259.2 395L1259.6 407L1259.9 392L1260.3 384L1260.7 383L1261.0 392L1261.4 367L1261.8 367L1262.1 380L1262.5 390L1262.9 393L1263.3 384L1263.6 369L1264.0 361L1264.4 384L1264.7 384L1265.1 393L1265.5 403L1265.8 383L1266.2 407L1266.6 391L1267.0 378L1267.3 398L1267.7 377L1268.1 422L1268.4 398" fill="none" stroke="#d9e8c3" stroke-width="3.4" stroke-linejoin="round" stroke-linecap="round"/><path d="M158.8 347.9L160.3 363.7L161.8 376.4L163.3 383.9L164.8 386.4L166.3 392.0L167.8 386.3L169.3 380.3L170.8 378.3L172.3 381.2L173.8 385.0L175.3 386.5L176.8 388.8L178.3 389.1L179.8 381.3L181.3 373.9L182.8 371.9L184.3 373.6L185.8 385.5L187.3 399.9L188.8 413.0L190.3 419.7L191.8 421.5L193.3 418.7L194.8 412.1L196.3 405.3L197.8 399.8L199.3 400.8L200.8 408.6L202.3 419.2L203.8 429.2L205.3 440.0L206.8 439.6L208.3 431.5L209.8 423.0L211.3 404.1L212.8 377.7L214.3 353.0L215.8 342.1L217.3 349.9L218.8 361.3L220.3 370.4L221.8 373.7L223.3 376.1L224.8 381.2L226.3 395.9L227.8 412.0L229.3 427.5L230.8 429.9L232.3 416.3L233.8 402.4L235.3 389.5L236.8 384.5L238.3 393.6L239.8 403.6L241.3 403.5L242.8 386.9L244.3 369.4L245.8 356.6L247.3 360.4L248.8 366.7L250.3 368.2L251.8 359.8L253.3 350.9L254.8 346.3L256.3 350.5L257.8 354.2L259.3 360.3L260.8 365.3L262.3 377.1L263.8 389.0L265.3 400.6L266.8 403.5L268.3 392.7L269.8 380.2L271.3 369.6L272.8 358.5L274.3 353.8L275.8 358.1L277.3 364.8L278.8 369.4L280.3 368.9L281.8 362.8L283.3 357.7L284.8 353.3L286.3 351.7L287.8 352.7L289.3 356.7L290.8 359.5L292.3 366.1L293.8 371.9L295.3 378.6L296.8 388.0L298.3 395.1L299.8 405.5L301.3 413.1L302.8 421.7L304.3 419.5L305.8 408.1L307.3 392.1L308.8 372.2L310.3 355.2L311.8 342.9L313.3 351.3L314.8 364.1L316.3 375.6L317.8 388.4L319.3 397.7L320.8 403.9L322.3 401.1L323.8 399.5L325.3 391.1L326.8 384.5L328.3 376.8L329.8 370.1L331.3 362.5L332.8 356.9L334.3 354.4L335.8 357.2L337.3 356.4L338.8 346.6L340.3 345.1L341.8 359.7L343.3 374.9L344.8 389.2L346.3 389.1L347.8 378.3L349.3 372.4L350.8 379.1L352.3 392.9L353.8 407.5L355.3 422.9L356.8 421.4L358.3 408.2L359.8 397.1L361.3 390.4L362.8 396.7L364.3 405.6L365.8 417.0L367.3 423.3L368.8 408.8L370.3 387.5L371.8 365.7L373.3 363.1L374.8 363.5L376.3 364.0L377.8 368.6L379.3 381.9L380.8 394.7L382.3 408.8L383.8 415.7L385.3 407.7L386.8 398.9L388.3 385.6L389.8 375.3L391.3 374.1L392.8 378.2L394.3 384.8L395.8 389.8L397.3 395.4L398.8 394.7L400.3 386.5L401.8 379.1L403.3 375.0L404.8 369.4L406.3 363.5L407.8 360.1L409.3 364.1L410.8 371.3L412.3 378.3L413.8 383.2L415.3 389.2L416.8 388.7L418.3 380.7L419.8 372.9L421.3 375.2L422.8 384.2L424.3 395.7L425.8 404.5L427.3 414.3L428.8 419.6L430.3 427.7L431.8 427.7L433.3 422.1L434.8 408.1L436.3 394.6L437.8 387.1L439.3 388.4L440.8 393.9L442.3 399.6L443.8 400.5L445.3 401.3L446.8 398.4L448.3 394.6L449.8 395.2L451.3 394.0L452.8 392.0L454.3 391.4L455.8 389.1L457.3 381.4L458.8 372.3L460.3 364.4L461.8 358.3L463.3 370.6L464.8 381.7L466.3 380.4L467.8 377.9L469.3 376.7L470.8 387.5L472.3 402.5L473.8 419.5L475.3 431.3L476.8 441.3L478.3 442.9L479.8 429.3L481.3 413.4L482.8 395.3L484.3 377.5L485.8 359.4L487.3 345.0L488.8 351.9L490.3 365.4L491.8 378.2L493.3 388.6L494.8 384.9L496.3 380.3L497.8 388.1L499.3 396.3L500.8 403.0L502.3 410.6L503.8 398.2L505.3 385.9L506.8 376.9L508.3 372.8L509.8 369.0L511.3 368.2L512.8 365.9L514.3 366.5L515.8 363.1L517.3 364.8L518.8 367.5L520.3 374.7L521.8 381.4L523.3 387.2L524.8 384.6L526.3 375.1L527.8 361.8L529.3 350.3L530.8 343.2L532.3 342.1L533.8 351.8L535.3 361.5L536.8 365.7L538.3 357.6L539.8 351.7L541.3 352.9L542.8 357.5L544.3 362.8L545.8 367.3L547.3 373.6L548.8 393.4L550.3 415.3L551.8 434.5L553.3 450.4L554.8 452.9L556.3 437.5L557.8 414.2L559.3 391.6L560.8 372.7L562.3 371.9L563.8 377.2L565.3 387.9L566.8 396.7L568.3 393.2L569.8 386.4L571.3 380.6L572.8 373.7L574.3 369.2L575.8 367.6L577.3 378.9L578.8 385.9L580.3 395.1L581.8 396.5L583.3 385.6L584.8 375.6L586.3 363.3L587.8 356.5L589.3 360.3L590.8 370.6L592.3 379.8L593.8 378.2L595.3 372.1L596.8 376.0L598.3 398.1L599.8 415.5L601.3 422.6L602.8 408.9L604.3 394.4L605.8 385.1L607.3 393.0L608.8 397.6L610.3 390.4L611.8 378.3L613.3 366.3L614.8 356.5L616.3 350.3L617.8 345.7L619.3 341.6L620.8 337.5L622.3 336.5L623.8 344.9L625.3 354.8L626.8 365.0L628.3 375.1L629.8 376.6L631.3 372.3L632.8 376.3L634.3 383.5L635.8 381.3L637.3 378.3L638.8 373.8L640.3 381.0L641.8 399.1L643.3 412.4L644.8 409.8L646.3 398.0L647.8 384.6L649.3 372.3L650.8 361.8L652.3 368.2L653.8 379.5L655.3 391.4L656.8 401.8L658.3 399.4L659.8 395.4L661.3 392.6L662.8 384.6L664.3 376.4L665.8 370.7L667.3 375.9L668.8 385.0L670.3 392.0L671.8 400.1L673.3 403.6L674.8 394.5L676.3 383.0L677.8 377.6L679.3 382.9L680.8 386.5L682.3 391.6L683.8 396.1L685.3 393.5L686.8 377.2L688.3 373.3L689.8 392.0L691.3 413.4L692.8 437.4L694.3 453.0L695.8 442.4L697.3 425.9L698.8 412.2L700.3 425.5L701.8 439.8L703.3 438.8L704.8 424.8L706.3 404.9L707.8 389.5L709.3 376.4L710.8 371.4L712.3 370.8L713.8 370.1L715.3 371.6L716.8 375.7L718.3 380.2L719.8 384.3L721.3 391.3L722.8 397.5L724.3 401.0L725.8 396.8L727.3 385.5L728.8 372.4L730.3 372.4L731.8 387.9L733.3 407.3L734.8 427.3L736.3 440.0L737.8 435.6L739.3 421.9L740.8 407.9L742.3 390.6L743.8 386.7L745.3 385.4L746.8 381.9L748.3 375.5L749.8 368.5L751.3 361.8L752.8 356.8L754.3 361.9L755.8 369.6L757.3 377.1L758.8 382.2L760.3 388.4L761.8 388.6L763.3 384.7L764.8 376.6L766.3 367.0L767.8 359.4L769.3 365.9L770.8 373.4L772.3 381.8L773.8 379.6L775.3 375.2L776.8 375.1L778.3 389.7L779.8 402.7L781.3 419.3L782.8 424.1L784.3 418.9L785.8 415.6L787.3 422.4L788.8 430.3L790.3 435.2L791.8 438.7L793.3 433.8L794.8 428.4L796.3 420.7L797.8 408.9L799.3 395.9L800.8 382.0L802.3 376.0L803.8 376.8L805.3 380.7L806.8 384.3L808.3 381.3L809.8 377.9L811.3 372.8L812.8 370.6L814.3 378.7L815.8 385.5L817.3 389.4L818.8 389.8L820.3 382.8L821.8 376.2L823.3 385.2L824.8 391.4L826.3 373.2L827.8 354.9L829.3 340.3L830.8 337.6L832.3 348.1L833.8 361.9L835.3 378.7L836.8 398.2L838.3 413.1L839.8 426.2L841.3 433.1L842.8 434.4L844.3 433.5L845.8 425.6L847.3 414.8L848.8 402.5L850.3 394.4L851.8 388.1L853.3 381.9L854.8 377.3L856.3 376.3L857.8 379.2L859.3 380.9L860.8 387.2L862.3 397.7L863.8 409.0L865.3 419.0L866.8 430.5L868.3 436.6L869.8 427.4L871.3 412.3L872.8 399.0L874.3 385.6L875.8 378.2L877.3 371.3L878.8 363.6L880.3 366.5L881.8 372.7L883.3 386.2L884.8 400.7L886.3 413.2L887.8 425.1L889.3 419.7L890.8 406.5L892.3 391.2L893.8 383.5L895.3 385.1L896.8 388.4L898.3 385.0L899.8 376.8L901.3 367.0L902.8 364.1L904.3 375.1L905.8 388.2L907.3 396.0L908.8 402.8L910.3 403.9L911.8 405.8L913.3 400.9L914.8 391.8L916.3 384.4L917.8 382.5L919.3 388.4L920.8 394.8L922.3 399.5L923.8 405.7L925.3 412.3L926.8 412.2L928.3 401.8L929.8 390.8L931.3 378.6L932.8 373.8L934.3 375.1L935.8 376.5L937.3 377.6L938.8 367.2L940.3 353.2L941.8 338.9L943.3 335.6L944.8 351.3L946.3 368.0L947.8 377.3L949.3 383.3L950.8 388.6L952.3 391.5L953.8 387.9L955.3 378.6L956.8 372.6L958.3 376.1L959.8 385.9L961.3 397.1L962.8 408.4L964.3 419.7L965.8 419.6L967.3 413.9L968.8 403.2L970.3 380.8L971.8 365.1L973.3 358.4L974.8 374.6L976.3 391.9L977.8 409.6L979.3 427.5L980.8 443.7L982.3 440.2L983.8 422.3L985.3 401.2L986.8 389.1L988.3 397.3L989.8 403.0L991.3 388.8L992.8 373.1L994.3 369.6L995.8 373.7L997.3 374.2L998.8 369.7L1000.3 363.8L1001.8 358.0L1003.3 360.8L1004.8 366.8L1006.3 372.6L1007.8 366.9L1009.3 363.6L1010.8 357.6L1012.3 356.3L1013.8 350.3L1015.3 347.9L1016.8 357.7L1018.3 369.3L1019.8 381.2L1021.3 375.6L1022.8 362.9L1024.3 352.9L1025.8 351.8L1027.3 360.1L1028.8 368.6L1030.3 375.0L1031.8 382.6L1033.3 385.9L1034.8 382.2L1036.3 373.6L1037.8 364.8L1039.3 360.8L1040.8 362.4L1042.3 364.3L1043.8 360.3L1045.3 358.8L1046.8 357.1L1048.3 361.4L1049.8 367.2L1051.3 372.1L1052.8 373.3L1054.3 366.5L1055.8 359.3L1057.3 353.4L1058.8 359.9L1060.3 369.2L1061.8 379.8L1063.3 387.4L1064.8 392.0L1066.3 392.0L1067.8 394.2L1069.3 404.5L1070.8 410.9L1072.3 403.6L1073.8 388.4L1075.3 372.7L1076.8 357.5L1078.3 355.3L1079.8 366.4L1081.3 373.8L1082.8 365.3L1084.3 355.8L1085.8 346.4L1087.3 342.9L1088.8 348.2L1090.3 356.8L1091.8 364.3L1093.3 374.2L1094.8 386.2L1096.3 396.4L1097.8 404.9L1099.3 400.9L1100.8 395.1L1102.3 396.4L1103.8 404.7L1105.3 410.4L1106.8 401.2L1108.3 382.5L1109.8 367.8L1111.3 368.9L1112.8 378.3L1114.3 391.5L1115.8 399.0L1117.3 398.4L1118.8 389.0L1120.3 377.0L1121.8 366.5L1123.3 358.6L1124.8 366.8L1126.3 376.2L1127.8 388.4L1129.3 401.7L1130.8 413.1L1132.3 418.4L1133.8 415.9L1135.3 411.8L1136.8 406.5L1138.3 400.5L1139.8 389.9L1141.3 383.2L1142.8 372.5L1144.3 363.4L1145.8 360.3L1147.3 364.2L1148.8 370.1L1150.3 373.4L1151.8 372.3L1153.3 371.5L1154.8 370.0L1156.3 368.2L1157.8 365.0L1159.3 365.2L1160.8 366.7L1162.3 366.0L1163.8 362.0L1165.3 362.3L1166.8 363.7L1168.3 361.4L1169.8 361.0L1171.3 364.2L1172.8 367.3L1174.3 371.6L1175.8 375.5L1177.3 385.2L1178.8 395.4L1180.3 406.4L1181.8 414.2L1183.3 413.5L1184.8 401.1L1186.3 385.9L1187.8 370.1L1189.3 367.4L1190.8 372.1L1192.3 376.5L1193.8 367.0L1195.3 357.4L1196.8 359.5L1198.3 365.3L1199.8 371.7L1201.3 378.3L1202.8 386.5L1204.3 395.1L1205.8 403.5L1207.3 410.6L1208.8 411.8L1210.3 402.3L1211.8 390.3L1213.3 397.4L1214.8 403.6L1216.3 406.7L1217.8 401.4L1219.3 400.2L1220.8 398.6L1222.3 398.9L1223.8 404.3L1225.3 410.1L1226.8 416.9L1228.3 422.7L1229.8 426.6L1231.3 427.3L1232.8 424.2L1234.3 416.8L1235.8 409.2L1237.3 399.6L1238.8 392.8L1240.3 381.8L1241.8 373.5L1243.3 374.7L1244.8 380.3L1246.3 388.2L1247.8 385.8L1249.3 375.3L1250.8 367.7L1252.3 369.4L1253.8 379.8L1255.3 390.7L1256.8 400.4L1258.3 398.2L1259.8 388.6L1261.3 386.8L1262.8 387.7L1264.3 389.6L1265.8 392.9L1267.3 396.7L1268.8 401.7" fill="none" stroke="#4e714a" stroke-width="4.2" stroke-linejoin="round" stroke-linecap="round" />
<line x1="128.50" y1="9.30" x2="1281.30" y2="9.30" stroke="#262626" stroke-width="1.3"/>
<line x1="128.50" y1="253.30" x2="1281.30" y2="253.30" stroke="#262626" stroke-width="1.3"/>
<line x1="128.50" y1="8.70" x2="128.50" y2="253.90" stroke="#7a70c0" stroke-width="1.3"/>
<line x1="1281.30" y1="8.70" x2="1281.30" y2="253.90" stroke="#7a70c0" stroke-width="1.3"/>
<line x1="155.40" y1="3.10" x2="155.40" y2="9.30" stroke="#262626" stroke-width="1.3"/>
<line x1="155.40" y1="253.30" x2="155.40" y2="259.60" stroke="#262626" stroke-width="1.3"/>
<line x1="275.74" y1="3.10" x2="275.74" y2="9.30" stroke="#262626" stroke-width="1.3"/>
<line x1="275.74" y1="253.30" x2="275.74" y2="259.60" stroke="#262626" stroke-width="1.3"/>
<line x1="396.08" y1="3.10" x2="396.08" y2="9.30" stroke="#262626" stroke-width="1.3"/>
<line x1="396.08" y1="253.30" x2="396.08" y2="259.60" stroke="#262626" stroke-width="1.3"/>
<line x1="516.42" y1="3.10" x2="516.42" y2="9.30" stroke="#262626" stroke-width="1.3"/>
<line x1="516.42" y1="253.30" x2="516.42" y2="259.60" stroke="#262626" stroke-width="1.3"/>
<line x1="636.76" y1="3.10" x2="636.76" y2="9.30" stroke="#262626" stroke-width="1.3"/>
<line x1="636.76" y1="253.30" x2="636.76" y2="259.60" stroke="#262626" stroke-width="1.3"/>
<line x1="757.10" y1="3.10" x2="757.10" y2="9.30" stroke="#262626" stroke-width="1.3"/>
<line x1="757.10" y1="253.30" x2="757.10" y2="259.60" stroke="#262626" stroke-width="1.3"/>
<line x1="877.44" y1="3.10" x2="877.44" y2="9.30" stroke="#262626" stroke-width="1.3"/>
<line x1="877.44" y1="253.30" x2="877.44" y2="259.60" stroke="#262626" stroke-width="1.3"/>
<line x1="997.78" y1="3.10" x2="997.78" y2="9.30" stroke="#262626" stroke-width="1.3"/>
<line x1="997.78" y1="253.30" x2="997.78" y2="259.60" stroke="#262626" stroke-width="1.3"/>
<line x1="1118.12" y1="3.10" x2="1118.12" y2="9.30" stroke="#262626" stroke-width="1.3"/>
<line x1="1118.12" y1="253.30" x2="1118.12" y2="259.60" stroke="#262626" stroke-width="1.3"/>
<line x1="1238.46" y1="3.10" x2="1238.46" y2="9.30" stroke="#262626" stroke-width="1.3"/>
<line x1="1238.46" y1="253.30" x2="1238.46" y2="259.60" stroke="#262626" stroke-width="1.3"/>
<line x1="122.20" y1="9.30" x2="128.50" y2="9.30" stroke="#7a70c0" stroke-width="1.3"/>
<text x="112.50" y="19.30" font-family="Liberation Serif" font-weight="normal" font-size="29" fill="#4dc1c8" text-anchor="end" >0.7</text>
<line x1="122.20" y1="90.63" x2="128.50" y2="90.63" stroke="#4dc1c8" stroke-width="1.3"/>
<text x="112.50" y="100.63" font-family="Liberation Serif" font-weight="normal" font-size="29" fill="#4dc1c8" text-anchor="end" >0.6</text>
<line x1="122.20" y1="171.97" x2="128.50" y2="171.97" stroke="#4dc1c8" stroke-width="1.3"/>
<text x="112.50" y="181.97" font-family="Liberation Serif" font-weight="normal" font-size="29" fill="#4dc1c8" text-anchor="end" >0.5</text>
<line x1="122.20" y1="253.30" x2="128.50" y2="253.30" stroke="#4dc1c8" stroke-width="1.3"/>
<text x="112.50" y="263.30" font-family="Liberation Serif" font-weight="normal" font-size="29" fill="#4dc1c8" text-anchor="end" >0.4</text>
<line x1="1281.30" y1="9.30" x2="1288.30" y2="9.30" stroke="#7a70c0" stroke-width="1.3"/>
<text x="1297.50" y="19.30" font-family="Liberation Serif" font-weight="normal" font-size="29" fill="#5f57a6" text-anchor="start" >150</text>
<line x1="1281.30" y1="90.63" x2="1288.30" y2="90.63" stroke="#7a70c0" stroke-width="1.3"/>
<text x="1297.50" y="100.63" font-family="Liberation Serif" font-weight="normal" font-size="29" fill="#5f57a6" text-anchor="start" >75</text>
<line x1="1281.30" y1="171.97" x2="1288.30" y2="171.97" stroke="#7a70c0" stroke-width="1.3"/>
<text x="1297.50" y="181.97" font-family="Liberation Serif" font-weight="normal" font-size="29" fill="#5f57a6" text-anchor="start" >0</text>
<line x1="1281.30" y1="253.30" x2="1288.30" y2="253.30" stroke="#4dc1c8" stroke-width="1.3"/>
<line x1="128.50" y1="278.50" x2="1281.30" y2="278.50" stroke="#404040" stroke-width="1.3"/>
<line x1="128.50" y1="523.00" x2="1281.30" y2="523.00" stroke="#595959" stroke-width="1.3"/>
<line x1="128.50" y1="277.90" x2="128.50" y2="523.60" stroke="#4e714a" stroke-width="1.3"/>
<line x1="1281.30" y1="277.90" x2="1281.30" y2="523.60" stroke="#4e714a" stroke-width="1.3"/>
<line x1="155.40" y1="272.30" x2="155.40" y2="278.50" stroke="#262626" stroke-width="1.3"/>
<line x1="155.40" y1="523.00" x2="155.40" y2="529.30" stroke="#262626" stroke-width="1.3"/>
<line x1="275.74" y1="272.30" x2="275.74" y2="278.50" stroke="#262626" stroke-width="1.3"/>
<line x1="275.74" y1="523.00" x2="275.74" y2="529.30" stroke="#262626" stroke-width="1.3"/>
<line x1="396.08" y1="272.30" x2="396.08" y2="278.50" stroke="#262626" stroke-width="1.3"/>
<line x1="396.08" y1="523.00" x2="396.08" y2="529.30" stroke="#262626" stroke-width="1.3"/>
<line x1="516.42" y1="272.30" x2="516.42" y2="278.50" stroke="#262626" stroke-width="1.3"/>
<line x1="516.42" y1="523.00" x2="516.42" y2="529.30" stroke="#262626" stroke-width="1.3"/>
<line x1="636.76" y1="272.30" x2="636.76" y2="278.50" stroke="#262626" stroke-width="1.3"/>
<line x1="636.76" y1="523.00" x2="636.76" y2="529.30" stroke="#262626" stroke-width="1.3"/>
<line x1="757.10" y1="272.30" x2="757.10" y2="278.50" stroke="#262626" stroke-width="1.3"/>
<line x1="757.10" y1="523.00" x2="757.10" y2="529.30" stroke="#262626" stroke-width="1.3"/>
<line x1="877.44" y1="272.30" x2="877.44" y2="278.50" stroke="#262626" stroke-width="1.3"/>
<line x1="877.44" y1="523.00" x2="877.44" y2="529.30" stroke="#262626" stroke-width="1.3"/>
<line x1="997.78" y1="272.30" x2="997.78" y2="278.50" stroke="#262626" stroke-width="1.3"/>
<line x1="997.78" y1="523.00" x2="997.78" y2="529.30" stroke="#262626" stroke-width="1.3"/>
<line x1="1118.12" y1="272.30" x2="1118.12" y2="278.50" stroke="#262626" stroke-width="1.3"/>
<line x1="1118.12" y1="523.00" x2="1118.12" y2="529.30" stroke="#262626" stroke-width="1.3"/>
<line x1="1238.46" y1="272.30" x2="1238.46" y2="278.50" stroke="#262626" stroke-width="1.3"/>
<line x1="1238.46" y1="523.00" x2="1238.46" y2="529.30" stroke="#262626" stroke-width="1.3"/>
<line x1="122.20" y1="278.50" x2="128.50" y2="278.50" stroke="#4e714a" stroke-width="1.3"/>
<line x1="1281.30" y1="278.50" x2="1288.30" y2="278.50" stroke="#4e714a" stroke-width="1.3"/>
<text x="112.50" y="288.50" font-family="Liberation Serif" font-weight="normal" font-size="29" fill="#4e714a" text-anchor="end" >0.7</text>
<line x1="122.20" y1="360.00" x2="128.50" y2="360.00" stroke="#4e714a" stroke-width="1.3"/>
<line x1="1281.30" y1="360.00" x2="1288.30" y2="360.00" stroke="#4e714a" stroke-width="1.3"/>
<text x="112.50" y="370.00" font-family="Liberation Serif" font-weight="normal" font-size="29" fill="#4e714a" text-anchor="end" >0.6</text>
<line x1="122.20" y1="441.50" x2="128.50" y2="441.50" stroke="#4e714a" stroke-width="1.3"/>
<line x1="1281.30" y1="441.50" x2="1288.30" y2="441.50" stroke="#4e714a" stroke-width="1.3"/>
<text x="112.50" y="451.50" font-family="Liberation Serif" font-weight="normal" font-size="29" fill="#4e714a" text-anchor="end" >0.5</text>
<line x1="122.20" y1="523.00" x2="128.50" y2="523.00" stroke="#4e714a" stroke-width="1.3"/>
<line x1="1281.30" y1="523.00" x2="1288.30" y2="523.00" stroke="#4e714a" stroke-width="1.3"/>
<text x="112.50" y="533.00" font-family="Liberation Serif" font-weight="normal" font-size="29" fill="#4e714a" text-anchor="end" >0.4</text>
<text x="220.10" y="549.50" font-family="Liberation Serif" font-weight="normal" font-size="28.5" fill="#000" text-anchor="middle" >2003</text>
<text x="341.30" y="549.50" font-family="Liberation Serif" font-weight="normal" font-size="28.5" fill="#000" text-anchor="middle" >2004</text>
<text x="461.50" y="549.50" font-family="Liberation Serif" font-weight="normal" font-size="28.5" fill="#000" text-anchor="middle" >2005</text>
<text x="581.70" y="549.50" font-family="Liberation Serif" font-weight="normal" font-size="28.5" fill="#000" text-anchor="middle" >2006</text>
<text x="701.90" y="549.50" font-family="Liberation Serif" font-weight="normal" font-size="28.5" fill="#000" text-anchor="middle" >2007</text>
<text x="822.10" y="549.50" font-family="Liberation Serif" font-weight="normal" font-size="28.5" fill="#000" text-anchor="middle" >2008</text>
<text x="942.30" y="549.50" font-family="Liberation Serif" font-weight="normal" font-size="28.5" fill="#000" text-anchor="middle" >2009</text>
<text x="1062.50" y="549.50" font-family="Liberation Serif" font-weight="normal" font-size="28.5" fill="#000" text-anchor="middle" >2010</text>
<text x="1182.70" y="549.50" font-family="Liberation Serif" font-weight="normal" font-size="28.5" fill="#000" text-anchor="middle" >2011</text>
<text x="138.50" y="40.50" font-family="Liberation Sans" font-weight="bold" font-size="30" fill="#000" text-anchor="start" >A</text>
<text x="139.50" y="309.20" font-family="Liberation Sans" font-weight="bold" font-size="30" fill="#000" text-anchor="start" >B</text>
<text x="67.00" y="131.00" font-family="Liberation Serif" font-weight="bold" font-size="30.5" fill="#4dc1c8" text-anchor="middle" transform="rotate(-90 67 131)">Correlation</text>
<text x="67.00" y="400.00" font-family="Liberation Serif" font-weight="bold" font-size="30.5" fill="#4e714a" text-anchor="middle" transform="rotate(-90 67 400)">Correlation</text>
<text x="1370.00" y="131.00" font-family="Liberation Serif" font-weight="bold" font-size="30" fill="#5f57a6" text-anchor="middle" transform="rotate(-90 1370 131)">MLD (m)</text>
<line x1="162.00" y1="217.20" x2="214.00" y2="217.20" stroke="#bee2dc" stroke-width="4"/>
<text x="220.00" y="224.70" font-family="Liberation Serif" font-weight="normal" font-size="21" fill="#000" text-anchor="start" >Daily</text>
<line x1="275.00" y1="217.20" x2="327.00" y2="217.20" stroke="#4dc1c8" stroke-width="4"/>
<text x="333.00" y="224.70" font-family="Liberation Serif" font-weight="normal" font-size="21" fill="#000" text-anchor="start" >Semimonthly</text>
<line x1="987.00" y1="217.20" x2="1039.00" y2="217.20" stroke="#beacd4" stroke-width="4"/>
<text x="1045.00" y="224.70" font-family="Liberation Serif" font-weight="normal" font-size="21" fill="#000" text-anchor="start" >Daily</text>
<line x1="1100.00" y1="217.20" x2="1152.00" y2="217.20" stroke="#5f57a6" stroke-width="4"/>
<text x="1158.00" y="224.70" font-family="Liberation Serif" font-weight="normal" font-size="21" fill="#000" text-anchor="start" >Semimonthly</text>
<line x1="162.00" y1="486.40" x2="214.00" y2="486.40" stroke="#d9e8c3" stroke-width="4"/>
<text x="220.00" y="493.90" font-family="Liberation Serif" font-weight="normal" font-size="21" fill="#000" text-anchor="start" >Daily</text>
<line x1="275.00" y1="486.40" x2="327.00" y2="486.40" stroke="#4e714a" stroke-width="4"/>
<text x="333.00" y="493.90" font-family="Liberation Serif" font-weight="normal" font-size="21" fill="#000" text-anchor="start" >Semimonthly</text>
<path d="M128.5 705.2L159.5 707.7L183.5 712.0L199.0 708.9L210.3 708.9L220.2 715.5L227.9 712.0L234.3 678.1L241.3 665.4L247.7 673.9L251.2 693.6L256.9 709.9L263.9 706.3L267.4 711.3L272.4 720.5L283.0 699.3L289.3 712.0L291.4 709.2L296.4 712.7L302.0 705.6L307.7 721.2L311.9 718.3L314.7 707.7L318.3 724.7L320.4 714.8L322.2 724.8L323.5 719.7L324.8 719.7L326.1 716.3L327.3 722.1L328.5 721.7L329.6 721.5L330.8 724.6L331.9 725.4L333.0 721.3L334.1 722.3L335.1 724.1L336.2 728.3L337.2 728.4L338.2 723.0L339.1 724.1L340.1 730.7L341.0 734.1L342.0 729.3L342.9 727.6L343.8 734.1L344.6 729.8L345.5 733.8L346.4 737.1L347.2 734.3L348.0 732.7L348.8 735.2L349.6 730.6L350.4 732.4L351.2 731.1L352.0 732.5L352.7 731.4L353.4 732.5L354.2 731.7L354.9 733.4L355.6 733.2L356.3 733.9L357.0 738.0L357.7 726.7L358.4 737.4L359.0 731.4L359.7 727.4L360.4 731.4L361.0 732.4L361.6 736.1L362.3 727.7L362.9 732.7L363.5 732.4L364.1 725.2L364.7 727.2L365.3 734.5L365.9 735.0L366.5 736.7L367.0 734.6L367.6 734.3L368.2 733.3L368.7 738.0L369.3 729.7L369.8 732.8L370.4 735.3L370.9 727.3L371.4 739.6L372.0 731.0L372.5 734.3L373.0 742.6L373.5 731.5L374.0 733.0L374.5 742.2L375.0 731.1L375.5 734.1L376.0 738.4L376.4 738.4L376.9 739.2L377.4 738.5L377.9 743.0L378.3 741.8L378.8 740.1L379.2 734.7L379.7 734.7L380.4 722.5L381.5 741.7L382.3 730.7L383.2 743.2L384.0 747.9L384.8 735.0L385.7 737.0L386.5 738.2L387.2 744.6L388.0 737.0L388.8 740.7L389.5 739.1L390.3 740.7L391.0 748.4L391.7 737.9L392.4 743.2L393.1 744.4L393.8 747.6L394.5 737.6L395.2 749.6L395.9 746.6L396.5 749.1L397.2 745.5L397.8 737.3L398.5 742.6L399.1 750.3L399.7 746.7L400.3 746.6L400.9 756.3L401.5 756.9L402.1 747.8L402.7 757.7L403.3 739.2L403.9 739.6L404.4 753.8L405.0 748.4L405.6 753.1L406.1 753.1L406.7 750.3L407.2 754.7L407.7 752.3L408.3 743.7L408.8 753.3L409.3 753.5L409.8 762.6L410.3 747.2L410.8 753.7L411.3 751.7L411.8 753.6L412.3 763.6L412.8 757.0L413.3 752.8L413.7 717.2L414.2 760.2L414.7 751.0L415.2 755.3L415.6 765.6L416.1 762.2L416.5 757.6L417.2 755.7L417.9 758.1L418.5 750.8L419.2 765.2L419.8 762.4L420.4 761.7L421.1 754.1L421.7 757.9L422.3 765.3L422.9 764.3L423.5 760.5L424.1 766.7L424.6 769.6L425.2 760.8L425.8 762.0L426.4 760.5L426.9 759.2L427.5 771.0L428.0 769.7L428.6 769.2L429.1 760.7L429.6 761.8L430.1 768.0L430.7 766.3L431.2 769.9L431.7 765.4L432.2 773.8L432.7 781.0L433.2 779.9L433.7 780.7L434.2 771.8L434.7 777.3L435.1 769.8L435.6 778.0L436.1 770.4L436.5 770.1L437.0 769.5L437.5 778.0L437.9 775.7L438.5 775.6L439.1 767.8L439.7 776.2L440.3 766.7L440.8 785.2L441.4 775.6L442.0 778.0L442.5 776.5L443.1 767.5L443.6 769.2L444.2 778.0L444.7 787.9L445.2 771.7L445.7 774.6L446.3 779.1L446.8 769.0L447.3 769.2L447.8 777.7L448.3 780.4L448.8 778.4L449.3 791.2L449.7 780.5L450.2 784.2L450.7 792.5L451.2 793.5L451.6 772.3L452.1 780.6L452.6 791.0L453.0 774.6L453.5 777.9L454.0 775.8L454.6 775.7L455.1 777.6L455.7 786.7L456.2 794.4L456.7 796.5L457.3 786.8L457.8 774.8L458.3 787.1L458.8 785.6L459.3 790.7L459.8 787.9L460.3 776.9L460.8 792.4L461.3 777.5L461.8 785.6L462.2 792.9L462.7 793.6L463.2 802.3L463.6 779.3L464.1 794.7L464.6 797.5L465.0 790.8L465.6 797.9L466.1 786.3L466.6 799.0L467.1 798.6L467.7 788.3L468.2 790.9L468.7 794.7L469.2 791.8L469.7 804.1L470.2 798.4L470.7 806.8L471.2 806.2L471.6 798.6L472.1 797.1L472.6 792.0L473.1 793.3L473.5 793.7L474.0 802.2L474.4 793.7L474.9 800.9L475.4 802.0L475.9 797.4L476.4 799.9L476.9 812.1L477.5 813.7L478.0 796.5L478.4 801.1L478.9 800.1L479.4 801.1L479.9 814.8L480.4 808.8L480.8 813.4L481.3 817.5L481.8 801.4L482.2 803.6L482.7 805.6L483.1 813.3L483.7 805.3L484.2 811.2L484.7 815.5L485.2 815.9L485.7 810.9L486.1 802.0L486.6 796.6L487.1 817.3L487.6 812.6L488.0 802.5L488.5 806.2L489.0 807.1L489.4 798.1L489.9 813.3L490.3 805.8L490.8 810.0L491.3 818.5L491.8 812.5L492.3 818.0L492.8 817.5L493.3 815.0L493.8 815.6L494.2 830.0L494.7 814.9L495.2 829.4L495.5 809.9" fill="none" stroke="#4dc1c8" stroke-width="3.6" stroke-linejoin="round" stroke-linecap="round" /><path d="M128.5 693.8L130.2 693.8L132.2 693.8L134.5 693.8L137.0 693.9L139.8 693.9L142.8 693.9L145.9 693.9L149.2 693.9L152.6 693.9L156.1 694.0L159.7 694.0L163.3 694.0L166.9 694.0L170.5 694.1L174.0 694.1L177.5 694.1L180.8 694.2L184.0 694.2L187.1 694.3L190.0 694.3L193.5 694.4L197.0 694.4L200.6 694.5L204.2 694.6L207.7 694.7L211.2 694.8L214.6 694.9L218.0 695.0L221.2 695.1L224.4 695.2L227.4 695.3L230.3 695.5L233.0 695.5L235.6 695.6L237.9 695.7L240.0 695.8L245.9 696.0L248.9 696.1L250.9 696.3L254.0 696.6L257.0 696.9L260.2 697.2L263.7 697.6L267.1 698.0L270.6 698.5L274.0 699.0L277.3 699.5L280.6 700.1L283.8 700.7L287.1 701.4L290.3 702.1L293.6 702.8L296.8 703.6L300.1 704.4L303.3 705.3L306.6 706.3L309.8 707.3L313.0 708.3L316.1 709.3L318.9 710.3L321.8 711.4L324.8 712.5L328.2 714.0L332.0 715.7L334.5 716.9L337.1 718.2L339.9 719.5L342.7 720.9L345.7 722.4L348.8 724.0L352.0 725.7L355.3 727.5L358.7 729.5L362.3 731.5L365.0 733.1L367.8 734.7L370.7 736.5L373.8 738.4L376.9 740.3L380.1 742.3L383.3 744.3L386.5 746.3L389.7 748.3L392.9 750.3L396.0 752.2L399.0 754.1L401.9 756.0L404.7 757.7L408.1 759.8L411.5 761.9L414.8 764.0L418.0 765.9L421.1 767.9L424.2 769.8L427.2 771.7L430.1 773.6L433.0 775.4L435.8 777.2L438.5 779.0L442.0 781.4L445.3 783.7L448.4 785.9L451.3 788.1L454.3 790.2L457.3 792.4L460.5 794.7L463.9 797.0L467.0 799.0L470.3 801.2L473.9 803.5L477.6 805.8L481.3 808.1L484.8 810.3L488.1 812.4L491.1 814.2L493.6 815.8L495.5 817.0" fill="none" stroke="#bee2dc" stroke-width="3.2" stroke-linejoin="round" stroke-linecap="butt" stroke-dasharray="11 9"/>
<path d="M521.8 686.2L554.2 689.8L575.8 697.6L591.9 698.8L603.6 698.3L613.5 701.9L620.7 701.9L634.2 677.8L644.1 692.5L649.5 693.4L658.5 705.1L666.6 698.8L672.0 698.8L677.4 705.1L684.6 699.7L689.1 703.3L692.7 719.5L697.2 697.9L703.5 719.5L707.9 704.2L709.6 709.3L711.1 706.0L712.5 709.8L713.9 703.7L715.2 712.8L716.5 705.4L717.8 711.3L719.1 711.4L720.3 709.5L721.5 719.6L722.6 711.3L723.8 715.7L724.9 718.6L726.0 710.5L727.1 720.6L728.1 715.6L729.2 720.4L730.2 713.5L731.2 713.5L732.1 722.6L733.1 720.4L734.0 719.4L735.0 721.9L735.9 721.9L736.8 715.7L737.6 713.5L738.5 714.5L739.4 714.6L740.2 714.9L741.0 720.2L741.8 721.1L742.6 723.6L743.4 725.2L744.2 723.2L745.0 724.2L746.0 708.8L746.4 721.9L747.2 723.5L747.9 727.1L748.6 724.5L749.3 725.3L750.0 727.7L750.7 734.2L751.4 730.2L752.0 727.8L752.7 727.1L753.4 729.4L754.0 738.3L754.6 722.6L755.3 733.3L755.9 732.3L756.5 735.4L757.1 726.7L757.7 740.3L758.3 736.8L758.9 732.3L759.5 733.5L760.0 729.8L760.6 733.4L761.2 732.7L761.7 737.8L762.3 735.3L762.8 733.4L763.4 737.0L763.9 736.6L764.4 735.2L765.0 727.2L765.5 739.1L766.0 729.0L766.5 729.8L767.0 734.1L767.5 737.1L768.0 741.4L768.5 727.0L769.0 742.0L769.4 742.9L769.9 733.1L770.4 734.4L770.9 732.8L771.3 732.7L771.8 729.3L772.2 727.8L772.7 735.1L773.6 737.6L774.5 745.6L775.3 732.3L776.2 728.7L777.0 738.9L777.8 736.4L778.7 741.1L779.5 737.9L780.2 734.2L781.0 737.7L781.8 745.8L782.5 743.7L783.3 738.1L784.0 748.0L784.7 736.8L785.4 742.0L786.1 746.3L786.8 738.8L787.5 740.2L788.2 746.9L788.9 746.8L789.5 746.4L790.2 745.2L790.8 742.7L791.5 744.7L792.1 758.8L792.7 746.1L793.3 757.7L793.9 746.9L794.5 757.5L795.1 757.1L795.7 753.2L796.3 747.6L796.9 743.8L797.4 756.7L798.0 744.8L798.6 745.0L799.1 760.4L799.7 760.3L800.2 752.8L800.7 751.5L801.3 749.4L801.8 755.2L802.3 750.9L802.8 745.5L803.3 749.8L803.8 755.7L804.3 745.8L804.8 749.4L805.3 755.9L805.8 764.9L806.3 718.5L806.7 756.3L807.2 766.8L807.7 750.9L808.2 753.1L808.6 762.4L809.1 764.1L809.5 761.0L810.2 748.5L810.9 763.8L811.5 764.0L812.2 761.1L812.8 765.3L813.4 770.2L814.1 763.0L814.7 757.9L815.3 753.2L815.9 764.8L816.5 760.8L817.1 762.3L817.6 759.4L818.2 768.2L818.8 771.4L819.4 770.0L819.9 761.3L820.5 773.6L821.0 770.6L821.6 758.1L822.1 773.0L822.6 758.8L823.1 763.2L823.7 776.7L824.2 774.6L824.7 767.0L825.2 765.8L825.7 773.5L826.2 760.8L826.7 774.4L827.2 770.4L827.7 776.9L828.1 771.9L828.6 766.3L829.1 774.4L829.5 771.3L830.0 765.0L830.5 766.8L830.9 768.0L831.5 774.9L832.1 779.7L832.7 775.2L833.3 768.2L833.8 773.8L834.4 780.1L835.0 783.7L835.5 771.5L836.1 779.7L836.6 775.9L837.2 767.3L837.7 771.2L838.2 776.3L838.7 777.1L839.3 778.3L839.8 777.5L840.3 784.2L840.8 776.3L841.3 772.7L841.8 786.7L842.3 780.0L842.7 789.5L843.2 779.6L843.7 793.9L844.2 777.9L844.6 778.7L845.1 791.5L845.6 799.0L846.0 782.7L846.5 798.6L847.0 798.9L847.6 794.7L848.1 788.7L848.7 778.6L849.2 780.9L849.7 786.4L850.3 795.6L850.8 791.5L851.3 788.8L851.8 794.3L852.3 783.1L852.8 797.2L853.3 788.7L853.8 804.1L854.3 797.1L854.8 791.4L855.2 793.3L855.7 786.5L856.2 799.0L856.6 791.4L857.1 797.9L857.6 806.9L858.0 801.8L858.6 803.3L859.1 813.0L859.6 805.7L860.1 809.1L860.7 800.2L861.2 794.2L861.7 804.5L862.2 795.4L862.7 791.2L863.2 808.4L863.7 807.1L864.2 797.8L864.6 814.6L865.1 805.5L865.6 803.2L866.1 800.2L866.5 815.5L867.0 804.7L867.4 804.7L867.9 805.3L868.4 803.6L868.9 797.7L869.4 804.9L869.9 804.3L870.5 816.0L871.0 802.2L871.4 816.8L871.9 808.7L872.4 807.0L872.9 812.1L873.4 814.0L873.8 814.9L874.3 818.8L874.8 816.6L875.2 804.3L875.7 810.9L876.1 828.1L876.7 816.0L877.2 804.0L877.7 819.0L878.2 830.6L878.7 827.2L879.1 819.6L879.6 821.2L880.1 824.8L880.6 819.4L881.0 817.4L881.5 833.5L882.0 819.0L882.4 829.8L882.9 811.2L883.3 817.5L883.8 815.2L884.3 827.4L884.8 820.1L885.3 820.5L885.8 818.9L886.3 827.4L886.8 834.1L887.2 822.8L887.7 832.3L888.2 828.1L888.5 823.9" fill="none" stroke="#4e714a" stroke-width="3.6" stroke-linejoin="round" stroke-linecap="round" /><path d="M521.5 680.0L523.2 680.0L525.2 680.1L527.6 680.1L530.1 680.1L532.9 680.2L536.0 680.2L539.1 680.3L542.5 680.3L545.9 680.4L549.4 680.5L553.0 680.5L556.6 680.6L560.3 680.7L563.8 680.7L567.4 680.8L570.8 680.9L574.1 680.9L577.2 681.0L580.2 681.1L583.0 681.2L586.8 681.3L590.6 681.5L594.3 681.6L597.9 681.8L601.5 681.9L605.0 682.1L608.4 682.3L611.7 682.4L614.8 682.6L617.8 682.8L620.6 683.0L623.3 683.1L625.7 683.3L627.9 683.5L633.3 684.1L636.1 684.6L638.2 685.2L641.7 686.1L644.3 686.7L647.2 687.3L650.4 688.0L653.7 688.8L657.0 689.5L660.3 690.4L663.4 691.2L666.3 692.0L669.8 693.1L673.2 694.3L676.4 695.5L679.5 696.7L682.6 697.9L685.7 699.2L688.9 700.5L692.0 701.8L695.2 703.2L698.3 704.5L701.4 705.9L704.4 707.3L707.9 709.0L711.4 710.7L714.8 712.5L718.3 714.3L721.7 716.1L725.2 718.0L728.6 719.9L732.1 721.9L735.6 723.9L739.0 725.9L742.1 727.7L744.9 729.2L747.9 730.9L751.4 733.1L756.0 736.0L758.6 737.7L761.4 739.6L764.5 741.7L767.8 744.0L771.2 746.4L774.7 748.8L778.2 751.2L781.7 753.7L785.2 756.0L788.5 758.2L791.7 760.3L795.0 762.4L798.3 764.4L801.5 766.3L804.7 768.2L807.9 770.0L811.0 771.8L814.1 773.6L817.2 775.5L820.3 777.4L823.5 779.4L826.7 781.5L830.0 783.8L833.3 786.1L836.6 788.4L839.9 790.8L843.1 793.1L846.3 795.4L849.4 797.6L852.4 799.7L855.2 801.6L859.1 804.1L863.0 806.5L866.7 808.7L870.2 810.7L873.5 812.6L876.4 814.3L879.0 815.9L883.6 818.8L886.6 820.9L888.5 822.2" fill="none" stroke="#d9e8c3" stroke-width="3.2" stroke-linejoin="round" stroke-linecap="butt" stroke-dasharray="11 9"/>
<path d="M915.1 721.1L948.4 724.0L968.4 734.4L985.1 748.2L996.7 755.6L1006.9 743.3L1015.1 711.1L1021.8 638.9L1028.4 626.0L1034.0 637.8L1040.0 682.5L1047.6 709.2L1052.7 716.8L1058.4 745.4L1062.2 739.7L1067.9 713.7L1073.7 737.1L1076.8 741.0L1080.0 760.0L1084.4 727.0L1088.3 733.3L1091.4 759.4L1094.6 757.5L1097.1 761.3L1100.3 716.8L1103.5 752.4L1106.0 739.0L1109.2 746.0L1112.4 724.4L1115.6 752.4L1119.4 757.5L1121.9 746.0L1125.1 780.3L1128.9 776.5L1133.3 743.5L1135.2 760.0L1138.4 749.2L1140.3 771.4L1142.2 753.7L1145.4 780.3L1147.9 740.3L1148.9 774.0L1149.5 749.1L1150.1 770.8L1150.8 776.8L1151.4 778.0L1151.9 759.8L1152.5 766.3L1153.1 773.1L1153.7 776.1L1154.3 772.5L1154.8 747.4L1155.4 757.9L1155.9 789.2L1156.5 779.9L1157.0 762.2L1157.6 774.2L1158.1 758.7L1158.6 762.5L1159.1 750.2L1159.7 763.7L1160.2 789.0L1160.7 759.0L1161.2 763.1L1161.7 799.6L1162.2 798.8L1162.6 793.8L1163.1 800.2L1163.6 784.6L1164.1 752.7L1164.5 780.1L1165.0 789.7L1165.5 755.6L1165.9 782.5L1166.4 790.0L1166.8 770.7L1167.3 788.1L1167.7 796.8L1168.2 762.3L1168.6 779.3L1169.0 789.6L1169.4 763.6L1169.9 802.2L1170.3 791.0L1170.7 762.6L1171.1 770.3L1171.5 799.2L1171.9 767.5L1172.4 775.6L1172.8 781.6L1173.2 756.6L1173.5 778.6L1173.9 773.7L1174.3 786.5L1174.7 758.1L1175.1 787.7L1175.5 760.1L1175.9 787.1L1176.2 778.6L1176.6 785.8L1177.0 797.0L1177.4 774.5L1177.7 798.2L1178.1 784.2L1178.4 799.1L1178.8 803.4L1179.2 762.3L1179.5 772.5L1179.9 780.1L1180.6 789.4L1181.3 785.7L1181.9 773.2L1182.6 760.3L1183.3 787.2L1183.9 793.4L1184.6 764.8L1185.2 786.2L1185.8 797.4L1186.5 765.6L1187.1 777.6L1187.7 793.0L1188.3 789.5L1188.9 797.9L1189.5 762.9L1190.0 783.9L1190.6 765.7L1191.2 791.2L1191.8 773.9L1192.3 770.8L1192.9 792.0L1193.4 764.6L1194.0 788.5L1194.5 782.8L1195.0 764.0L1195.5 763.5L1196.1 793.8L1196.6 767.5L1197.1 763.8L1197.6 770.5L1198.1 784.0L1198.6 780.6L1199.1 786.2L1199.6 795.9L1200.0 805.1L1200.5 810.6L1201.0 792.7L1201.5 770.5L1201.9 787.6L1202.4 768.2L1202.9 770.3L1203.3 765.4L1203.8 808.0L1204.2 796.2L1204.6 768.0L1205.1 800.0L1205.5 774.3L1205.9 765.1L1206.4 773.7L1206.8 815.9L1207.2 793.7L1207.6 773.2L1208.1 788.5L1208.5 800.6L1208.9 786.3L1209.3 779.9L1209.7 765.8L1210.1 798.5L1210.5 798.3L1210.9 769.0L1211.3 772.9L1211.6 800.0L1212.0 789.2L1212.4 816.8L1212.8 822.7L1213.2 770.8L1213.5 816.6L1213.9 811.8L1214.3 806.6L1214.6 798.4L1215.0 783.0L1215.4 799.3L1215.7 770.7L1216.1 794.1L1216.4 807.1L1216.8 814.7L1217.3 805.6L1217.8 775.4L1218.3 826.9L1218.9 806.4L1219.4 811.8L1219.9 775.0L1220.4 811.2L1220.8 771.6L1221.3 813.5L1221.8 777.4L1222.3 792.0L1222.8 782.2L1223.2 810.7L1223.7 812.4L1224.1 775.3L1224.6 775.7L1225.1 809.4L1225.5 787.9L1225.9 777.7L1226.4 807.1L1226.8 812.4L1227.3 808.8L1227.7 803.6L1228.1 833.4L1228.5 813.4L1229.0 797.6L1229.4 813.2L1229.8 812.9L1230.2 813.7L1230.6 818.4L1231.0 776.6L1231.4 827.6L1231.8 786.6L1232.2 779.1L1232.6 777.2L1233.0 803.5L1233.4 785.5L1233.8 801.1L1234.1 822.6L1234.5 780.8L1234.9 834.0L1235.3 790.5L1235.6 806.0L1236.0 828.0L1236.4 779.3L1236.7 794.5L1237.1 785.4L1237.5 781.7L1237.8 787.2L1238.2 815.9L1238.5 819.0L1239.0 816.6L1239.4 820.3L1239.9 807.4L1240.3 787.5L1240.8 781.0L1241.2 820.6L1241.7 830.0L1242.1 797.6L1242.6 824.1L1243.0 781.5L1243.4 834.3L1243.8 838.7L1244.3 823.7L1244.7 820.0L1245.1 809.1L1245.5 781.6L1245.9 816.0L1246.3 834.4L1246.7 845.3L1247.1 779.0L1247.5 808.7L1247.9 819.2L1248.3 818.4L1248.7 783.8L1249.1 788.6L1249.4 814.1L1249.8 831.3L1250.2 826.9L1250.6 814.9L1250.9 788.1L1251.3 816.6L1251.7 826.3L1252.0 790.9L1252.4 817.0L1252.7 812.7L1253.1 790.7L1253.5 784.9L1253.8 781.7L1254.2 802.5L1254.7 821.1L1255.1 793.7L1255.5 808.5L1256.0 786.2L1256.4 793.8L1256.8 828.0L1257.2 803.7L1257.6 823.7L1258.0 821.5L1258.4 792.8L1258.8 778.4L1259.2 811.7L1259.6 841.2L1260.0 823.1L1260.4 822.4L1260.8 785.3L1261.2 787.1L1261.5 792.6L1261.9 794.6L1262.3 781.9L1262.7 797.4L1263.0 826.6L1263.4 784.5L1263.8 820.2L1264.1 781.2L1264.5 781.6L1264.8 801.5L1265.2 830.5L1265.5 790.3L1266.0 829.7L1266.4 781.4L1266.8 838.8L1267.2 852.5L1267.6 823.4L1268.0 805.5L1268.4 793.4L1268.8 824.9L1269.2 798.5L1269.6 819.2L1270.0 836.9L1270.4 827.1L1270.7 808.0L1271.1 794.2L1271.5 852.9L1271.9 784.4L1272.3 828.9L1272.6 840.4L1273.0 831.9L1273.4 809.7L1273.7 830.4L1274.1 794.3L1274.4 815.2L1274.8 783.9L1275.1 832.7L1275.5 811.0L1275.9 794.6L1276.3 797.1L1276.7 835.7L1277.1 788.1L1277.5 827.9L1277.9 843.9L1278.3 825.6L1278.7 811.2L1279.0 848.5L1279.4 849.4L1279.8 847.8L1280.2 829.6L1280.5 810.0L1280.9 815.1L1281.3 803.2L1281.6 828.7L1282.0 801.8L1282.4 806.0L1282.5 842.9" fill="none" stroke="#5f57a6" stroke-width="3.6" stroke-linejoin="round" stroke-linecap="round" /><path d="M914.5 660.7L916.2 660.8L918.1 660.8L920.4 660.9L922.9 660.9L925.7 661.0L928.6 661.0L931.7 661.1L935.0 661.2L938.4 661.3L941.8 661.3L945.4 661.4L949.0 661.5L952.5 661.6L956.1 661.7L959.6 661.8L963.1 662.0L966.4 662.1L969.6 662.2L972.7 662.4L975.6 662.5L978.3 662.7L980.7 662.9L985.1 663.3L989.0 663.7L992.6 664.1L995.8 664.5L998.9 665.0L1001.7 665.5L1004.5 666.1L1007.3 666.7L1010.1 667.4L1013.1 668.1L1016.2 668.9L1019.2 669.7L1022.4 670.6L1025.5 671.5L1028.7 672.5L1031.9 673.6L1035.1 674.7L1038.2 675.8L1041.3 676.9L1044.3 678.0L1047.3 679.1L1050.0 680.2L1052.7 681.3L1056.4 682.8L1059.8 684.4L1062.9 685.9L1066.0 687.4L1068.9 688.9L1071.8 690.5L1074.8 692.2L1078.0 694.0L1081.3 695.9L1084.7 698.0L1088.1 700.1L1091.5 702.3L1094.9 704.6L1098.3 706.8L1101.6 708.9L1104.8 711.0L1108.0 713.0L1111.1 715.0L1114.3 716.9L1117.3 718.9L1120.3 720.8L1123.3 722.6L1126.1 724.5L1128.9 726.3L1132.1 728.5L1134.8 730.4L1137.3 732.2L1140.1 734.2L1143.5 736.7L1148.0 739.7L1150.3 741.2L1152.8 742.9L1155.4 744.6L1158.2 746.5L1161.2 748.4L1164.2 750.4L1167.4 752.5L1170.6 754.6L1173.8 756.7L1177.1 758.9L1180.4 761.0L1183.6 763.2L1186.9 765.3L1190.0 767.4L1192.9 769.4L1195.8 771.3L1198.8 773.3L1201.7 775.4L1204.7 777.4L1207.7 779.5L1210.7 781.5L1213.7 783.6L1216.7 785.7L1219.7 787.7L1222.7 789.8L1225.8 791.9L1228.9 793.9L1231.9 796.0L1235.0 798.0L1238.2 800.1L1241.6 802.3L1245.1 804.5L1248.7 806.8L1252.4 809.2L1256.1 811.5L1259.8 813.8L1263.3 816.0L1266.8 818.2L1270.1 820.2L1273.2 822.2L1276.0 823.9L1278.5 825.5L1280.7 826.9L1282.5 828.0" fill="none" stroke="#beacd4" stroke-width="3.2" stroke-linejoin="round" stroke-linecap="butt" stroke-dasharray="11 9"/>
<rect x="128.50" y="575.50" width="367.00" height="278.60" fill="none" stroke="#595959" stroke-width="1.3"/>
<line x1="189.67" y1="570.50" x2="189.67" y2="575.50" stroke="#595959" stroke-width="1.3"/>
<line x1="189.67" y1="854.10" x2="189.67" y2="859.10" stroke="#595959" stroke-width="1.3"/>
<text x="190.17" y="902.5" font-family="Liberation Serif" font-size="29" fill="#1a1a1a" text-anchor="middle">10<tspan font-size="22.5" dy="-13.8">-3</tspan></text>
<line x1="312.00" y1="570.50" x2="312.00" y2="575.50" stroke="#595959" stroke-width="1.3"/>
<line x1="312.00" y1="854.10" x2="312.00" y2="859.10" stroke="#595959" stroke-width="1.3"/>
<text x="312.50" y="902.5" font-family="Liberation Serif" font-size="29" fill="#1a1a1a" text-anchor="middle">10<tspan font-size="22.5" dy="-13.8">-2</tspan></text>
<line x1="434.33" y1="570.50" x2="434.33" y2="575.50" stroke="#595959" stroke-width="1.3"/>
<line x1="434.33" y1="854.10" x2="434.33" y2="859.10" stroke="#595959" stroke-width="1.3"/>
<text x="434.83" y="902.5" font-family="Liberation Serif" font-size="29" fill="#1a1a1a" text-anchor="middle">10<tspan font-size="22.5" dy="-13.8">-1</tspan></text>
<line x1="124.00" y1="575.50" x2="128.50" y2="575.50" stroke="#595959" stroke-width="1.3"/>
<line x1="495.50" y1="575.50" x2="500.50" y2="575.50" stroke="#595959" stroke-width="1.3"/>
<line x1="124.00" y1="661.22" x2="128.50" y2="661.22" stroke="#595959" stroke-width="1.3"/>
<line x1="495.50" y1="661.22" x2="500.50" y2="661.22" stroke="#595959" stroke-width="1.3"/>
<line x1="124.00" y1="746.95" x2="128.50" y2="746.95" stroke="#595959" stroke-width="1.3"/>
<line x1="495.50" y1="746.95" x2="500.50" y2="746.95" stroke="#595959" stroke-width="1.3"/>
<line x1="124.00" y1="832.67" x2="128.50" y2="832.67" stroke="#595959" stroke-width="1.3"/>
<line x1="495.50" y1="832.67" x2="500.50" y2="832.67" stroke="#595959" stroke-width="1.3"/>
<text x="312.00" y="940.00" font-family="Liberation Serif" font-weight="bold" font-size="31" fill="#262626" text-anchor="middle" >Frequency (cpd)</text>
<text x="139.20" y="612.80" font-family="Liberation Sans" font-weight="bold" font-size="30" fill="#000" text-anchor="start" >C</text>
<rect x="521.50" y="575.50" width="367.00" height="278.60" fill="none" stroke="#595959" stroke-width="1.3"/>
<line x1="582.67" y1="570.50" x2="582.67" y2="575.50" stroke="#595959" stroke-width="1.3"/>
<line x1="582.67" y1="854.10" x2="582.67" y2="859.10" stroke="#595959" stroke-width="1.3"/>
<text x="583.17" y="902.5" font-family="Liberation Serif" font-size="29" fill="#1a1a1a" text-anchor="middle">10<tspan font-size="22.5" dy="-13.8">-3</tspan></text>
<line x1="705.00" y1="570.50" x2="705.00" y2="575.50" stroke="#595959" stroke-width="1.3"/>
<line x1="705.00" y1="854.10" x2="705.00" y2="859.10" stroke="#595959" stroke-width="1.3"/>
<text x="705.50" y="902.5" font-family="Liberation Serif" font-size="29" fill="#1a1a1a" text-anchor="middle">10<tspan font-size="22.5" dy="-13.8">-2</tspan></text>
<line x1="827.33" y1="570.50" x2="827.33" y2="575.50" stroke="#595959" stroke-width="1.3"/>
<line x1="827.33" y1="854.10" x2="827.33" y2="859.10" stroke="#595959" stroke-width="1.3"/>
<text x="827.83" y="902.5" font-family="Liberation Serif" font-size="29" fill="#1a1a1a" text-anchor="middle">10<tspan font-size="22.5" dy="-13.8">-1</tspan></text>
<line x1="517.00" y1="575.50" x2="521.50" y2="575.50" stroke="#595959" stroke-width="1.3"/>
<line x1="888.50" y1="575.50" x2="893.50" y2="575.50" stroke="#595959" stroke-width="1.3"/>
<line x1="517.00" y1="661.22" x2="521.50" y2="661.22" stroke="#595959" stroke-width="1.3"/>
<line x1="888.50" y1="661.22" x2="893.50" y2="661.22" stroke="#595959" stroke-width="1.3"/>
<line x1="517.00" y1="746.95" x2="521.50" y2="746.95" stroke="#595959" stroke-width="1.3"/>
<line x1="888.50" y1="746.95" x2="893.50" y2="746.95" stroke="#595959" stroke-width="1.3"/>
<line x1="517.00" y1="832.67" x2="521.50" y2="832.67" stroke="#595959" stroke-width="1.3"/>
<line x1="888.50" y1="832.67" x2="893.50" y2="832.67" stroke="#595959" stroke-width="1.3"/>
<text x="705.00" y="940.00" font-family="Liberation Serif" font-weight="bold" font-size="31" fill="#262626" text-anchor="middle" >Frequency (cpd)</text>
<text x="539.20" y="612.80" font-family="Liberation Sans" font-weight="bold" font-size="30" fill="#000" text-anchor="start" >D</text>
<rect x="914.50" y="575.50" width="368.00" height="278.60" fill="none" stroke="#595959" stroke-width="1.3"/>
<line x1="975.83" y1="570.50" x2="975.83" y2="575.50" stroke="#595959" stroke-width="1.3"/>
<line x1="975.83" y1="854.10" x2="975.83" y2="859.10" stroke="#595959" stroke-width="1.3"/>
<text x="976.33" y="902.5" font-family="Liberation Serif" font-size="29" fill="#1a1a1a" text-anchor="middle">10<tspan font-size="22.5" dy="-13.8">-3</tspan></text>
<line x1="1098.50" y1="570.50" x2="1098.50" y2="575.50" stroke="#595959" stroke-width="1.3"/>
<line x1="1098.50" y1="854.10" x2="1098.50" y2="859.10" stroke="#595959" stroke-width="1.3"/>
<text x="1099.00" y="902.5" font-family="Liberation Serif" font-size="29" fill="#1a1a1a" text-anchor="middle">10<tspan font-size="22.5" dy="-13.8">-2</tspan></text>
<line x1="1221.17" y1="570.50" x2="1221.17" y2="575.50" stroke="#595959" stroke-width="1.3"/>
<line x1="1221.17" y1="854.10" x2="1221.17" y2="859.10" stroke="#595959" stroke-width="1.3"/>
<text x="1221.67" y="902.5" font-family="Liberation Serif" font-size="29" fill="#1a1a1a" text-anchor="middle">10<tspan font-size="22.5" dy="-13.8">-1</tspan></text>
<line x1="910.00" y1="575.50" x2="914.50" y2="575.50" stroke="#595959" stroke-width="1.3"/>
<line x1="1282.50" y1="575.50" x2="1287.50" y2="575.50" stroke="#595959" stroke-width="1.3"/>
<line x1="910.00" y1="661.22" x2="914.50" y2="661.22" stroke="#595959" stroke-width="1.3"/>
<line x1="1282.50" y1="661.22" x2="1287.50" y2="661.22" stroke="#595959" stroke-width="1.3"/>
<line x1="910.00" y1="746.95" x2="914.50" y2="746.95" stroke="#595959" stroke-width="1.3"/>
<line x1="1282.50" y1="746.95" x2="1287.50" y2="746.95" stroke="#595959" stroke-width="1.3"/>
<line x1="910.00" y1="832.67" x2="914.50" y2="832.67" stroke="#595959" stroke-width="1.3"/>
<line x1="1282.50" y1="832.67" x2="1287.50" y2="832.67" stroke="#595959" stroke-width="1.3"/>
<text x="1098.50" y="940.00" font-family="Liberation Serif" font-weight="bold" font-size="31" fill="#262626" text-anchor="middle" >Frequency (cpd)</text>
<text x="931.00" y="612.80" font-family="Liberation Sans" font-weight="bold" font-size="30" fill="#000" text-anchor="start" >E</text>
<text x="115.5" y="588.80" font-family="Liberation Serif" font-size="29" fill="#1a1a1a" text-anchor="end">10<tspan font-size="22.5" dy="-13.3">2</tspan></text>
<text x="115.5" y="674.52" font-family="Liberation Serif" font-size="29" fill="#1a1a1a" text-anchor="end">10<tspan font-size="22.5" dy="-13.3">0</tspan></text>
<text x="115.5" y="760.25" font-family="Liberation Serif" font-size="29" fill="#1a1a1a" text-anchor="end">10<tspan font-size="22.5" dy="-13.3">-2</tspan></text>
<text x="115.5" y="845.97" font-family="Liberation Serif" font-size="29" fill="#1a1a1a" text-anchor="end">10<tspan font-size="22.5" dy="-13.3">-4</tspan></text>
<text x="1295.5" y="588.80" font-family="Liberation Serif" font-size="29" fill="#1a1a1a">10<tspan font-size="22.5" dy="-13.3">7</tspan></text>
<text x="1295.5" y="674.52" font-family="Liberation Serif" font-size="29" fill="#1a1a1a">10<tspan font-size="22.5" dy="-13.3">5</tspan></text>
<text x="1295.5" y="760.25" font-family="Liberation Serif" font-size="29" fill="#1a1a1a">10<tspan font-size="22.5" dy="-13.3">3</tspan></text>
<text x="1295.5" y="845.97" font-family="Liberation Serif" font-size="29" fill="#1a1a1a">10<tspan font-size="22.5" dy="-13.3">1</tspan></text>
<text x="22.00" y="715.00" font-family="Liberation Serif" font-weight="bold" font-size="31" fill="#262626" text-anchor="middle" transform="rotate(-90 22 715)">Spectral Density</text>
<text x="58.00" y="715.00" font-family="Liberation Serif" font-weight="bold" font-size="31" fill="#262626" text-anchor="middle" transform="rotate(-90 58 715)">(1/cpd)</text>
<text x="1367.50" y="715.00" font-family="Liberation Serif" font-weight="bold" font-size="31" fill="#262626" text-anchor="middle" transform="rotate(-90 1367.5 715)">Spectral Density</text>
<text x="1413.00" y="715.00" font-family="Liberation Serif" font-weight="bold" font-size="31" fill="#262626" text-anchor="middle" transform="rotate(-90 1413 715)">(m<tspan font-size="23" dy="-15">2</tspan><tspan dy="15">/cpd)</tspan></text>
<line x1="241.50" y1="604.10" x2="241.50" y2="664.50" stroke="#000" stroke-width="1.2"/>
<text font-family="Liberation Sans" font-size="23.5" fill="#000" transform="translate(246.50 605.60) rotate(90) scale(0.87 1)">374.97</text>
<line x1="380.40" y1="666.50" x2="380.40" y2="722.00" stroke="#000" stroke-width="1.2"/>
<text font-family="Liberation Sans" font-size="23.5" fill="#000" transform="translate(385.40 668.00) rotate(90) scale(0.87 1)">27.54</text>
<line x1="413.70" y1="661.80" x2="413.70" y2="717.00" stroke="#000" stroke-width="1.2"/>
<text font-family="Liberation Sans" font-size="23.5" fill="#000" transform="translate(418.70 663.30) rotate(90) scale(0.87 1)">14.76</text>
<line x1="634.20" y1="610.70" x2="634.20" y2="677.50" stroke="#000" stroke-width="1.2"/>
<text font-family="Liberation Sans" font-size="23.5" fill="#000" transform="translate(639.20 612.20) rotate(90) scale(0.87 1)">374.97</text>
<line x1="697.50" y1="636.40" x2="697.50" y2="697.50" stroke="#000" stroke-width="1.2"/>
<text font-family="Liberation Sans" font-size="23.5" fill="#000" transform="translate(702.50 637.90) rotate(90) scale(0.87 1)">114.82</text>
<line x1="745.50" y1="657.70" x2="745.50" y2="708.50" stroke="#000" stroke-width="1.2"/>
<text font-family="Liberation Sans" font-size="23.5" fill="#000" transform="translate(750.50 659.20) rotate(90) scale(0.87 1)">46.34</text>
<line x1="806.30" y1="671.10" x2="806.30" y2="718.00" stroke="#000" stroke-width="1.2"/>
<text font-family="Liberation Sans" font-size="23.5" fill="#000" transform="translate(811.30 672.60) rotate(90) scale(0.87 1)">14.76</text>
<line x1="1028.40" y1="575.50" x2="1028.40" y2="626.00" stroke="#000" stroke-width="1.2"/>
<text font-family="Liberation Sans" font-size="23.5" fill="#000" transform="translate(1033.40 577.00) rotate(90) scale(0.87 1)">374.97</text>
</svg></body></html>
